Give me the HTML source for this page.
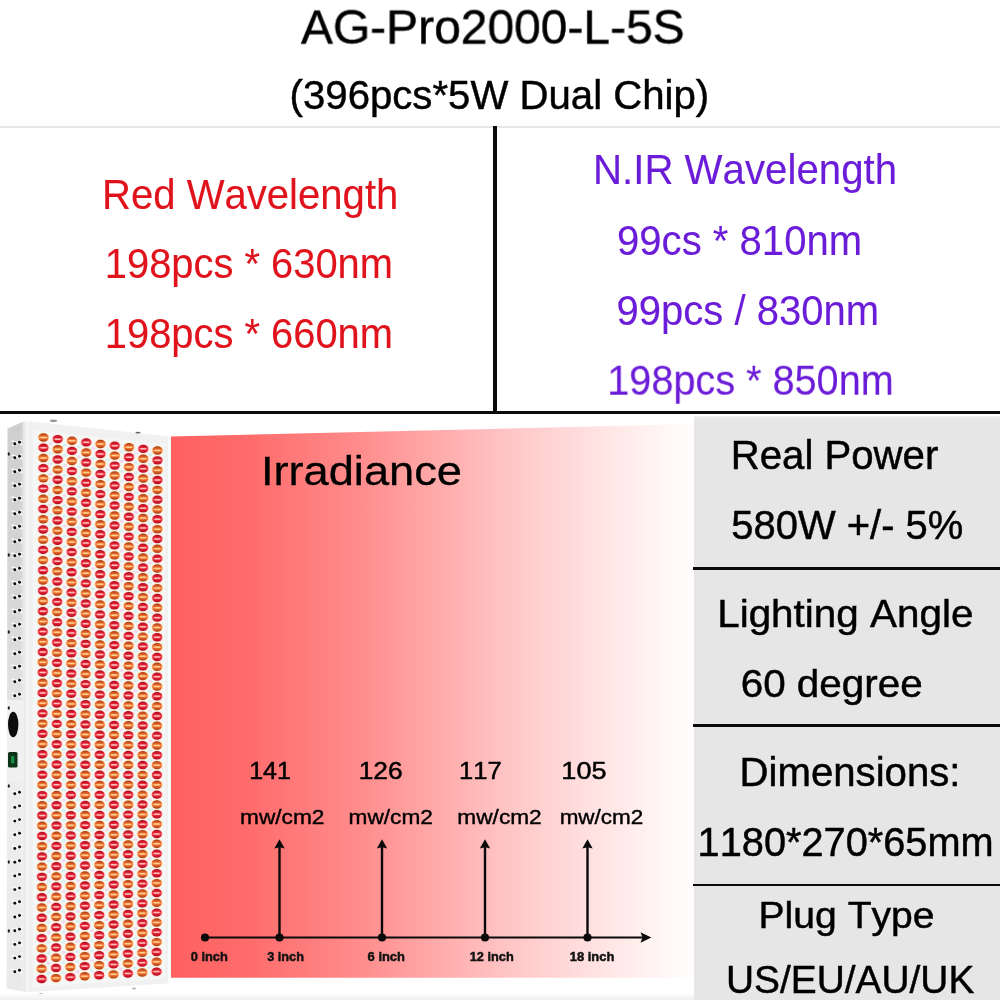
<!DOCTYPE html>
<html><head><meta charset="utf-8"><title>AG-Pro2000-L-5S</title>
<style>
html,body{margin:0;padding:0;background:#fff;width:1000px;height:1000px;overflow:hidden;}
body{width:1000px;height:1000px;position:relative;overflow:hidden;font-family:"Liberation Sans",sans-serif;color:#000;}
.abs{position:absolute;}
.t{position:absolute;left:0;top:0;white-space:pre;line-height:1;transform-origin:0 0;-webkit-text-stroke:0.45px currentColor;will-change:transform;font-kerning:none;}
.red{color:#e0121c;-webkit-text-stroke-width:0.1px;}
.pur{color:#6b1cd8;-webkit-text-stroke-width:0.1px;}
</style></head>
<body>
<svg class="abs" style="left:0;top:414px" width="175" height="586" viewBox="0 414 175 586">
<defs>
<linearGradient id="side" x1="0" x2="0" y1="0" y2="1"><stop offset="0" stop-color="#cecece"/><stop offset="0.3" stop-color="#d6d6d6"/><stop offset="0.5" stop-color="#e2e2e2"/><stop offset="0.62" stop-color="#ededed"/><stop offset="1" stop-color="#e9e9e9"/></linearGradient>
<linearGradient id="sideh" x1="0" x2="1" y1="0" y2="0"><stop offset="0" stop-color="#fff" stop-opacity="0.15"/><stop offset="0.18" stop-color="#fff" stop-opacity="0"/><stop offset="0.8" stop-color="#fff" stop-opacity="0"/><stop offset="1" stop-color="#fff" stop-opacity="0.25"/></linearGradient>
<linearGradient id="bev" x1="0" x2="1" y1="0" y2="0"><stop offset="0" stop-color="#e4e4e4"/><stop offset="0.45" stop-color="#f6f6f6"/><stop offset="1" stop-color="#ededed"/></linearGradient>
<linearGradient id="lr" x1="0" x2="0" y1="0" y2="1"><stop offset="0" stop-color="#a80d1c"/><stop offset="0.3" stop-color="#dc1c30"/><stop offset="0.5" stop-color="#f7565c"/><stop offset="0.7" stop-color="#dc1c30"/><stop offset="1" stop-color="#a80d1c"/></linearGradient>
<linearGradient id="lo" x1="0" x2="0" y1="0" y2="1"><stop offset="0" stop-color="#a03c12"/><stop offset="0.3" stop-color="#e2602a"/><stop offset="0.5" stop-color="#fb9a52"/><stop offset="0.7" stop-color="#e2602a"/><stop offset="1" stop-color="#a03c12"/></linearGradient>
<filter id="soft" x="-5%" y="-5%" width="110%" height="110%"><feGaussianBlur stdDeviation="0.45"/></filter>
</defs>
<g filter="url(#soft)">
<polygon points="31,421.5 168,436.3 168,983.5 31,992" fill="#f1f1f1"/>
<polygon points="33,430.5 165,444 165,978.5 33,987" fill="#f4f7f6"/>
<polygon points="7.5,428.5 23.5,421.5 23.5,991.5 6.5,988.5" fill="url(#side)"/>
<polygon points="7.5,428.5 23.5,421.5 23.5,991.5 6.5,988.5" fill="url(#sideh)"/>
<polygon points="23.5,421.5 31.5,421.5 31.5,992 23.5,991.5" fill="url(#bev)"/>
<ellipse cx="53.5" cy="420.8" rx="3.6" ry="1.4" fill="#9a9a9a"/>
<ellipse cx="138" cy="432.6" rx="2.6" ry="0.9" fill="#666"/>
<ellipse cx="41" cy="994" rx="2" ry="1" fill="#b5b5b5"/>
<ellipse cx="134" cy="988.5" rx="2" ry="1" fill="#b5b5b5"/>
<rect x="7" y="700" width="17" height="82" fill="#f0f0f0"/>
<path d="M11.5 440.8 L22.5 444.8 M12 445.6 L22 440" stroke="#f8f8f8" stroke-width="1.6" fill="none"/>
<circle cx="14.8" cy="443.7" r="1.45" fill="#080808"/><circle cx="19.5" cy="442.2" r="1.45" fill="#080808"/>
<path d="M11.5 454.8 L22.5 458.8 M12 459.6 L22 454" stroke="#f8f8f8" stroke-width="1.6" fill="none"/>
<circle cx="14.8" cy="457.7" r="1.45" fill="#080808"/><circle cx="19.5" cy="456.2" r="1.45" fill="#080808"/>
<path d="M11.5 468.8 L22.5 472.8 M12 473.6 L22 468" stroke="#f8f8f8" stroke-width="1.6" fill="none"/>
<circle cx="14.8" cy="471.7" r="1.45" fill="#080808"/><circle cx="19.5" cy="470.2" r="1.45" fill="#080808"/>
<path d="M11.5 482.8 L22.5 486.8 M12 487.6 L22 482" stroke="#f8f8f8" stroke-width="1.6" fill="none"/>
<circle cx="14.8" cy="485.7" r="1.45" fill="#080808"/><circle cx="19.5" cy="484.2" r="1.45" fill="#080808"/>
<path d="M11.5 496.8 L22.5 500.8 M12 501.6 L22 496" stroke="#f8f8f8" stroke-width="1.6" fill="none"/>
<circle cx="14.8" cy="499.7" r="1.45" fill="#080808"/><circle cx="19.5" cy="498.2" r="1.45" fill="#080808"/>
<path d="M11.5 510.8 L22.5 514.8 M12 515.6 L22 510" stroke="#f8f8f8" stroke-width="1.6" fill="none"/>
<circle cx="14.8" cy="513.7" r="1.45" fill="#080808"/><circle cx="19.5" cy="512.2" r="1.45" fill="#080808"/>
<path d="M11.5 524.8 L22.5 528.8 M12 529.6 L22 524" stroke="#f8f8f8" stroke-width="1.6" fill="none"/>
<circle cx="14.8" cy="527.7" r="1.45" fill="#080808"/><circle cx="19.5" cy="526.2" r="1.45" fill="#080808"/>
<path d="M11.5 538.8 L22.5 542.8 M12 543.6 L22 538" stroke="#f8f8f8" stroke-width="1.6" fill="none"/>
<circle cx="14.8" cy="541.7" r="1.45" fill="#080808"/><circle cx="19.5" cy="540.2" r="1.45" fill="#080808"/>
<path d="M11.5 552.8 L22.5 556.8 M12 557.6 L22 552" stroke="#f8f8f8" stroke-width="1.6" fill="none"/>
<circle cx="14.8" cy="555.7" r="1.45" fill="#080808"/><circle cx="19.5" cy="554.2" r="1.45" fill="#080808"/>
<path d="M11.5 566.8 L22.5 570.8 M12 571.6 L22 566" stroke="#f8f8f8" stroke-width="1.6" fill="none"/>
<circle cx="14.8" cy="569.7" r="1.45" fill="#080808"/><circle cx="19.5" cy="568.2" r="1.45" fill="#080808"/>
<path d="M11.5 580.8 L22.5 584.8 M12 585.6 L22 580" stroke="#f8f8f8" stroke-width="1.6" fill="none"/>
<circle cx="14.8" cy="583.7" r="1.45" fill="#080808"/><circle cx="19.5" cy="582.2" r="1.45" fill="#080808"/>
<path d="M11.5 594.8 L22.5 598.8 M12 599.6 L22 594" stroke="#f8f8f8" stroke-width="1.6" fill="none"/>
<circle cx="14.8" cy="597.7" r="1.45" fill="#080808"/><circle cx="19.5" cy="596.2" r="1.45" fill="#080808"/>
<path d="M11.5 608.8 L22.5 612.8 M12 613.6 L22 608" stroke="#f8f8f8" stroke-width="1.6" fill="none"/>
<circle cx="14.8" cy="611.7" r="1.45" fill="#080808"/><circle cx="19.5" cy="610.2" r="1.45" fill="#080808"/>
<path d="M11.5 622.8 L22.5 626.8 M12 627.6 L22 622" stroke="#f8f8f8" stroke-width="1.6" fill="none"/>
<circle cx="14.8" cy="625.7" r="1.45" fill="#080808"/><circle cx="19.5" cy="624.2" r="1.45" fill="#080808"/>
<path d="M11.5 636.8 L22.5 640.8 M12 641.6 L22 636" stroke="#f8f8f8" stroke-width="1.6" fill="none"/>
<circle cx="14.8" cy="639.7" r="1.45" fill="#080808"/><circle cx="19.5" cy="638.2" r="1.45" fill="#080808"/>
<path d="M11.5 650.8 L22.5 654.8 M12 655.6 L22 650" stroke="#f8f8f8" stroke-width="1.6" fill="none"/>
<circle cx="14.8" cy="653.7" r="1.45" fill="#080808"/><circle cx="19.5" cy="652.2" r="1.45" fill="#080808"/>
<path d="M11.5 664.8 L22.5 668.8 M12 669.6 L22 664" stroke="#f8f8f8" stroke-width="1.6" fill="none"/>
<circle cx="14.8" cy="667.7" r="1.45" fill="#080808"/><circle cx="19.5" cy="666.2" r="1.45" fill="#080808"/>
<path d="M11.5 678.8 L22.5 682.8 M12 683.6 L22 678" stroke="#f8f8f8" stroke-width="1.6" fill="none"/>
<circle cx="14.8" cy="681.7" r="1.45" fill="#080808"/><circle cx="19.5" cy="680.2" r="1.45" fill="#080808"/>
<path d="M11.5 692.8 L22.5 696.8 M12 697.6 L22 692" stroke="#f8f8f8" stroke-width="1.6" fill="none"/>
<circle cx="14.8" cy="695.7" r="1.45" fill="#080808"/><circle cx="19.5" cy="694.2" r="1.45" fill="#080808"/>
<path d="M11.5 790.8 L22.5 794.8 M12 795.6 L22 790" stroke="#f8f8f8" stroke-width="1.6" fill="none"/>
<circle cx="14.8" cy="793.7" r="1.45" fill="#080808"/><circle cx="19.5" cy="792.2" r="1.45" fill="#080808"/>
<path d="M11.5 804.5 L22.5 808.5 M12 809.3 L22 803.7" stroke="#f8f8f8" stroke-width="1.6" fill="none"/>
<circle cx="14.8" cy="807.4" r="1.45" fill="#080808"/><circle cx="19.5" cy="805.9" r="1.45" fill="#080808"/>
<path d="M11.5 818.2 L22.5 822.2 M12 823 L22 817.4" stroke="#f8f8f8" stroke-width="1.6" fill="none"/>
<circle cx="14.8" cy="821.1" r="1.45" fill="#080808"/><circle cx="19.5" cy="819.6" r="1.45" fill="#080808"/>
<path d="M11.5 831.9 L22.5 835.9 M12 836.7 L22 831.1" stroke="#f8f8f8" stroke-width="1.6" fill="none"/>
<circle cx="14.8" cy="834.8" r="1.45" fill="#080808"/><circle cx="19.5" cy="833.3" r="1.45" fill="#080808"/>
<path d="M11.5 845.6 L22.5 849.6 M12 850.4 L22 844.8" stroke="#f8f8f8" stroke-width="1.6" fill="none"/>
<circle cx="14.8" cy="848.5" r="1.45" fill="#080808"/><circle cx="19.5" cy="847" r="1.45" fill="#080808"/>
<path d="M11.5 859.3 L22.5 863.3 M12 864.1 L22 858.5" stroke="#f8f8f8" stroke-width="1.6" fill="none"/>
<circle cx="14.8" cy="862.2" r="1.45" fill="#080808"/><circle cx="19.5" cy="860.7" r="1.45" fill="#080808"/>
<path d="M11.5 873 L22.5 877 M12 877.8 L22 872.2" stroke="#f8f8f8" stroke-width="1.6" fill="none"/>
<circle cx="14.8" cy="875.9" r="1.45" fill="#080808"/><circle cx="19.5" cy="874.4" r="1.45" fill="#080808"/>
<path d="M11.5 886.7 L22.5 890.7 M12 891.5 L22 885.9" stroke="#f8f8f8" stroke-width="1.6" fill="none"/>
<circle cx="14.8" cy="889.6" r="1.45" fill="#080808"/><circle cx="19.5" cy="888.1" r="1.45" fill="#080808"/>
<path d="M11.5 900.4 L22.5 904.4 M12 905.2 L22 899.6" stroke="#f8f8f8" stroke-width="1.6" fill="none"/>
<circle cx="14.8" cy="903.3" r="1.45" fill="#080808"/><circle cx="19.5" cy="901.8" r="1.45" fill="#080808"/>
<path d="M11.5 914.1 L22.5 918.1 M12 918.9 L22 913.3" stroke="#f8f8f8" stroke-width="1.6" fill="none"/>
<circle cx="14.8" cy="917" r="1.45" fill="#080808"/><circle cx="19.5" cy="915.5" r="1.45" fill="#080808"/>
<path d="M11.5 927.8 L22.5 931.8 M12 932.6 L22 927" stroke="#f8f8f8" stroke-width="1.6" fill="none"/>
<circle cx="14.8" cy="930.7" r="1.45" fill="#080808"/><circle cx="19.5" cy="929.2" r="1.45" fill="#080808"/>
<path d="M11.5 941.5 L22.5 945.5 M12 946.3 L22 940.7" stroke="#f8f8f8" stroke-width="1.6" fill="none"/>
<circle cx="14.8" cy="944.4" r="1.45" fill="#080808"/><circle cx="19.5" cy="942.9" r="1.45" fill="#080808"/>
<path d="M11.5 955.2 L22.5 959.2 M12 960 L22 954.4" stroke="#f8f8f8" stroke-width="1.6" fill="none"/>
<circle cx="14.8" cy="958.1" r="1.45" fill="#080808"/><circle cx="19.5" cy="956.6" r="1.45" fill="#080808"/>
<path d="M11.5 968.9 L22.5 972.9 M12 973.7 L22 968.1" stroke="#f8f8f8" stroke-width="1.6" fill="none"/>
<circle cx="14.8" cy="971.8" r="1.45" fill="#080808"/><circle cx="19.5" cy="970.3" r="1.45" fill="#080808"/>
<ellipse cx="8.8" cy="454" rx="1.1" ry="1.8" fill="#1c1c1c"/>
<ellipse cx="8.8" cy="555" rx="1.1" ry="1.8" fill="#1c1c1c"/>
<ellipse cx="8.8" cy="632" rx="1.1" ry="1.8" fill="#1c1c1c"/>
<ellipse cx="8.8" cy="708" rx="1.1" ry="1.8" fill="#1c1c1c"/>
<ellipse cx="8.8" cy="786" rx="1.1" ry="1.8" fill="#1c1c1c"/>
<ellipse cx="8.8" cy="862" rx="1.1" ry="1.8" fill="#1c1c1c"/>
<ellipse cx="8.8" cy="931" rx="1.1" ry="1.8" fill="#1c1c1c"/>
<ellipse cx="13.2" cy="724.5" rx="5.2" ry="12.8" fill="#0e0e0e"/>
<rect x="8" y="752" width="9.5" height="15.5" rx="1.5" fill="#0a3319"/>
<rect x="11" y="756" width="3.4" height="7.5" rx="1" fill="#188f44"/>
<ellipse cx="50.61" cy="443.4" rx="2.2" ry="1.6" fill="#f3dcec"/>
<ellipse cx="64.86" cy="445" rx="2.2" ry="1.6" fill="#d9f0ee"/>
<ellipse cx="79.11" cy="446.6" rx="2.2" ry="1.6" fill="#d9f0ee"/>
<ellipse cx="93.36" cy="448.2" rx="2.2" ry="1.6" fill="#f3dcec"/>
<ellipse cx="107.61" cy="449.8" rx="2.2" ry="1.6" fill="#d9f0ee"/>
<ellipse cx="121.86" cy="451.4" rx="2.2" ry="1.6" fill="#d9f0ee"/>
<ellipse cx="136.12" cy="453" rx="2.2" ry="1.6" fill="#f3dcec"/>
<ellipse cx="150.37" cy="454.6" rx="2.2" ry="1.6" fill="#d9f0ee"/>
<ellipse cx="50.57" cy="453.59" rx="2.2" ry="1.6" fill="#d9f0ee"/>
<ellipse cx="64.83" cy="455.14" rx="2.2" ry="1.6" fill="#d9f0ee"/>
<ellipse cx="79.08" cy="456.7" rx="2.2" ry="1.6" fill="#f3dcec"/>
<ellipse cx="93.33" cy="458.25" rx="2.2" ry="1.6" fill="#d9f0ee"/>
<ellipse cx="107.59" cy="459.8" rx="2.2" ry="1.6" fill="#d9f0ee"/>
<ellipse cx="121.84" cy="461.35" rx="2.2" ry="1.6" fill="#f3dcec"/>
<ellipse cx="136.09" cy="462.91" rx="2.2" ry="1.6" fill="#d9f0ee"/>
<ellipse cx="150.35" cy="464.46" rx="2.2" ry="1.6" fill="#d9f0ee"/>
<ellipse cx="50.54" cy="463.78" rx="2.2" ry="1.6" fill="#d9f0ee"/>
<ellipse cx="64.79" cy="465.29" rx="2.2" ry="1.6" fill="#f3dcec"/>
<ellipse cx="79.05" cy="466.79" rx="2.2" ry="1.6" fill="#d9f0ee"/>
<ellipse cx="93.31" cy="468.3" rx="2.2" ry="1.6" fill="#d9f0ee"/>
<ellipse cx="107.56" cy="469.8" rx="2.2" ry="1.6" fill="#f3dcec"/>
<ellipse cx="121.82" cy="471.31" rx="2.2" ry="1.6" fill="#d9f0ee"/>
<ellipse cx="136.07" cy="472.81" rx="2.2" ry="1.6" fill="#d9f0ee"/>
<ellipse cx="150.33" cy="474.32" rx="2.2" ry="1.6" fill="#f3dcec"/>
<ellipse cx="50.5" cy="473.98" rx="2.2" ry="1.6" fill="#f3dcec"/>
<ellipse cx="64.76" cy="475.43" rx="2.2" ry="1.6" fill="#d9f0ee"/>
<ellipse cx="79.02" cy="476.89" rx="2.2" ry="1.6" fill="#d9f0ee"/>
<ellipse cx="93.28" cy="478.35" rx="2.2" ry="1.6" fill="#f3dcec"/>
<ellipse cx="107.54" cy="479.8" rx="2.2" ry="1.6" fill="#d9f0ee"/>
<ellipse cx="121.8" cy="481.26" rx="2.2" ry="1.6" fill="#d9f0ee"/>
<ellipse cx="136.05" cy="482.72" rx="2.2" ry="1.6" fill="#f3dcec"/>
<ellipse cx="150.31" cy="484.17" rx="2.2" ry="1.6" fill="#d9f0ee"/>
<ellipse cx="50.47" cy="484.17" rx="2.2" ry="1.6" fill="#d9f0ee"/>
<ellipse cx="64.73" cy="485.58" rx="2.2" ry="1.6" fill="#d9f0ee"/>
<ellipse cx="78.99" cy="486.99" rx="2.2" ry="1.6" fill="#f3dcec"/>
<ellipse cx="93.25" cy="488.39" rx="2.2" ry="1.6" fill="#d9f0ee"/>
<ellipse cx="107.51" cy="489.8" rx="2.2" ry="1.6" fill="#d9f0ee"/>
<ellipse cx="121.77" cy="491.21" rx="2.2" ry="1.6" fill="#f3dcec"/>
<ellipse cx="136.03" cy="492.62" rx="2.2" ry="1.6" fill="#d9f0ee"/>
<ellipse cx="150.29" cy="494.03" rx="2.2" ry="1.6" fill="#d9f0ee"/>
<ellipse cx="50.43" cy="494.36" rx="2.2" ry="1.6" fill="#d9f0ee"/>
<ellipse cx="64.7" cy="495.72" rx="2.2" ry="1.6" fill="#f3dcec"/>
<ellipse cx="78.96" cy="497.08" rx="2.2" ry="1.6" fill="#d9f0ee"/>
<ellipse cx="93.22" cy="498.44" rx="2.2" ry="1.6" fill="#d9f0ee"/>
<ellipse cx="107.49" cy="499.8" rx="2.2" ry="1.6" fill="#f3dcec"/>
<ellipse cx="121.75" cy="501.16" rx="2.2" ry="1.6" fill="#d9f0ee"/>
<ellipse cx="136.01" cy="502.52" rx="2.2" ry="1.6" fill="#d9f0ee"/>
<ellipse cx="150.28" cy="503.88" rx="2.2" ry="1.6" fill="#f3dcec"/>
<ellipse cx="50.4" cy="504.55" rx="2.2" ry="1.6" fill="#f3dcec"/>
<ellipse cx="64.67" cy="505.87" rx="2.2" ry="1.6" fill="#d9f0ee"/>
<ellipse cx="78.93" cy="507.18" rx="2.2" ry="1.6" fill="#d9f0ee"/>
<ellipse cx="93.2" cy="508.49" rx="2.2" ry="1.6" fill="#f3dcec"/>
<ellipse cx="107.46" cy="509.8" rx="2.2" ry="1.6" fill="#d9f0ee"/>
<ellipse cx="121.73" cy="511.12" rx="2.2" ry="1.6" fill="#d9f0ee"/>
<ellipse cx="135.99" cy="512.43" rx="2.2" ry="1.6" fill="#f3dcec"/>
<ellipse cx="150.26" cy="513.74" rx="2.2" ry="1.6" fill="#d9f0ee"/>
<ellipse cx="50.37" cy="514.75" rx="2.2" ry="1.6" fill="#d9f0ee"/>
<ellipse cx="64.63" cy="516.01" rx="2.2" ry="1.6" fill="#d9f0ee"/>
<ellipse cx="78.9" cy="517.28" rx="2.2" ry="1.6" fill="#f3dcec"/>
<ellipse cx="93.17" cy="518.54" rx="2.2" ry="1.6" fill="#d9f0ee"/>
<ellipse cx="107.44" cy="519.8" rx="2.2" ry="1.6" fill="#d9f0ee"/>
<ellipse cx="121.7" cy="521.07" rx="2.2" ry="1.6" fill="#f3dcec"/>
<ellipse cx="135.97" cy="522.33" rx="2.2" ry="1.6" fill="#d9f0ee"/>
<ellipse cx="150.24" cy="523.6" rx="2.2" ry="1.6" fill="#d9f0ee"/>
<ellipse cx="50.33" cy="524.94" rx="2.2" ry="1.6" fill="#d9f0ee"/>
<ellipse cx="64.6" cy="526.16" rx="2.2" ry="1.6" fill="#f3dcec"/>
<ellipse cx="78.87" cy="527.37" rx="2.2" ry="1.6" fill="#d9f0ee"/>
<ellipse cx="93.14" cy="528.59" rx="2.2" ry="1.6" fill="#d9f0ee"/>
<ellipse cx="107.41" cy="529.8" rx="2.2" ry="1.6" fill="#f3dcec"/>
<ellipse cx="121.68" cy="531.02" rx="2.2" ry="1.6" fill="#d9f0ee"/>
<ellipse cx="135.95" cy="532.24" rx="2.2" ry="1.6" fill="#d9f0ee"/>
<ellipse cx="150.22" cy="533.45" rx="2.2" ry="1.6" fill="#f3dcec"/>
<ellipse cx="50.3" cy="535.13" rx="2.2" ry="1.6" fill="#f3dcec"/>
<ellipse cx="64.57" cy="536.3" rx="2.2" ry="1.6" fill="#d9f0ee"/>
<ellipse cx="78.84" cy="537.47" rx="2.2" ry="1.6" fill="#d9f0ee"/>
<ellipse cx="93.11" cy="538.64" rx="2.2" ry="1.6" fill="#f3dcec"/>
<ellipse cx="107.39" cy="539.8" rx="2.2" ry="1.6" fill="#d9f0ee"/>
<ellipse cx="121.66" cy="540.97" rx="2.2" ry="1.6" fill="#d9f0ee"/>
<ellipse cx="135.93" cy="542.14" rx="2.2" ry="1.6" fill="#f3dcec"/>
<ellipse cx="150.2" cy="543.31" rx="2.2" ry="1.6" fill="#d9f0ee"/>
<ellipse cx="50.26" cy="545.33" rx="2.2" ry="1.6" fill="#d9f0ee"/>
<ellipse cx="64.54" cy="546.45" rx="2.2" ry="1.6" fill="#d9f0ee"/>
<ellipse cx="78.81" cy="547.57" rx="2.2" ry="1.6" fill="#f3dcec"/>
<ellipse cx="93.09" cy="548.69" rx="2.2" ry="1.6" fill="#d9f0ee"/>
<ellipse cx="107.36" cy="549.81" rx="2.2" ry="1.6" fill="#d9f0ee"/>
<ellipse cx="121.64" cy="550.93" rx="2.2" ry="1.6" fill="#f3dcec"/>
<ellipse cx="135.91" cy="552.05" rx="2.2" ry="1.6" fill="#d9f0ee"/>
<ellipse cx="150.18" cy="553.16" rx="2.2" ry="1.6" fill="#d9f0ee"/>
<ellipse cx="50.23" cy="555.52" rx="2.2" ry="1.6" fill="#d9f0ee"/>
<ellipse cx="64.5" cy="556.59" rx="2.2" ry="1.6" fill="#f3dcec"/>
<ellipse cx="78.78" cy="557.66" rx="2.2" ry="1.6" fill="#d9f0ee"/>
<ellipse cx="93.06" cy="558.73" rx="2.2" ry="1.6" fill="#d9f0ee"/>
<ellipse cx="107.34" cy="559.81" rx="2.2" ry="1.6" fill="#f3dcec"/>
<ellipse cx="121.61" cy="560.88" rx="2.2" ry="1.6" fill="#d9f0ee"/>
<ellipse cx="135.89" cy="561.95" rx="2.2" ry="1.6" fill="#d9f0ee"/>
<ellipse cx="150.17" cy="563.02" rx="2.2" ry="1.6" fill="#f3dcec"/>
<ellipse cx="50.19" cy="565.71" rx="2.2" ry="1.6" fill="#f3dcec"/>
<ellipse cx="64.47" cy="566.74" rx="2.2" ry="1.6" fill="#d9f0ee"/>
<ellipse cx="78.75" cy="567.76" rx="2.2" ry="1.6" fill="#d9f0ee"/>
<ellipse cx="93.03" cy="568.78" rx="2.2" ry="1.6" fill="#f3dcec"/>
<ellipse cx="107.31" cy="569.81" rx="2.2" ry="1.6" fill="#d9f0ee"/>
<ellipse cx="121.59" cy="570.83" rx="2.2" ry="1.6" fill="#d9f0ee"/>
<ellipse cx="135.87" cy="571.85" rx="2.2" ry="1.6" fill="#f3dcec"/>
<ellipse cx="150.15" cy="572.88" rx="2.2" ry="1.6" fill="#d9f0ee"/>
<ellipse cx="50.16" cy="575.9" rx="2.2" ry="1.6" fill="#d9f0ee"/>
<ellipse cx="64.44" cy="576.88" rx="2.2" ry="1.6" fill="#d9f0ee"/>
<ellipse cx="78.72" cy="577.86" rx="2.2" ry="1.6" fill="#f3dcec"/>
<ellipse cx="93" cy="578.83" rx="2.2" ry="1.6" fill="#d9f0ee"/>
<ellipse cx="107.28" cy="579.81" rx="2.2" ry="1.6" fill="#d9f0ee"/>
<ellipse cx="121.57" cy="580.78" rx="2.2" ry="1.6" fill="#f3dcec"/>
<ellipse cx="135.85" cy="581.76" rx="2.2" ry="1.6" fill="#d9f0ee"/>
<ellipse cx="150.13" cy="582.73" rx="2.2" ry="1.6" fill="#d9f0ee"/>
<ellipse cx="50.12" cy="586.1" rx="2.2" ry="1.6" fill="#d9f0ee"/>
<ellipse cx="64.41" cy="587.03" rx="2.2" ry="1.6" fill="#f3dcec"/>
<ellipse cx="78.69" cy="587.95" rx="2.2" ry="1.6" fill="#d9f0ee"/>
<ellipse cx="92.98" cy="588.88" rx="2.2" ry="1.6" fill="#d9f0ee"/>
<ellipse cx="107.26" cy="589.81" rx="2.2" ry="1.6" fill="#f3dcec"/>
<ellipse cx="121.54" cy="590.73" rx="2.2" ry="1.6" fill="#d9f0ee"/>
<ellipse cx="135.83" cy="591.66" rx="2.2" ry="1.6" fill="#d9f0ee"/>
<ellipse cx="150.11" cy="592.59" rx="2.2" ry="1.6" fill="#f3dcec"/>
<ellipse cx="50.09" cy="596.29" rx="2.2" ry="1.6" fill="#f3dcec"/>
<ellipse cx="64.37" cy="597.17" rx="2.2" ry="1.6" fill="#d9f0ee"/>
<ellipse cx="78.66" cy="598.05" rx="2.2" ry="1.6" fill="#d9f0ee"/>
<ellipse cx="92.95" cy="598.93" rx="2.2" ry="1.6" fill="#f3dcec"/>
<ellipse cx="107.23" cy="599.81" rx="2.2" ry="1.6" fill="#d9f0ee"/>
<ellipse cx="121.52" cy="600.69" rx="2.2" ry="1.6" fill="#d9f0ee"/>
<ellipse cx="135.81" cy="601.57" rx="2.2" ry="1.6" fill="#f3dcec"/>
<ellipse cx="150.09" cy="602.45" rx="2.2" ry="1.6" fill="#d9f0ee"/>
<ellipse cx="50.05" cy="606.48" rx="2.2" ry="1.6" fill="#d9f0ee"/>
<ellipse cx="64.34" cy="607.31" rx="2.2" ry="1.6" fill="#d9f0ee"/>
<ellipse cx="78.63" cy="608.15" rx="2.2" ry="1.6" fill="#f3dcec"/>
<ellipse cx="92.92" cy="608.98" rx="2.2" ry="1.6" fill="#d9f0ee"/>
<ellipse cx="107.21" cy="609.81" rx="2.2" ry="1.6" fill="#d9f0ee"/>
<ellipse cx="121.5" cy="610.64" rx="2.2" ry="1.6" fill="#f3dcec"/>
<ellipse cx="135.79" cy="611.47" rx="2.2" ry="1.6" fill="#d9f0ee"/>
<ellipse cx="150.08" cy="612.3" rx="2.2" ry="1.6" fill="#d9f0ee"/>
<ellipse cx="50.02" cy="616.68" rx="2.2" ry="1.6" fill="#d9f0ee"/>
<ellipse cx="64.31" cy="617.46" rx="2.2" ry="1.6" fill="#f3dcec"/>
<ellipse cx="78.6" cy="618.24" rx="2.2" ry="1.6" fill="#d9f0ee"/>
<ellipse cx="92.89" cy="619.03" rx="2.2" ry="1.6" fill="#d9f0ee"/>
<ellipse cx="107.18" cy="619.81" rx="2.2" ry="1.6" fill="#f3dcec"/>
<ellipse cx="121.48" cy="620.59" rx="2.2" ry="1.6" fill="#d9f0ee"/>
<ellipse cx="135.77" cy="621.37" rx="2.2" ry="1.6" fill="#d9f0ee"/>
<ellipse cx="150.06" cy="622.16" rx="2.2" ry="1.6" fill="#f3dcec"/>
<ellipse cx="49.98" cy="626.87" rx="2.2" ry="1.6" fill="#f3dcec"/>
<ellipse cx="64.28" cy="627.6" rx="2.2" ry="1.6" fill="#d9f0ee"/>
<ellipse cx="78.57" cy="628.34" rx="2.2" ry="1.6" fill="#d9f0ee"/>
<ellipse cx="92.87" cy="629.07" rx="2.2" ry="1.6" fill="#f3dcec"/>
<ellipse cx="107.16" cy="629.81" rx="2.2" ry="1.6" fill="#d9f0ee"/>
<ellipse cx="121.45" cy="630.54" rx="2.2" ry="1.6" fill="#d9f0ee"/>
<ellipse cx="135.75" cy="631.28" rx="2.2" ry="1.6" fill="#f3dcec"/>
<ellipse cx="150.04" cy="632.01" rx="2.2" ry="1.6" fill="#d9f0ee"/>
<ellipse cx="49.95" cy="637.06" rx="2.2" ry="1.6" fill="#d9f0ee"/>
<ellipse cx="64.25" cy="637.75" rx="2.2" ry="1.6" fill="#d9f0ee"/>
<ellipse cx="78.54" cy="638.44" rx="2.2" ry="1.6" fill="#f3dcec"/>
<ellipse cx="92.84" cy="639.12" rx="2.2" ry="1.6" fill="#d9f0ee"/>
<ellipse cx="107.13" cy="639.81" rx="2.2" ry="1.6" fill="#d9f0ee"/>
<ellipse cx="121.43" cy="640.5" rx="2.2" ry="1.6" fill="#f3dcec"/>
<ellipse cx="135.73" cy="641.18" rx="2.2" ry="1.6" fill="#d9f0ee"/>
<ellipse cx="150.02" cy="641.87" rx="2.2" ry="1.6" fill="#d9f0ee"/>
<ellipse cx="49.91" cy="647.26" rx="2.2" ry="1.6" fill="#d9f0ee"/>
<ellipse cx="64.21" cy="647.89" rx="2.2" ry="1.6" fill="#f3dcec"/>
<ellipse cx="78.51" cy="648.53" rx="2.2" ry="1.6" fill="#d9f0ee"/>
<ellipse cx="92.81" cy="649.17" rx="2.2" ry="1.6" fill="#d9f0ee"/>
<ellipse cx="107.11" cy="649.81" rx="2.2" ry="1.6" fill="#f3dcec"/>
<ellipse cx="121.41" cy="650.45" rx="2.2" ry="1.6" fill="#d9f0ee"/>
<ellipse cx="135.7" cy="651.09" rx="2.2" ry="1.6" fill="#d9f0ee"/>
<ellipse cx="150" cy="651.73" rx="2.2" ry="1.6" fill="#f3dcec"/>
<ellipse cx="49.88" cy="657.45" rx="2.2" ry="1.6" fill="#f3dcec"/>
<ellipse cx="64.18" cy="658.04" rx="2.2" ry="1.6" fill="#d9f0ee"/>
<ellipse cx="78.48" cy="658.63" rx="2.2" ry="1.6" fill="#d9f0ee"/>
<ellipse cx="92.78" cy="659.22" rx="2.2" ry="1.6" fill="#f3dcec"/>
<ellipse cx="107.08" cy="659.81" rx="2.2" ry="1.6" fill="#d9f0ee"/>
<ellipse cx="121.38" cy="660.4" rx="2.2" ry="1.6" fill="#d9f0ee"/>
<ellipse cx="135.68" cy="660.99" rx="2.2" ry="1.6" fill="#f3dcec"/>
<ellipse cx="149.99" cy="661.58" rx="2.2" ry="1.6" fill="#d9f0ee"/>
<ellipse cx="49.85" cy="667.64" rx="2.2" ry="1.6" fill="#d9f0ee"/>
<ellipse cx="64.15" cy="668.18" rx="2.2" ry="1.6" fill="#d9f0ee"/>
<ellipse cx="78.45" cy="668.73" rx="2.2" ry="1.6" fill="#f3dcec"/>
<ellipse cx="92.75" cy="669.27" rx="2.2" ry="1.6" fill="#d9f0ee"/>
<ellipse cx="107.06" cy="669.81" rx="2.2" ry="1.6" fill="#d9f0ee"/>
<ellipse cx="121.36" cy="670.35" rx="2.2" ry="1.6" fill="#f3dcec"/>
<ellipse cx="135.66" cy="670.9" rx="2.2" ry="1.6" fill="#d9f0ee"/>
<ellipse cx="149.97" cy="671.44" rx="2.2" ry="1.6" fill="#d9f0ee"/>
<ellipse cx="49.81" cy="677.83" rx="2.2" ry="1.6" fill="#d9f0ee"/>
<ellipse cx="64.12" cy="678.33" rx="2.2" ry="1.6" fill="#f3dcec"/>
<ellipse cx="78.42" cy="678.82" rx="2.2" ry="1.6" fill="#d9f0ee"/>
<ellipse cx="92.73" cy="679.32" rx="2.2" ry="1.6" fill="#d9f0ee"/>
<ellipse cx="107.03" cy="679.81" rx="2.2" ry="1.6" fill="#f3dcec"/>
<ellipse cx="121.34" cy="680.31" rx="2.2" ry="1.6" fill="#d9f0ee"/>
<ellipse cx="135.64" cy="680.8" rx="2.2" ry="1.6" fill="#d9f0ee"/>
<ellipse cx="149.95" cy="681.29" rx="2.2" ry="1.6" fill="#f3dcec"/>
<ellipse cx="49.78" cy="688.03" rx="2.2" ry="1.6" fill="#f3dcec"/>
<ellipse cx="64.08" cy="688.47" rx="2.2" ry="1.6" fill="#d9f0ee"/>
<ellipse cx="78.39" cy="688.92" rx="2.2" ry="1.6" fill="#d9f0ee"/>
<ellipse cx="92.7" cy="689.37" rx="2.2" ry="1.6" fill="#f3dcec"/>
<ellipse cx="107.01" cy="689.81" rx="2.2" ry="1.6" fill="#d9f0ee"/>
<ellipse cx="121.32" cy="690.26" rx="2.2" ry="1.6" fill="#d9f0ee"/>
<ellipse cx="135.62" cy="690.7" rx="2.2" ry="1.6" fill="#f3dcec"/>
<ellipse cx="149.93" cy="691.15" rx="2.2" ry="1.6" fill="#d9f0ee"/>
<ellipse cx="49.74" cy="698.22" rx="2.2" ry="1.6" fill="#d9f0ee"/>
<ellipse cx="64.05" cy="698.62" rx="2.2" ry="1.6" fill="#d9f0ee"/>
<ellipse cx="78.36" cy="699.02" rx="2.2" ry="1.6" fill="#f3dcec"/>
<ellipse cx="92.67" cy="699.41" rx="2.2" ry="1.6" fill="#d9f0ee"/>
<ellipse cx="106.98" cy="699.81" rx="2.2" ry="1.6" fill="#d9f0ee"/>
<ellipse cx="121.29" cy="700.21" rx="2.2" ry="1.6" fill="#f3dcec"/>
<ellipse cx="135.6" cy="700.61" rx="2.2" ry="1.6" fill="#d9f0ee"/>
<ellipse cx="149.91" cy="701.01" rx="2.2" ry="1.6" fill="#d9f0ee"/>
<ellipse cx="49.71" cy="708.41" rx="2.2" ry="1.6" fill="#d9f0ee"/>
<ellipse cx="64.02" cy="708.76" rx="2.2" ry="1.6" fill="#f3dcec"/>
<ellipse cx="78.33" cy="709.11" rx="2.2" ry="1.6" fill="#d9f0ee"/>
<ellipse cx="92.64" cy="709.46" rx="2.2" ry="1.6" fill="#d9f0ee"/>
<ellipse cx="106.96" cy="709.81" rx="2.2" ry="1.6" fill="#f3dcec"/>
<ellipse cx="121.27" cy="710.16" rx="2.2" ry="1.6" fill="#d9f0ee"/>
<ellipse cx="135.58" cy="710.51" rx="2.2" ry="1.6" fill="#d9f0ee"/>
<ellipse cx="149.89" cy="710.86" rx="2.2" ry="1.6" fill="#f3dcec"/>
<ellipse cx="49.67" cy="718.61" rx="2.2" ry="1.6" fill="#f3dcec"/>
<ellipse cx="63.99" cy="718.91" rx="2.2" ry="1.6" fill="#d9f0ee"/>
<ellipse cx="78.3" cy="719.21" rx="2.2" ry="1.6" fill="#d9f0ee"/>
<ellipse cx="92.62" cy="719.51" rx="2.2" ry="1.6" fill="#f3dcec"/>
<ellipse cx="106.93" cy="719.81" rx="2.2" ry="1.6" fill="#d9f0ee"/>
<ellipse cx="121.25" cy="720.12" rx="2.2" ry="1.6" fill="#d9f0ee"/>
<ellipse cx="135.56" cy="720.42" rx="2.2" ry="1.6" fill="#f3dcec"/>
<ellipse cx="149.88" cy="720.72" rx="2.2" ry="1.6" fill="#d9f0ee"/>
<ellipse cx="49.64" cy="728.8" rx="2.2" ry="1.6" fill="#d9f0ee"/>
<ellipse cx="63.95" cy="729.05" rx="2.2" ry="1.6" fill="#d9f0ee"/>
<ellipse cx="78.27" cy="729.31" rx="2.2" ry="1.6" fill="#f3dcec"/>
<ellipse cx="92.59" cy="729.56" rx="2.2" ry="1.6" fill="#d9f0ee"/>
<ellipse cx="106.91" cy="729.81" rx="2.2" ry="1.6" fill="#d9f0ee"/>
<ellipse cx="121.22" cy="730.07" rx="2.2" ry="1.6" fill="#f3dcec"/>
<ellipse cx="135.54" cy="730.32" rx="2.2" ry="1.6" fill="#d9f0ee"/>
<ellipse cx="149.86" cy="730.58" rx="2.2" ry="1.6" fill="#d9f0ee"/>
<ellipse cx="49.6" cy="738.99" rx="2.2" ry="1.6" fill="#d9f0ee"/>
<ellipse cx="63.92" cy="739.2" rx="2.2" ry="1.6" fill="#f3dcec"/>
<ellipse cx="78.24" cy="739.4" rx="2.2" ry="1.6" fill="#d9f0ee"/>
<ellipse cx="92.56" cy="739.61" rx="2.2" ry="1.6" fill="#d9f0ee"/>
<ellipse cx="106.88" cy="739.81" rx="2.2" ry="1.6" fill="#f3dcec"/>
<ellipse cx="121.2" cy="740.02" rx="2.2" ry="1.6" fill="#d9f0ee"/>
<ellipse cx="135.52" cy="740.23" rx="2.2" ry="1.6" fill="#d9f0ee"/>
<ellipse cx="149.84" cy="740.43" rx="2.2" ry="1.6" fill="#f3dcec"/>
<ellipse cx="49.57" cy="749.18" rx="2.2" ry="1.6" fill="#f3dcec"/>
<ellipse cx="63.89" cy="749.34" rx="2.2" ry="1.6" fill="#d9f0ee"/>
<ellipse cx="78.21" cy="749.5" rx="2.2" ry="1.6" fill="#d9f0ee"/>
<ellipse cx="92.53" cy="749.66" rx="2.2" ry="1.6" fill="#f3dcec"/>
<ellipse cx="106.86" cy="749.81" rx="2.2" ry="1.6" fill="#d9f0ee"/>
<ellipse cx="121.18" cy="749.97" rx="2.2" ry="1.6" fill="#d9f0ee"/>
<ellipse cx="135.5" cy="750.13" rx="2.2" ry="1.6" fill="#f3dcec"/>
<ellipse cx="149.82" cy="750.29" rx="2.2" ry="1.6" fill="#d9f0ee"/>
<ellipse cx="49.53" cy="759.38" rx="2.2" ry="1.6" fill="#d9f0ee"/>
<ellipse cx="63.86" cy="759.49" rx="2.2" ry="1.6" fill="#d9f0ee"/>
<ellipse cx="78.18" cy="759.6" rx="2.2" ry="1.6" fill="#f3dcec"/>
<ellipse cx="92.51" cy="759.71" rx="2.2" ry="1.6" fill="#d9f0ee"/>
<ellipse cx="106.83" cy="759.82" rx="2.2" ry="1.6" fill="#d9f0ee"/>
<ellipse cx="121.15" cy="759.92" rx="2.2" ry="1.6" fill="#f3dcec"/>
<ellipse cx="135.48" cy="760.03" rx="2.2" ry="1.6" fill="#d9f0ee"/>
<ellipse cx="149.8" cy="760.14" rx="2.2" ry="1.6" fill="#d9f0ee"/>
<ellipse cx="49.5" cy="769.57" rx="2.2" ry="1.6" fill="#d9f0ee"/>
<ellipse cx="63.83" cy="769.63" rx="2.2" ry="1.6" fill="#f3dcec"/>
<ellipse cx="78.15" cy="769.69" rx="2.2" ry="1.6" fill="#d9f0ee"/>
<ellipse cx="92.48" cy="769.75" rx="2.2" ry="1.6" fill="#d9f0ee"/>
<ellipse cx="106.81" cy="769.82" rx="2.2" ry="1.6" fill="#f3dcec"/>
<ellipse cx="121.13" cy="769.88" rx="2.2" ry="1.6" fill="#d9f0ee"/>
<ellipse cx="135.46" cy="769.94" rx="2.2" ry="1.6" fill="#d9f0ee"/>
<ellipse cx="149.79" cy="770" rx="2.2" ry="1.6" fill="#f3dcec"/>
<ellipse cx="49.46" cy="779.76" rx="2.2" ry="1.6" fill="#f3dcec"/>
<ellipse cx="63.79" cy="779.78" rx="2.2" ry="1.6" fill="#d9f0ee"/>
<ellipse cx="78.12" cy="779.79" rx="2.2" ry="1.6" fill="#d9f0ee"/>
<ellipse cx="92.45" cy="779.8" rx="2.2" ry="1.6" fill="#f3dcec"/>
<ellipse cx="106.78" cy="779.82" rx="2.2" ry="1.6" fill="#d9f0ee"/>
<ellipse cx="121.11" cy="779.83" rx="2.2" ry="1.6" fill="#d9f0ee"/>
<ellipse cx="135.44" cy="779.84" rx="2.2" ry="1.6" fill="#f3dcec"/>
<ellipse cx="149.77" cy="779.86" rx="2.2" ry="1.6" fill="#d9f0ee"/>
<ellipse cx="49.43" cy="789.96" rx="2.2" ry="1.6" fill="#d9f0ee"/>
<ellipse cx="63.76" cy="789.92" rx="2.2" ry="1.6" fill="#d9f0ee"/>
<ellipse cx="78.09" cy="789.89" rx="2.2" ry="1.6" fill="#f3dcec"/>
<ellipse cx="92.42" cy="789.85" rx="2.2" ry="1.6" fill="#d9f0ee"/>
<ellipse cx="106.75" cy="789.82" rx="2.2" ry="1.6" fill="#d9f0ee"/>
<ellipse cx="121.09" cy="789.78" rx="2.2" ry="1.6" fill="#f3dcec"/>
<ellipse cx="135.42" cy="789.75" rx="2.2" ry="1.6" fill="#d9f0ee"/>
<ellipse cx="149.75" cy="789.71" rx="2.2" ry="1.6" fill="#d9f0ee"/>
<ellipse cx="49.39" cy="800.15" rx="2.2" ry="1.6" fill="#d9f0ee"/>
<ellipse cx="63.73" cy="800.07" rx="2.2" ry="1.6" fill="#f3dcec"/>
<ellipse cx="78.06" cy="799.98" rx="2.2" ry="1.6" fill="#d9f0ee"/>
<ellipse cx="92.4" cy="799.9" rx="2.2" ry="1.6" fill="#d9f0ee"/>
<ellipse cx="106.73" cy="799.82" rx="2.2" ry="1.6" fill="#f3dcec"/>
<ellipse cx="121.06" cy="799.73" rx="2.2" ry="1.6" fill="#d9f0ee"/>
<ellipse cx="135.4" cy="799.65" rx="2.2" ry="1.6" fill="#d9f0ee"/>
<ellipse cx="149.73" cy="799.57" rx="2.2" ry="1.6" fill="#f3dcec"/>
<ellipse cx="49.36" cy="810.34" rx="2.2" ry="1.6" fill="#f3dcec"/>
<ellipse cx="63.7" cy="810.21" rx="2.2" ry="1.6" fill="#d9f0ee"/>
<ellipse cx="78.03" cy="810.08" rx="2.2" ry="1.6" fill="#d9f0ee"/>
<ellipse cx="92.37" cy="809.95" rx="2.2" ry="1.6" fill="#f3dcec"/>
<ellipse cx="106.7" cy="809.82" rx="2.2" ry="1.6" fill="#d9f0ee"/>
<ellipse cx="121.04" cy="809.69" rx="2.2" ry="1.6" fill="#d9f0ee"/>
<ellipse cx="135.38" cy="809.56" rx="2.2" ry="1.6" fill="#f3dcec"/>
<ellipse cx="149.71" cy="809.42" rx="2.2" ry="1.6" fill="#d9f0ee"/>
<ellipse cx="49.33" cy="820.54" rx="2.2" ry="1.6" fill="#d9f0ee"/>
<ellipse cx="63.66" cy="820.36" rx="2.2" ry="1.6" fill="#d9f0ee"/>
<ellipse cx="78" cy="820.18" rx="2.2" ry="1.6" fill="#f3dcec"/>
<ellipse cx="92.34" cy="820" rx="2.2" ry="1.6" fill="#d9f0ee"/>
<ellipse cx="106.68" cy="819.82" rx="2.2" ry="1.6" fill="#d9f0ee"/>
<ellipse cx="121.02" cy="819.64" rx="2.2" ry="1.6" fill="#f3dcec"/>
<ellipse cx="135.36" cy="819.46" rx="2.2" ry="1.6" fill="#d9f0ee"/>
<ellipse cx="149.69" cy="819.28" rx="2.2" ry="1.6" fill="#d9f0ee"/>
<ellipse cx="49.29" cy="830.73" rx="2.2" ry="1.6" fill="#d9f0ee"/>
<ellipse cx="63.63" cy="830.5" rx="2.2" ry="1.6" fill="#f3dcec"/>
<ellipse cx="77.97" cy="830.27" rx="2.2" ry="1.6" fill="#d9f0ee"/>
<ellipse cx="92.31" cy="830.05" rx="2.2" ry="1.6" fill="#d9f0ee"/>
<ellipse cx="106.65" cy="829.82" rx="2.2" ry="1.6" fill="#f3dcec"/>
<ellipse cx="120.99" cy="829.59" rx="2.2" ry="1.6" fill="#d9f0ee"/>
<ellipse cx="135.34" cy="829.36" rx="2.2" ry="1.6" fill="#d9f0ee"/>
<ellipse cx="149.68" cy="829.14" rx="2.2" ry="1.6" fill="#f3dcec"/>
<ellipse cx="49.26" cy="840.92" rx="2.2" ry="1.6" fill="#f3dcec"/>
<ellipse cx="63.6" cy="840.65" rx="2.2" ry="1.6" fill="#d9f0ee"/>
<ellipse cx="77.94" cy="840.37" rx="2.2" ry="1.6" fill="#d9f0ee"/>
<ellipse cx="92.29" cy="840.09" rx="2.2" ry="1.6" fill="#f3dcec"/>
<ellipse cx="106.63" cy="839.82" rx="2.2" ry="1.6" fill="#d9f0ee"/>
<ellipse cx="120.97" cy="839.54" rx="2.2" ry="1.6" fill="#d9f0ee"/>
<ellipse cx="135.32" cy="839.27" rx="2.2" ry="1.6" fill="#f3dcec"/>
<ellipse cx="149.66" cy="838.99" rx="2.2" ry="1.6" fill="#d9f0ee"/>
<ellipse cx="49.22" cy="851.11" rx="2.2" ry="1.6" fill="#d9f0ee"/>
<ellipse cx="63.57" cy="850.79" rx="2.2" ry="1.6" fill="#d9f0ee"/>
<ellipse cx="77.91" cy="850.47" rx="2.2" ry="1.6" fill="#f3dcec"/>
<ellipse cx="92.26" cy="850.14" rx="2.2" ry="1.6" fill="#d9f0ee"/>
<ellipse cx="106.6" cy="849.82" rx="2.2" ry="1.6" fill="#d9f0ee"/>
<ellipse cx="120.95" cy="849.5" rx="2.2" ry="1.6" fill="#f3dcec"/>
<ellipse cx="135.29" cy="849.17" rx="2.2" ry="1.6" fill="#d9f0ee"/>
<ellipse cx="149.64" cy="848.85" rx="2.2" ry="1.6" fill="#d9f0ee"/>
<ellipse cx="49.19" cy="861.31" rx="2.2" ry="1.6" fill="#d9f0ee"/>
<ellipse cx="63.53" cy="860.94" rx="2.2" ry="1.6" fill="#f3dcec"/>
<ellipse cx="77.88" cy="860.56" rx="2.2" ry="1.6" fill="#d9f0ee"/>
<ellipse cx="92.23" cy="860.19" rx="2.2" ry="1.6" fill="#d9f0ee"/>
<ellipse cx="106.58" cy="859.82" rx="2.2" ry="1.6" fill="#f3dcec"/>
<ellipse cx="120.93" cy="859.45" rx="2.2" ry="1.6" fill="#d9f0ee"/>
<ellipse cx="135.27" cy="859.08" rx="2.2" ry="1.6" fill="#d9f0ee"/>
<ellipse cx="149.62" cy="858.7" rx="2.2" ry="1.6" fill="#f3dcec"/>
<ellipse cx="49.15" cy="871.5" rx="2.2" ry="1.6" fill="#f3dcec"/>
<ellipse cx="63.5" cy="871.08" rx="2.2" ry="1.6" fill="#d9f0ee"/>
<ellipse cx="77.85" cy="870.66" rx="2.2" ry="1.6" fill="#d9f0ee"/>
<ellipse cx="92.2" cy="870.24" rx="2.2" ry="1.6" fill="#f3dcec"/>
<ellipse cx="106.55" cy="869.82" rx="2.2" ry="1.6" fill="#d9f0ee"/>
<ellipse cx="120.9" cy="869.4" rx="2.2" ry="1.6" fill="#d9f0ee"/>
<ellipse cx="135.25" cy="868.98" rx="2.2" ry="1.6" fill="#f3dcec"/>
<ellipse cx="149.6" cy="868.56" rx="2.2" ry="1.6" fill="#d9f0ee"/>
<ellipse cx="49.12" cy="881.69" rx="2.2" ry="1.6" fill="#d9f0ee"/>
<ellipse cx="63.47" cy="881.22" rx="2.2" ry="1.6" fill="#d9f0ee"/>
<ellipse cx="77.82" cy="880.76" rx="2.2" ry="1.6" fill="#f3dcec"/>
<ellipse cx="92.18" cy="880.29" rx="2.2" ry="1.6" fill="#d9f0ee"/>
<ellipse cx="106.53" cy="879.82" rx="2.2" ry="1.6" fill="#d9f0ee"/>
<ellipse cx="120.88" cy="879.35" rx="2.2" ry="1.6" fill="#f3dcec"/>
<ellipse cx="135.23" cy="878.89" rx="2.2" ry="1.6" fill="#d9f0ee"/>
<ellipse cx="149.59" cy="878.42" rx="2.2" ry="1.6" fill="#d9f0ee"/>
<ellipse cx="49.08" cy="891.89" rx="2.2" ry="1.6" fill="#d9f0ee"/>
<ellipse cx="63.44" cy="891.37" rx="2.2" ry="1.6" fill="#f3dcec"/>
<ellipse cx="77.79" cy="890.85" rx="2.2" ry="1.6" fill="#d9f0ee"/>
<ellipse cx="92.15" cy="890.34" rx="2.2" ry="1.6" fill="#d9f0ee"/>
<ellipse cx="106.5" cy="889.82" rx="2.2" ry="1.6" fill="#f3dcec"/>
<ellipse cx="120.86" cy="889.31" rx="2.2" ry="1.6" fill="#d9f0ee"/>
<ellipse cx="135.21" cy="888.79" rx="2.2" ry="1.6" fill="#d9f0ee"/>
<ellipse cx="149.57" cy="888.27" rx="2.2" ry="1.6" fill="#f3dcec"/>
<ellipse cx="49.05" cy="902.08" rx="2.2" ry="1.6" fill="#f3dcec"/>
<ellipse cx="63.41" cy="901.51" rx="2.2" ry="1.6" fill="#d9f0ee"/>
<ellipse cx="77.76" cy="900.95" rx="2.2" ry="1.6" fill="#d9f0ee"/>
<ellipse cx="92.12" cy="900.39" rx="2.2" ry="1.6" fill="#f3dcec"/>
<ellipse cx="106.48" cy="899.82" rx="2.2" ry="1.6" fill="#d9f0ee"/>
<ellipse cx="120.83" cy="899.26" rx="2.2" ry="1.6" fill="#d9f0ee"/>
<ellipse cx="135.19" cy="898.69" rx="2.2" ry="1.6" fill="#f3dcec"/>
<ellipse cx="149.55" cy="898.13" rx="2.2" ry="1.6" fill="#d9f0ee"/>
<ellipse cx="49.01" cy="912.27" rx="2.2" ry="1.6" fill="#d9f0ee"/>
<ellipse cx="63.37" cy="911.66" rx="2.2" ry="1.6" fill="#d9f0ee"/>
<ellipse cx="77.73" cy="911.05" rx="2.2" ry="1.6" fill="#f3dcec"/>
<ellipse cx="92.09" cy="910.43" rx="2.2" ry="1.6" fill="#d9f0ee"/>
<ellipse cx="106.45" cy="909.82" rx="2.2" ry="1.6" fill="#d9f0ee"/>
<ellipse cx="120.81" cy="909.21" rx="2.2" ry="1.6" fill="#f3dcec"/>
<ellipse cx="135.17" cy="908.6" rx="2.2" ry="1.6" fill="#d9f0ee"/>
<ellipse cx="149.53" cy="907.99" rx="2.2" ry="1.6" fill="#d9f0ee"/>
<ellipse cx="48.98" cy="922.46" rx="2.2" ry="1.6" fill="#d9f0ee"/>
<ellipse cx="63.34" cy="921.8" rx="2.2" ry="1.6" fill="#f3dcec"/>
<ellipse cx="77.7" cy="921.14" rx="2.2" ry="1.6" fill="#d9f0ee"/>
<ellipse cx="92.06" cy="920.48" rx="2.2" ry="1.6" fill="#d9f0ee"/>
<ellipse cx="106.43" cy="919.82" rx="2.2" ry="1.6" fill="#f3dcec"/>
<ellipse cx="120.79" cy="919.16" rx="2.2" ry="1.6" fill="#d9f0ee"/>
<ellipse cx="135.15" cy="918.5" rx="2.2" ry="1.6" fill="#d9f0ee"/>
<ellipse cx="149.51" cy="917.84" rx="2.2" ry="1.6" fill="#f3dcec"/>
<ellipse cx="48.94" cy="932.66" rx="2.2" ry="1.6" fill="#f3dcec"/>
<ellipse cx="63.31" cy="931.95" rx="2.2" ry="1.6" fill="#d9f0ee"/>
<ellipse cx="77.67" cy="931.24" rx="2.2" ry="1.6" fill="#d9f0ee"/>
<ellipse cx="92.04" cy="930.53" rx="2.2" ry="1.6" fill="#f3dcec"/>
<ellipse cx="106.4" cy="929.82" rx="2.2" ry="1.6" fill="#d9f0ee"/>
<ellipse cx="120.77" cy="929.11" rx="2.2" ry="1.6" fill="#d9f0ee"/>
<ellipse cx="135.13" cy="928.41" rx="2.2" ry="1.6" fill="#f3dcec"/>
<ellipse cx="149.49" cy="927.7" rx="2.2" ry="1.6" fill="#d9f0ee"/>
<ellipse cx="48.91" cy="942.85" rx="2.2" ry="1.6" fill="#d9f0ee"/>
<ellipse cx="63.28" cy="942.09" rx="2.2" ry="1.6" fill="#d9f0ee"/>
<ellipse cx="77.64" cy="941.34" rx="2.2" ry="1.6" fill="#f3dcec"/>
<ellipse cx="92.01" cy="940.58" rx="2.2" ry="1.6" fill="#d9f0ee"/>
<ellipse cx="106.38" cy="939.82" rx="2.2" ry="1.6" fill="#d9f0ee"/>
<ellipse cx="120.74" cy="939.07" rx="2.2" ry="1.6" fill="#f3dcec"/>
<ellipse cx="135.11" cy="938.31" rx="2.2" ry="1.6" fill="#d9f0ee"/>
<ellipse cx="149.48" cy="937.55" rx="2.2" ry="1.6" fill="#d9f0ee"/>
<ellipse cx="48.87" cy="953.04" rx="2.2" ry="1.6" fill="#d9f0ee"/>
<ellipse cx="63.24" cy="952.24" rx="2.2" ry="1.6" fill="#f3dcec"/>
<ellipse cx="77.61" cy="951.43" rx="2.2" ry="1.6" fill="#d9f0ee"/>
<ellipse cx="91.98" cy="950.63" rx="2.2" ry="1.6" fill="#d9f0ee"/>
<ellipse cx="106.35" cy="949.82" rx="2.2" ry="1.6" fill="#f3dcec"/>
<ellipse cx="120.72" cy="949.02" rx="2.2" ry="1.6" fill="#d9f0ee"/>
<ellipse cx="135.09" cy="948.21" rx="2.2" ry="1.6" fill="#d9f0ee"/>
<ellipse cx="149.46" cy="947.41" rx="2.2" ry="1.6" fill="#f3dcec"/>
<ellipse cx="48.84" cy="963.24" rx="2.2" ry="1.6" fill="#f3dcec"/>
<ellipse cx="63.21" cy="962.38" rx="2.2" ry="1.6" fill="#d9f0ee"/>
<ellipse cx="77.58" cy="961.53" rx="2.2" ry="1.6" fill="#d9f0ee"/>
<ellipse cx="91.95" cy="960.68" rx="2.2" ry="1.6" fill="#f3dcec"/>
<ellipse cx="106.33" cy="959.82" rx="2.2" ry="1.6" fill="#d9f0ee"/>
<ellipse cx="120.7" cy="958.97" rx="2.2" ry="1.6" fill="#d9f0ee"/>
<ellipse cx="135.07" cy="958.12" rx="2.2" ry="1.6" fill="#f3dcec"/>
<ellipse cx="149.44" cy="957.27" rx="2.2" ry="1.6" fill="#d9f0ee"/>
<ellipse cx="48.81" cy="973.43" rx="2.2" ry="1.6" fill="#d9f0ee"/>
<ellipse cx="63.18" cy="972.53" rx="2.2" ry="1.6" fill="#d9f0ee"/>
<ellipse cx="77.55" cy="971.63" rx="2.2" ry="1.6" fill="#f3dcec"/>
<ellipse cx="91.93" cy="970.73" rx="2.2" ry="1.6" fill="#d9f0ee"/>
<ellipse cx="106.3" cy="969.83" rx="2.2" ry="1.6" fill="#d9f0ee"/>
<ellipse cx="120.67" cy="968.92" rx="2.2" ry="1.6" fill="#f3dcec"/>
<ellipse cx="135.05" cy="968.02" rx="2.2" ry="1.6" fill="#d9f0ee"/>
<ellipse cx="149.42" cy="967.12" rx="2.2" ry="1.6" fill="#d9f0ee"/>
<ellipse cx="43.5" cy="437.5" rx="6.3" ry="5.1" fill="#fdeccf"/>
<ellipse cx="43.5" cy="437.5" rx="5.15" ry="4.2" fill="url(#lo)"/>
<rect x="40.5" y="436.75" width="6" height="1.5" rx="0.75" fill="#ffdc9c" opacity="0.85"/>
<ellipse cx="57.75" cy="439.12" rx="6.3" ry="5.1" fill="#fbe3e0"/>
<ellipse cx="57.75" cy="439.12" rx="5.15" ry="4.2" fill="url(#lr)"/>
<rect x="54.75" y="438.38" width="6" height="1.5" rx="0.75" fill="#ffd2d0" opacity="0.85"/>
<ellipse cx="72" cy="440.75" rx="6.3" ry="5.1" fill="#fdeccf"/>
<ellipse cx="72" cy="440.75" rx="5.15" ry="4.2" fill="url(#lo)"/>
<rect x="69" y="440" width="6" height="1.5" rx="0.75" fill="#ffdc9c" opacity="0.85"/>
<ellipse cx="86.25" cy="442.38" rx="6.3" ry="5.1" fill="#fbe3e0"/>
<ellipse cx="86.25" cy="442.38" rx="5.15" ry="4.2" fill="url(#lr)"/>
<rect x="83.25" y="441.62" width="6" height="1.5" rx="0.75" fill="#ffd2d0" opacity="0.85"/>
<ellipse cx="100.5" cy="444" rx="6.3" ry="5.1" fill="#fdeccf"/>
<ellipse cx="100.5" cy="444" rx="5.15" ry="4.2" fill="url(#lo)"/>
<rect x="97.5" y="443.25" width="6" height="1.5" rx="0.75" fill="#ffdc9c" opacity="0.85"/>
<ellipse cx="114.75" cy="445.62" rx="6.3" ry="5.1" fill="#fbe3e0"/>
<ellipse cx="114.75" cy="445.62" rx="5.15" ry="4.2" fill="url(#lr)"/>
<rect x="111.75" y="444.88" width="6" height="1.5" rx="0.75" fill="#ffd2d0" opacity="0.85"/>
<ellipse cx="129" cy="447.25" rx="6.3" ry="5.1" fill="#fdeccf"/>
<ellipse cx="129" cy="447.25" rx="5.15" ry="4.2" fill="url(#lo)"/>
<rect x="126" y="446.5" width="6" height="1.5" rx="0.75" fill="#ffdc9c" opacity="0.85"/>
<ellipse cx="143.25" cy="448.88" rx="6.3" ry="5.1" fill="#fbe3e0"/>
<ellipse cx="143.25" cy="448.88" rx="5.15" ry="4.2" fill="url(#lr)"/>
<rect x="140.25" y="448.12" width="6" height="1.5" rx="0.75" fill="#ffd2d0" opacity="0.85"/>
<ellipse cx="157.5" cy="450.5" rx="6.3" ry="5.1" fill="#fdeccf"/>
<ellipse cx="157.5" cy="450.5" rx="5.15" ry="4.2" fill="url(#lo)"/>
<rect x="154.5" y="449.75" width="6" height="1.5" rx="0.75" fill="#ffdc9c" opacity="0.85"/>
<ellipse cx="43.46" cy="447.72" rx="6.3" ry="5.1" fill="#fbe3e0"/>
<ellipse cx="43.46" cy="447.72" rx="5.15" ry="4.2" fill="url(#lr)"/>
<rect x="40.46" y="446.97" width="6" height="1.5" rx="0.75" fill="#ffd2d0" opacity="0.85"/>
<ellipse cx="57.72" cy="449.29" rx="6.3" ry="5.1" fill="#fdeccf"/>
<ellipse cx="57.72" cy="449.29" rx="5.15" ry="4.2" fill="url(#lo)"/>
<rect x="54.72" y="448.54" width="6" height="1.5" rx="0.75" fill="#ffdc9c" opacity="0.85"/>
<ellipse cx="71.97" cy="450.87" rx="6.3" ry="5.1" fill="#fbe3e0"/>
<ellipse cx="71.97" cy="450.87" rx="5.15" ry="4.2" fill="url(#lr)"/>
<rect x="68.97" y="450.12" width="6" height="1.5" rx="0.75" fill="#ffd2d0" opacity="0.85"/>
<ellipse cx="86.22" cy="452.45" rx="6.3" ry="5.1" fill="#fdeccf"/>
<ellipse cx="86.22" cy="452.45" rx="5.15" ry="4.2" fill="url(#lo)"/>
<rect x="83.22" y="451.7" width="6" height="1.5" rx="0.75" fill="#ffdc9c" opacity="0.85"/>
<ellipse cx="100.47" cy="454.02" rx="6.3" ry="5.1" fill="#fbe3e0"/>
<ellipse cx="100.47" cy="454.02" rx="5.15" ry="4.2" fill="url(#lr)"/>
<rect x="97.47" y="453.27" width="6" height="1.5" rx="0.75" fill="#ffd2d0" opacity="0.85"/>
<ellipse cx="114.73" cy="455.6" rx="6.3" ry="5.1" fill="#fdeccf"/>
<ellipse cx="114.73" cy="455.6" rx="5.15" ry="4.2" fill="url(#lo)"/>
<rect x="111.73" y="454.85" width="6" height="1.5" rx="0.75" fill="#ffdc9c" opacity="0.85"/>
<ellipse cx="128.98" cy="457.18" rx="6.3" ry="5.1" fill="#fbe3e0"/>
<ellipse cx="128.98" cy="457.18" rx="5.15" ry="4.2" fill="url(#lr)"/>
<rect x="125.98" y="456.43" width="6" height="1.5" rx="0.75" fill="#ffd2d0" opacity="0.85"/>
<ellipse cx="143.23" cy="458.76" rx="6.3" ry="5.1" fill="#fdeccf"/>
<ellipse cx="143.23" cy="458.76" rx="5.15" ry="4.2" fill="url(#lo)"/>
<rect x="140.23" y="458.01" width="6" height="1.5" rx="0.75" fill="#ffdc9c" opacity="0.85"/>
<ellipse cx="157.48" cy="460.33" rx="6.3" ry="5.1" fill="#fbe3e0"/>
<ellipse cx="157.48" cy="460.33" rx="5.15" ry="4.2" fill="url(#lr)"/>
<rect x="154.48" y="459.58" width="6" height="1.5" rx="0.75" fill="#ffd2d0" opacity="0.85"/>
<ellipse cx="43.43" cy="457.93" rx="6.3" ry="5.1" fill="#fdeccf"/>
<ellipse cx="43.43" cy="457.93" rx="5.15" ry="4.2" fill="url(#lo)"/>
<rect x="40.43" y="457.18" width="6" height="1.5" rx="0.75" fill="#ffdc9c" opacity="0.85"/>
<ellipse cx="57.68" cy="459.46" rx="6.3" ry="5.1" fill="#fbe3e0"/>
<ellipse cx="57.68" cy="459.46" rx="5.15" ry="4.2" fill="url(#lr)"/>
<rect x="54.68" y="458.71" width="6" height="1.5" rx="0.75" fill="#ffd2d0" opacity="0.85"/>
<ellipse cx="71.94" cy="460.99" rx="6.3" ry="5.1" fill="#fdeccf"/>
<ellipse cx="71.94" cy="460.99" rx="5.15" ry="4.2" fill="url(#lo)"/>
<rect x="68.94" y="460.24" width="6" height="1.5" rx="0.75" fill="#ffdc9c" opacity="0.85"/>
<ellipse cx="86.19" cy="462.52" rx="6.3" ry="5.1" fill="#fbe3e0"/>
<ellipse cx="86.19" cy="462.52" rx="5.15" ry="4.2" fill="url(#lr)"/>
<rect x="83.19" y="461.77" width="6" height="1.5" rx="0.75" fill="#ffd2d0" opacity="0.85"/>
<ellipse cx="100.45" cy="464.05" rx="6.3" ry="5.1" fill="#fdeccf"/>
<ellipse cx="100.45" cy="464.05" rx="5.15" ry="4.2" fill="url(#lo)"/>
<rect x="97.45" y="463.3" width="6" height="1.5" rx="0.75" fill="#ffdc9c" opacity="0.85"/>
<ellipse cx="114.7" cy="465.58" rx="6.3" ry="5.1" fill="#fbe3e0"/>
<ellipse cx="114.7" cy="465.58" rx="5.15" ry="4.2" fill="url(#lr)"/>
<rect x="111.7" y="464.83" width="6" height="1.5" rx="0.75" fill="#ffd2d0" opacity="0.85"/>
<ellipse cx="128.96" cy="467.11" rx="6.3" ry="5.1" fill="#fdeccf"/>
<ellipse cx="128.96" cy="467.11" rx="5.15" ry="4.2" fill="url(#lo)"/>
<rect x="125.96" y="466.36" width="6" height="1.5" rx="0.75" fill="#ffdc9c" opacity="0.85"/>
<ellipse cx="143.21" cy="468.64" rx="6.3" ry="5.1" fill="#fbe3e0"/>
<ellipse cx="143.21" cy="468.64" rx="5.15" ry="4.2" fill="url(#lr)"/>
<rect x="140.21" y="467.89" width="6" height="1.5" rx="0.75" fill="#ffd2d0" opacity="0.85"/>
<ellipse cx="157.47" cy="470.16" rx="6.3" ry="5.1" fill="#fdeccf"/>
<ellipse cx="157.47" cy="470.16" rx="5.15" ry="4.2" fill="url(#lo)"/>
<rect x="154.47" y="469.41" width="6" height="1.5" rx="0.75" fill="#ffdc9c" opacity="0.85"/>
<ellipse cx="43.39" cy="468.15" rx="6.3" ry="5.1" fill="#fbe3e0"/>
<ellipse cx="43.39" cy="468.15" rx="5.15" ry="4.2" fill="url(#lr)"/>
<rect x="40.39" y="467.4" width="6" height="1.5" rx="0.75" fill="#ffd2d0" opacity="0.85"/>
<ellipse cx="57.65" cy="469.63" rx="6.3" ry="5.1" fill="#fdeccf"/>
<ellipse cx="57.65" cy="469.63" rx="5.15" ry="4.2" fill="url(#lo)"/>
<rect x="54.65" y="468.88" width="6" height="1.5" rx="0.75" fill="#ffdc9c" opacity="0.85"/>
<ellipse cx="71.91" cy="471.11" rx="6.3" ry="5.1" fill="#fbe3e0"/>
<ellipse cx="71.91" cy="471.11" rx="5.15" ry="4.2" fill="url(#lr)"/>
<rect x="68.91" y="470.36" width="6" height="1.5" rx="0.75" fill="#ffd2d0" opacity="0.85"/>
<ellipse cx="86.16" cy="472.59" rx="6.3" ry="5.1" fill="#fdeccf"/>
<ellipse cx="86.16" cy="472.59" rx="5.15" ry="4.2" fill="url(#lo)"/>
<rect x="83.16" y="471.84" width="6" height="1.5" rx="0.75" fill="#ffdc9c" opacity="0.85"/>
<ellipse cx="100.42" cy="474.07" rx="6.3" ry="5.1" fill="#fbe3e0"/>
<ellipse cx="100.42" cy="474.07" rx="5.15" ry="4.2" fill="url(#lr)"/>
<rect x="97.42" y="473.32" width="6" height="1.5" rx="0.75" fill="#ffd2d0" opacity="0.85"/>
<ellipse cx="114.68" cy="475.55" rx="6.3" ry="5.1" fill="#fdeccf"/>
<ellipse cx="114.68" cy="475.55" rx="5.15" ry="4.2" fill="url(#lo)"/>
<rect x="111.68" y="474.8" width="6" height="1.5" rx="0.75" fill="#ffdc9c" opacity="0.85"/>
<ellipse cx="128.93" cy="477.03" rx="6.3" ry="5.1" fill="#fbe3e0"/>
<ellipse cx="128.93" cy="477.03" rx="5.15" ry="4.2" fill="url(#lr)"/>
<rect x="125.93" y="476.28" width="6" height="1.5" rx="0.75" fill="#ffd2d0" opacity="0.85"/>
<ellipse cx="143.19" cy="478.52" rx="6.3" ry="5.1" fill="#fdeccf"/>
<ellipse cx="143.19" cy="478.52" rx="5.15" ry="4.2" fill="url(#lo)"/>
<rect x="140.19" y="477.77" width="6" height="1.5" rx="0.75" fill="#ffdc9c" opacity="0.85"/>
<ellipse cx="157.45" cy="480" rx="6.3" ry="5.1" fill="#fbe3e0"/>
<ellipse cx="157.45" cy="480" rx="5.15" ry="4.2" fill="url(#lr)"/>
<rect x="154.45" y="479.25" width="6" height="1.5" rx="0.75" fill="#ffd2d0" opacity="0.85"/>
<ellipse cx="43.36" cy="478.37" rx="6.3" ry="5.1" fill="#fdeccf"/>
<ellipse cx="43.36" cy="478.37" rx="5.15" ry="4.2" fill="url(#lo)"/>
<rect x="40.36" y="477.62" width="6" height="1.5" rx="0.75" fill="#ffdc9c" opacity="0.85"/>
<ellipse cx="57.62" cy="479.8" rx="6.3" ry="5.1" fill="#fbe3e0"/>
<ellipse cx="57.62" cy="479.8" rx="5.15" ry="4.2" fill="url(#lr)"/>
<rect x="54.62" y="479.05" width="6" height="1.5" rx="0.75" fill="#ffd2d0" opacity="0.85"/>
<ellipse cx="71.88" cy="481.23" rx="6.3" ry="5.1" fill="#fdeccf"/>
<ellipse cx="71.88" cy="481.23" rx="5.15" ry="4.2" fill="url(#lo)"/>
<rect x="68.88" y="480.48" width="6" height="1.5" rx="0.75" fill="#ffdc9c" opacity="0.85"/>
<ellipse cx="86.13" cy="482.67" rx="6.3" ry="5.1" fill="#fbe3e0"/>
<ellipse cx="86.13" cy="482.67" rx="5.15" ry="4.2" fill="url(#lr)"/>
<rect x="83.13" y="481.92" width="6" height="1.5" rx="0.75" fill="#ffd2d0" opacity="0.85"/>
<ellipse cx="100.39" cy="484.1" rx="6.3" ry="5.1" fill="#fdeccf"/>
<ellipse cx="100.39" cy="484.1" rx="5.15" ry="4.2" fill="url(#lo)"/>
<rect x="97.39" y="483.35" width="6" height="1.5" rx="0.75" fill="#ffdc9c" opacity="0.85"/>
<ellipse cx="114.65" cy="485.53" rx="6.3" ry="5.1" fill="#fbe3e0"/>
<ellipse cx="114.65" cy="485.53" rx="5.15" ry="4.2" fill="url(#lr)"/>
<rect x="111.65" y="484.78" width="6" height="1.5" rx="0.75" fill="#ffd2d0" opacity="0.85"/>
<ellipse cx="128.91" cy="486.96" rx="6.3" ry="5.1" fill="#fdeccf"/>
<ellipse cx="128.91" cy="486.96" rx="5.15" ry="4.2" fill="url(#lo)"/>
<rect x="125.91" y="486.21" width="6" height="1.5" rx="0.75" fill="#ffdc9c" opacity="0.85"/>
<ellipse cx="143.17" cy="488.4" rx="6.3" ry="5.1" fill="#fbe3e0"/>
<ellipse cx="143.17" cy="488.4" rx="5.15" ry="4.2" fill="url(#lr)"/>
<rect x="140.17" y="487.65" width="6" height="1.5" rx="0.75" fill="#ffd2d0" opacity="0.85"/>
<ellipse cx="157.43" cy="489.83" rx="6.3" ry="5.1" fill="#fdeccf"/>
<ellipse cx="157.43" cy="489.83" rx="5.15" ry="4.2" fill="url(#lo)"/>
<rect x="154.43" y="489.08" width="6" height="1.5" rx="0.75" fill="#ffdc9c" opacity="0.85"/>
<ellipse cx="43.32" cy="488.58" rx="6.3" ry="5.1" fill="#fbe3e0"/>
<ellipse cx="43.32" cy="488.58" rx="5.15" ry="4.2" fill="url(#lr)"/>
<rect x="40.32" y="487.83" width="6" height="1.5" rx="0.75" fill="#ffd2d0" opacity="0.85"/>
<ellipse cx="57.58" cy="489.97" rx="6.3" ry="5.1" fill="#fdeccf"/>
<ellipse cx="57.58" cy="489.97" rx="5.15" ry="4.2" fill="url(#lo)"/>
<rect x="54.58" y="489.22" width="6" height="1.5" rx="0.75" fill="#ffdc9c" opacity="0.85"/>
<ellipse cx="71.84" cy="491.35" rx="6.3" ry="5.1" fill="#fbe3e0"/>
<ellipse cx="71.84" cy="491.35" rx="5.15" ry="4.2" fill="url(#lr)"/>
<rect x="68.84" y="490.6" width="6" height="1.5" rx="0.75" fill="#ffd2d0" opacity="0.85"/>
<ellipse cx="86.11" cy="492.74" rx="6.3" ry="5.1" fill="#fdeccf"/>
<ellipse cx="86.11" cy="492.74" rx="5.15" ry="4.2" fill="url(#lo)"/>
<rect x="83.11" y="491.99" width="6" height="1.5" rx="0.75" fill="#ffdc9c" opacity="0.85"/>
<ellipse cx="100.37" cy="494.12" rx="6.3" ry="5.1" fill="#fbe3e0"/>
<ellipse cx="100.37" cy="494.12" rx="5.15" ry="4.2" fill="url(#lr)"/>
<rect x="97.37" y="493.37" width="6" height="1.5" rx="0.75" fill="#ffd2d0" opacity="0.85"/>
<ellipse cx="114.63" cy="495.51" rx="6.3" ry="5.1" fill="#fdeccf"/>
<ellipse cx="114.63" cy="495.51" rx="5.15" ry="4.2" fill="url(#lo)"/>
<rect x="111.63" y="494.76" width="6" height="1.5" rx="0.75" fill="#ffdc9c" opacity="0.85"/>
<ellipse cx="128.89" cy="496.89" rx="6.3" ry="5.1" fill="#fbe3e0"/>
<ellipse cx="128.89" cy="496.89" rx="5.15" ry="4.2" fill="url(#lr)"/>
<rect x="125.89" y="496.14" width="6" height="1.5" rx="0.75" fill="#ffd2d0" opacity="0.85"/>
<ellipse cx="143.15" cy="498.28" rx="6.3" ry="5.1" fill="#fdeccf"/>
<ellipse cx="143.15" cy="498.28" rx="5.15" ry="4.2" fill="url(#lo)"/>
<rect x="140.15" y="497.53" width="6" height="1.5" rx="0.75" fill="#ffdc9c" opacity="0.85"/>
<ellipse cx="157.42" cy="499.66" rx="6.3" ry="5.1" fill="#fbe3e0"/>
<ellipse cx="157.42" cy="499.66" rx="5.15" ry="4.2" fill="url(#lr)"/>
<rect x="154.42" y="498.91" width="6" height="1.5" rx="0.75" fill="#ffd2d0" opacity="0.85"/>
<ellipse cx="43.28" cy="498.8" rx="6.3" ry="5.1" fill="#fdeccf"/>
<ellipse cx="43.28" cy="498.8" rx="5.15" ry="4.2" fill="url(#lo)"/>
<rect x="40.28" y="498.05" width="6" height="1.5" rx="0.75" fill="#ffdc9c" opacity="0.85"/>
<ellipse cx="57.55" cy="500.14" rx="6.3" ry="5.1" fill="#fbe3e0"/>
<ellipse cx="57.55" cy="500.14" rx="5.15" ry="4.2" fill="url(#lr)"/>
<rect x="54.55" y="499.39" width="6" height="1.5" rx="0.75" fill="#ffd2d0" opacity="0.85"/>
<ellipse cx="71.81" cy="501.47" rx="6.3" ry="5.1" fill="#fdeccf"/>
<ellipse cx="71.81" cy="501.47" rx="5.15" ry="4.2" fill="url(#lo)"/>
<rect x="68.81" y="500.72" width="6" height="1.5" rx="0.75" fill="#ffdc9c" opacity="0.85"/>
<ellipse cx="86.08" cy="502.81" rx="6.3" ry="5.1" fill="#fbe3e0"/>
<ellipse cx="86.08" cy="502.81" rx="5.15" ry="4.2" fill="url(#lr)"/>
<rect x="83.08" y="502.06" width="6" height="1.5" rx="0.75" fill="#ffd2d0" opacity="0.85"/>
<ellipse cx="100.34" cy="504.15" rx="6.3" ry="5.1" fill="#fdeccf"/>
<ellipse cx="100.34" cy="504.15" rx="5.15" ry="4.2" fill="url(#lo)"/>
<rect x="97.34" y="503.4" width="6" height="1.5" rx="0.75" fill="#ffdc9c" opacity="0.85"/>
<ellipse cx="114.61" cy="505.48" rx="6.3" ry="5.1" fill="#fbe3e0"/>
<ellipse cx="114.61" cy="505.48" rx="5.15" ry="4.2" fill="url(#lr)"/>
<rect x="111.61" y="504.73" width="6" height="1.5" rx="0.75" fill="#ffd2d0" opacity="0.85"/>
<ellipse cx="128.87" cy="506.82" rx="6.3" ry="5.1" fill="#fdeccf"/>
<ellipse cx="128.87" cy="506.82" rx="5.15" ry="4.2" fill="url(#lo)"/>
<rect x="125.87" y="506.07" width="6" height="1.5" rx="0.75" fill="#ffdc9c" opacity="0.85"/>
<ellipse cx="143.13" cy="508.16" rx="6.3" ry="5.1" fill="#fbe3e0"/>
<ellipse cx="143.13" cy="508.16" rx="5.15" ry="4.2" fill="url(#lr)"/>
<rect x="140.13" y="507.41" width="6" height="1.5" rx="0.75" fill="#ffd2d0" opacity="0.85"/>
<ellipse cx="157.4" cy="509.49" rx="6.3" ry="5.1" fill="#fdeccf"/>
<ellipse cx="157.4" cy="509.49" rx="5.15" ry="4.2" fill="url(#lo)"/>
<rect x="154.4" y="508.74" width="6" height="1.5" rx="0.75" fill="#ffdc9c" opacity="0.85"/>
<ellipse cx="43.25" cy="509.02" rx="6.3" ry="5.1" fill="#fbe3e0"/>
<ellipse cx="43.25" cy="509.02" rx="5.15" ry="4.2" fill="url(#lr)"/>
<rect x="40.25" y="508.27" width="6" height="1.5" rx="0.75" fill="#ffd2d0" opacity="0.85"/>
<ellipse cx="57.52" cy="510.31" rx="6.3" ry="5.1" fill="#fdeccf"/>
<ellipse cx="57.52" cy="510.31" rx="5.15" ry="4.2" fill="url(#lo)"/>
<rect x="54.52" y="509.56" width="6" height="1.5" rx="0.75" fill="#ffdc9c" opacity="0.85"/>
<ellipse cx="71.78" cy="511.6" rx="6.3" ry="5.1" fill="#fbe3e0"/>
<ellipse cx="71.78" cy="511.6" rx="5.15" ry="4.2" fill="url(#lr)"/>
<rect x="68.78" y="510.85" width="6" height="1.5" rx="0.75" fill="#ffd2d0" opacity="0.85"/>
<ellipse cx="86.05" cy="512.88" rx="6.3" ry="5.1" fill="#fdeccf"/>
<ellipse cx="86.05" cy="512.88" rx="5.15" ry="4.2" fill="url(#lo)"/>
<rect x="83.05" y="512.13" width="6" height="1.5" rx="0.75" fill="#ffdc9c" opacity="0.85"/>
<ellipse cx="100.32" cy="514.17" rx="6.3" ry="5.1" fill="#fbe3e0"/>
<ellipse cx="100.32" cy="514.17" rx="5.15" ry="4.2" fill="url(#lr)"/>
<rect x="97.32" y="513.42" width="6" height="1.5" rx="0.75" fill="#ffd2d0" opacity="0.85"/>
<ellipse cx="114.58" cy="515.46" rx="6.3" ry="5.1" fill="#fdeccf"/>
<ellipse cx="114.58" cy="515.46" rx="5.15" ry="4.2" fill="url(#lo)"/>
<rect x="111.58" y="514.71" width="6" height="1.5" rx="0.75" fill="#ffdc9c" opacity="0.85"/>
<ellipse cx="128.85" cy="516.75" rx="6.3" ry="5.1" fill="#fbe3e0"/>
<ellipse cx="128.85" cy="516.75" rx="5.15" ry="4.2" fill="url(#lr)"/>
<rect x="125.85" y="516" width="6" height="1.5" rx="0.75" fill="#ffd2d0" opacity="0.85"/>
<ellipse cx="143.11" cy="518.04" rx="6.3" ry="5.1" fill="#fdeccf"/>
<ellipse cx="143.11" cy="518.04" rx="5.15" ry="4.2" fill="url(#lo)"/>
<rect x="140.11" y="517.29" width="6" height="1.5" rx="0.75" fill="#ffdc9c" opacity="0.85"/>
<ellipse cx="157.38" cy="519.32" rx="6.3" ry="5.1" fill="#fbe3e0"/>
<ellipse cx="157.38" cy="519.32" rx="5.15" ry="4.2" fill="url(#lr)"/>
<rect x="154.38" y="518.57" width="6" height="1.5" rx="0.75" fill="#ffd2d0" opacity="0.85"/>
<ellipse cx="43.21" cy="519.24" rx="6.3" ry="5.1" fill="#fdeccf"/>
<ellipse cx="43.21" cy="519.24" rx="5.15" ry="4.2" fill="url(#lo)"/>
<rect x="40.21" y="518.49" width="6" height="1.5" rx="0.75" fill="#ffdc9c" opacity="0.85"/>
<ellipse cx="57.48" cy="520.48" rx="6.3" ry="5.1" fill="#fbe3e0"/>
<ellipse cx="57.48" cy="520.48" rx="5.15" ry="4.2" fill="url(#lr)"/>
<rect x="54.48" y="519.73" width="6" height="1.5" rx="0.75" fill="#ffd2d0" opacity="0.85"/>
<ellipse cx="71.75" cy="521.72" rx="6.3" ry="5.1" fill="#fdeccf"/>
<ellipse cx="71.75" cy="521.72" rx="5.15" ry="4.2" fill="url(#lo)"/>
<rect x="68.75" y="520.97" width="6" height="1.5" rx="0.75" fill="#ffdc9c" opacity="0.85"/>
<ellipse cx="86.02" cy="522.96" rx="6.3" ry="5.1" fill="#fbe3e0"/>
<ellipse cx="86.02" cy="522.96" rx="5.15" ry="4.2" fill="url(#lr)"/>
<rect x="83.02" y="522.21" width="6" height="1.5" rx="0.75" fill="#ffd2d0" opacity="0.85"/>
<ellipse cx="100.29" cy="524.2" rx="6.3" ry="5.1" fill="#fdeccf"/>
<ellipse cx="100.29" cy="524.2" rx="5.15" ry="4.2" fill="url(#lo)"/>
<rect x="97.29" y="523.45" width="6" height="1.5" rx="0.75" fill="#ffdc9c" opacity="0.85"/>
<ellipse cx="114.56" cy="525.44" rx="6.3" ry="5.1" fill="#fbe3e0"/>
<ellipse cx="114.56" cy="525.44" rx="5.15" ry="4.2" fill="url(#lr)"/>
<rect x="111.56" y="524.69" width="6" height="1.5" rx="0.75" fill="#ffd2d0" opacity="0.85"/>
<ellipse cx="128.83" cy="526.68" rx="6.3" ry="5.1" fill="#fdeccf"/>
<ellipse cx="128.83" cy="526.68" rx="5.15" ry="4.2" fill="url(#lo)"/>
<rect x="125.83" y="525.93" width="6" height="1.5" rx="0.75" fill="#ffdc9c" opacity="0.85"/>
<ellipse cx="143.1" cy="527.92" rx="6.3" ry="5.1" fill="#fbe3e0"/>
<ellipse cx="143.1" cy="527.92" rx="5.15" ry="4.2" fill="url(#lr)"/>
<rect x="140.1" y="527.17" width="6" height="1.5" rx="0.75" fill="#ffd2d0" opacity="0.85"/>
<ellipse cx="157.36" cy="529.16" rx="6.3" ry="5.1" fill="#fdeccf"/>
<ellipse cx="157.36" cy="529.16" rx="5.15" ry="4.2" fill="url(#lo)"/>
<rect x="154.36" y="528.41" width="6" height="1.5" rx="0.75" fill="#ffdc9c" opacity="0.85"/>
<ellipse cx="43.18" cy="529.45" rx="6.3" ry="5.1" fill="#fbe3e0"/>
<ellipse cx="43.18" cy="529.45" rx="5.15" ry="4.2" fill="url(#lr)"/>
<rect x="40.18" y="528.7" width="6" height="1.5" rx="0.75" fill="#ffd2d0" opacity="0.85"/>
<ellipse cx="57.45" cy="530.64" rx="6.3" ry="5.1" fill="#fdeccf"/>
<ellipse cx="57.45" cy="530.64" rx="5.15" ry="4.2" fill="url(#lo)"/>
<rect x="54.45" y="529.89" width="6" height="1.5" rx="0.75" fill="#ffdc9c" opacity="0.85"/>
<ellipse cx="71.72" cy="531.84" rx="6.3" ry="5.1" fill="#fbe3e0"/>
<ellipse cx="71.72" cy="531.84" rx="5.15" ry="4.2" fill="url(#lr)"/>
<rect x="68.72" y="531.09" width="6" height="1.5" rx="0.75" fill="#ffd2d0" opacity="0.85"/>
<ellipse cx="85.99" cy="533.03" rx="6.3" ry="5.1" fill="#fdeccf"/>
<ellipse cx="85.99" cy="533.03" rx="5.15" ry="4.2" fill="url(#lo)"/>
<rect x="82.99" y="532.28" width="6" height="1.5" rx="0.75" fill="#ffdc9c" opacity="0.85"/>
<ellipse cx="100.26" cy="534.22" rx="6.3" ry="5.1" fill="#fbe3e0"/>
<ellipse cx="100.26" cy="534.22" rx="5.15" ry="4.2" fill="url(#lr)"/>
<rect x="97.26" y="533.47" width="6" height="1.5" rx="0.75" fill="#ffd2d0" opacity="0.85"/>
<ellipse cx="114.53" cy="535.41" rx="6.3" ry="5.1" fill="#fdeccf"/>
<ellipse cx="114.53" cy="535.41" rx="5.15" ry="4.2" fill="url(#lo)"/>
<rect x="111.53" y="534.66" width="6" height="1.5" rx="0.75" fill="#ffdc9c" opacity="0.85"/>
<ellipse cx="128.8" cy="536.6" rx="6.3" ry="5.1" fill="#fbe3e0"/>
<ellipse cx="128.8" cy="536.6" rx="5.15" ry="4.2" fill="url(#lr)"/>
<rect x="125.8" y="535.85" width="6" height="1.5" rx="0.75" fill="#ffd2d0" opacity="0.85"/>
<ellipse cx="143.08" cy="537.8" rx="6.3" ry="5.1" fill="#fdeccf"/>
<ellipse cx="143.08" cy="537.8" rx="5.15" ry="4.2" fill="url(#lo)"/>
<rect x="140.08" y="537.05" width="6" height="1.5" rx="0.75" fill="#ffdc9c" opacity="0.85"/>
<ellipse cx="157.35" cy="538.99" rx="6.3" ry="5.1" fill="#fbe3e0"/>
<ellipse cx="157.35" cy="538.99" rx="5.15" ry="4.2" fill="url(#lr)"/>
<rect x="154.35" y="538.24" width="6" height="1.5" rx="0.75" fill="#ffd2d0" opacity="0.85"/>
<ellipse cx="43.14" cy="539.67" rx="6.3" ry="5.1" fill="#fdeccf"/>
<ellipse cx="43.14" cy="539.67" rx="5.15" ry="4.2" fill="url(#lo)"/>
<rect x="40.14" y="538.92" width="6" height="1.5" rx="0.75" fill="#ffdc9c" opacity="0.85"/>
<ellipse cx="57.42" cy="540.81" rx="6.3" ry="5.1" fill="#fbe3e0"/>
<ellipse cx="57.42" cy="540.81" rx="5.15" ry="4.2" fill="url(#lr)"/>
<rect x="54.42" y="540.06" width="6" height="1.5" rx="0.75" fill="#ffd2d0" opacity="0.85"/>
<ellipse cx="71.69" cy="541.96" rx="6.3" ry="5.1" fill="#fdeccf"/>
<ellipse cx="71.69" cy="541.96" rx="5.15" ry="4.2" fill="url(#lo)"/>
<rect x="68.69" y="541.21" width="6" height="1.5" rx="0.75" fill="#ffdc9c" opacity="0.85"/>
<ellipse cx="85.96" cy="543.1" rx="6.3" ry="5.1" fill="#fbe3e0"/>
<ellipse cx="85.96" cy="543.1" rx="5.15" ry="4.2" fill="url(#lr)"/>
<rect x="82.96" y="542.35" width="6" height="1.5" rx="0.75" fill="#ffd2d0" opacity="0.85"/>
<ellipse cx="100.24" cy="544.25" rx="6.3" ry="5.1" fill="#fdeccf"/>
<ellipse cx="100.24" cy="544.25" rx="5.15" ry="4.2" fill="url(#lo)"/>
<rect x="97.24" y="543.5" width="6" height="1.5" rx="0.75" fill="#ffdc9c" opacity="0.85"/>
<ellipse cx="114.51" cy="545.39" rx="6.3" ry="5.1" fill="#fbe3e0"/>
<ellipse cx="114.51" cy="545.39" rx="5.15" ry="4.2" fill="url(#lr)"/>
<rect x="111.51" y="544.64" width="6" height="1.5" rx="0.75" fill="#ffd2d0" opacity="0.85"/>
<ellipse cx="128.78" cy="546.53" rx="6.3" ry="5.1" fill="#fdeccf"/>
<ellipse cx="128.78" cy="546.53" rx="5.15" ry="4.2" fill="url(#lo)"/>
<rect x="125.78" y="545.78" width="6" height="1.5" rx="0.75" fill="#ffdc9c" opacity="0.85"/>
<ellipse cx="143.06" cy="547.68" rx="6.3" ry="5.1" fill="#fbe3e0"/>
<ellipse cx="143.06" cy="547.68" rx="5.15" ry="4.2" fill="url(#lr)"/>
<rect x="140.06" y="546.93" width="6" height="1.5" rx="0.75" fill="#ffd2d0" opacity="0.85"/>
<ellipse cx="157.33" cy="548.82" rx="6.3" ry="5.1" fill="#fdeccf"/>
<ellipse cx="157.33" cy="548.82" rx="5.15" ry="4.2" fill="url(#lo)"/>
<rect x="154.33" y="548.07" width="6" height="1.5" rx="0.75" fill="#ffdc9c" opacity="0.85"/>
<ellipse cx="43.11" cy="549.89" rx="6.3" ry="5.1" fill="#fbe3e0"/>
<ellipse cx="43.11" cy="549.89" rx="5.15" ry="4.2" fill="url(#lr)"/>
<rect x="40.11" y="549.14" width="6" height="1.5" rx="0.75" fill="#ffd2d0" opacity="0.85"/>
<ellipse cx="57.38" cy="550.98" rx="6.3" ry="5.1" fill="#fdeccf"/>
<ellipse cx="57.38" cy="550.98" rx="5.15" ry="4.2" fill="url(#lo)"/>
<rect x="54.38" y="550.23" width="6" height="1.5" rx="0.75" fill="#ffdc9c" opacity="0.85"/>
<ellipse cx="71.66" cy="552.08" rx="6.3" ry="5.1" fill="#fbe3e0"/>
<ellipse cx="71.66" cy="552.08" rx="5.15" ry="4.2" fill="url(#lr)"/>
<rect x="68.66" y="551.33" width="6" height="1.5" rx="0.75" fill="#ffd2d0" opacity="0.85"/>
<ellipse cx="85.93" cy="553.17" rx="6.3" ry="5.1" fill="#fdeccf"/>
<ellipse cx="85.93" cy="553.17" rx="5.15" ry="4.2" fill="url(#lo)"/>
<rect x="82.93" y="552.42" width="6" height="1.5" rx="0.75" fill="#ffdc9c" opacity="0.85"/>
<ellipse cx="100.21" cy="554.27" rx="6.3" ry="5.1" fill="#fbe3e0"/>
<ellipse cx="100.21" cy="554.27" rx="5.15" ry="4.2" fill="url(#lr)"/>
<rect x="97.21" y="553.52" width="6" height="1.5" rx="0.75" fill="#ffd2d0" opacity="0.85"/>
<ellipse cx="114.49" cy="555.37" rx="6.3" ry="5.1" fill="#fdeccf"/>
<ellipse cx="114.49" cy="555.37" rx="5.15" ry="4.2" fill="url(#lo)"/>
<rect x="111.49" y="554.62" width="6" height="1.5" rx="0.75" fill="#ffdc9c" opacity="0.85"/>
<ellipse cx="128.76" cy="556.46" rx="6.3" ry="5.1" fill="#fbe3e0"/>
<ellipse cx="128.76" cy="556.46" rx="5.15" ry="4.2" fill="url(#lr)"/>
<rect x="125.76" y="555.71" width="6" height="1.5" rx="0.75" fill="#ffd2d0" opacity="0.85"/>
<ellipse cx="143.04" cy="557.56" rx="6.3" ry="5.1" fill="#fdeccf"/>
<ellipse cx="143.04" cy="557.56" rx="5.15" ry="4.2" fill="url(#lo)"/>
<rect x="140.04" y="556.81" width="6" height="1.5" rx="0.75" fill="#ffdc9c" opacity="0.85"/>
<ellipse cx="157.31" cy="558.65" rx="6.3" ry="5.1" fill="#fbe3e0"/>
<ellipse cx="157.31" cy="558.65" rx="5.15" ry="4.2" fill="url(#lr)"/>
<rect x="154.31" y="557.9" width="6" height="1.5" rx="0.75" fill="#ffd2d0" opacity="0.85"/>
<ellipse cx="43.07" cy="560.1" rx="6.3" ry="5.1" fill="#fdeccf"/>
<ellipse cx="43.07" cy="560.1" rx="5.15" ry="4.2" fill="url(#lo)"/>
<rect x="40.07" y="559.35" width="6" height="1.5" rx="0.75" fill="#ffdc9c" opacity="0.85"/>
<ellipse cx="57.35" cy="561.15" rx="6.3" ry="5.1" fill="#fbe3e0"/>
<ellipse cx="57.35" cy="561.15" rx="5.15" ry="4.2" fill="url(#lr)"/>
<rect x="54.35" y="560.4" width="6" height="1.5" rx="0.75" fill="#ffd2d0" opacity="0.85"/>
<ellipse cx="71.63" cy="562.2" rx="6.3" ry="5.1" fill="#fdeccf"/>
<ellipse cx="71.63" cy="562.2" rx="5.15" ry="4.2" fill="url(#lo)"/>
<rect x="68.63" y="561.45" width="6" height="1.5" rx="0.75" fill="#ffdc9c" opacity="0.85"/>
<ellipse cx="85.9" cy="563.25" rx="6.3" ry="5.1" fill="#fbe3e0"/>
<ellipse cx="85.9" cy="563.25" rx="5.15" ry="4.2" fill="url(#lr)"/>
<rect x="82.9" y="562.5" width="6" height="1.5" rx="0.75" fill="#ffd2d0" opacity="0.85"/>
<ellipse cx="100.18" cy="564.29" rx="6.3" ry="5.1" fill="#fdeccf"/>
<ellipse cx="100.18" cy="564.29" rx="5.15" ry="4.2" fill="url(#lo)"/>
<rect x="97.18" y="563.54" width="6" height="1.5" rx="0.75" fill="#ffdc9c" opacity="0.85"/>
<ellipse cx="114.46" cy="565.34" rx="6.3" ry="5.1" fill="#fbe3e0"/>
<ellipse cx="114.46" cy="565.34" rx="5.15" ry="4.2" fill="url(#lr)"/>
<rect x="111.46" y="564.59" width="6" height="1.5" rx="0.75" fill="#ffd2d0" opacity="0.85"/>
<ellipse cx="128.74" cy="566.39" rx="6.3" ry="5.1" fill="#fdeccf"/>
<ellipse cx="128.74" cy="566.39" rx="5.15" ry="4.2" fill="url(#lo)"/>
<rect x="125.74" y="565.64" width="6" height="1.5" rx="0.75" fill="#ffdc9c" opacity="0.85"/>
<ellipse cx="143.02" cy="567.44" rx="6.3" ry="5.1" fill="#fbe3e0"/>
<ellipse cx="143.02" cy="567.44" rx="5.15" ry="4.2" fill="url(#lr)"/>
<rect x="140.02" y="566.69" width="6" height="1.5" rx="0.75" fill="#ffd2d0" opacity="0.85"/>
<ellipse cx="157.3" cy="568.48" rx="6.3" ry="5.1" fill="#fdeccf"/>
<ellipse cx="157.3" cy="568.48" rx="5.15" ry="4.2" fill="url(#lo)"/>
<rect x="154.3" y="567.73" width="6" height="1.5" rx="0.75" fill="#ffdc9c" opacity="0.85"/>
<ellipse cx="43.03" cy="570.32" rx="6.3" ry="5.1" fill="#fbe3e0"/>
<ellipse cx="43.03" cy="570.32" rx="5.15" ry="4.2" fill="url(#lr)"/>
<rect x="40.03" y="569.57" width="6" height="1.5" rx="0.75" fill="#ffd2d0" opacity="0.85"/>
<ellipse cx="57.31" cy="571.32" rx="6.3" ry="5.1" fill="#fdeccf"/>
<ellipse cx="57.31" cy="571.32" rx="5.15" ry="4.2" fill="url(#lo)"/>
<rect x="54.31" y="570.57" width="6" height="1.5" rx="0.75" fill="#ffdc9c" opacity="0.85"/>
<ellipse cx="71.6" cy="572.32" rx="6.3" ry="5.1" fill="#fbe3e0"/>
<ellipse cx="71.6" cy="572.32" rx="5.15" ry="4.2" fill="url(#lr)"/>
<rect x="68.6" y="571.57" width="6" height="1.5" rx="0.75" fill="#ffd2d0" opacity="0.85"/>
<ellipse cx="85.88" cy="573.32" rx="6.3" ry="5.1" fill="#fdeccf"/>
<ellipse cx="85.88" cy="573.32" rx="5.15" ry="4.2" fill="url(#lo)"/>
<rect x="82.88" y="572.57" width="6" height="1.5" rx="0.75" fill="#ffdc9c" opacity="0.85"/>
<ellipse cx="100.16" cy="574.32" rx="6.3" ry="5.1" fill="#fbe3e0"/>
<ellipse cx="100.16" cy="574.32" rx="5.15" ry="4.2" fill="url(#lr)"/>
<rect x="97.16" y="573.57" width="6" height="1.5" rx="0.75" fill="#ffd2d0" opacity="0.85"/>
<ellipse cx="114.44" cy="575.32" rx="6.3" ry="5.1" fill="#fdeccf"/>
<ellipse cx="114.44" cy="575.32" rx="5.15" ry="4.2" fill="url(#lo)"/>
<rect x="111.44" y="574.57" width="6" height="1.5" rx="0.75" fill="#ffdc9c" opacity="0.85"/>
<ellipse cx="128.72" cy="576.32" rx="6.3" ry="5.1" fill="#fbe3e0"/>
<ellipse cx="128.72" cy="576.32" rx="5.15" ry="4.2" fill="url(#lr)"/>
<rect x="125.72" y="575.57" width="6" height="1.5" rx="0.75" fill="#ffd2d0" opacity="0.85"/>
<ellipse cx="143" cy="577.32" rx="6.3" ry="5.1" fill="#fdeccf"/>
<ellipse cx="143" cy="577.32" rx="5.15" ry="4.2" fill="url(#lo)"/>
<rect x="140" y="576.57" width="6" height="1.5" rx="0.75" fill="#ffdc9c" opacity="0.85"/>
<ellipse cx="157.28" cy="578.32" rx="6.3" ry="5.1" fill="#fbe3e0"/>
<ellipse cx="157.28" cy="578.32" rx="5.15" ry="4.2" fill="url(#lr)"/>
<rect x="154.28" y="577.57" width="6" height="1.5" rx="0.75" fill="#ffd2d0" opacity="0.85"/>
<ellipse cx="43" cy="580.54" rx="6.3" ry="5.1" fill="#fdeccf"/>
<ellipse cx="43" cy="580.54" rx="5.15" ry="4.2" fill="url(#lo)"/>
<rect x="40" y="579.79" width="6" height="1.5" rx="0.75" fill="#ffdc9c" opacity="0.85"/>
<ellipse cx="57.28" cy="581.49" rx="6.3" ry="5.1" fill="#fbe3e0"/>
<ellipse cx="57.28" cy="581.49" rx="5.15" ry="4.2" fill="url(#lr)"/>
<rect x="54.28" y="580.74" width="6" height="1.5" rx="0.75" fill="#ffd2d0" opacity="0.85"/>
<ellipse cx="71.56" cy="582.44" rx="6.3" ry="5.1" fill="#fdeccf"/>
<ellipse cx="71.56" cy="582.44" rx="5.15" ry="4.2" fill="url(#lo)"/>
<rect x="68.56" y="581.69" width="6" height="1.5" rx="0.75" fill="#ffdc9c" opacity="0.85"/>
<ellipse cx="85.85" cy="583.39" rx="6.3" ry="5.1" fill="#fbe3e0"/>
<ellipse cx="85.85" cy="583.39" rx="5.15" ry="4.2" fill="url(#lr)"/>
<rect x="82.85" y="582.64" width="6" height="1.5" rx="0.75" fill="#ffd2d0" opacity="0.85"/>
<ellipse cx="100.13" cy="584.34" rx="6.3" ry="5.1" fill="#fdeccf"/>
<ellipse cx="100.13" cy="584.34" rx="5.15" ry="4.2" fill="url(#lo)"/>
<rect x="97.13" y="583.59" width="6" height="1.5" rx="0.75" fill="#ffdc9c" opacity="0.85"/>
<ellipse cx="114.41" cy="585.29" rx="6.3" ry="5.1" fill="#fbe3e0"/>
<ellipse cx="114.41" cy="585.29" rx="5.15" ry="4.2" fill="url(#lr)"/>
<rect x="111.41" y="584.54" width="6" height="1.5" rx="0.75" fill="#ffd2d0" opacity="0.85"/>
<ellipse cx="128.7" cy="586.25" rx="6.3" ry="5.1" fill="#fdeccf"/>
<ellipse cx="128.7" cy="586.25" rx="5.15" ry="4.2" fill="url(#lo)"/>
<rect x="125.7" y="585.5" width="6" height="1.5" rx="0.75" fill="#ffdc9c" opacity="0.85"/>
<ellipse cx="142.98" cy="587.2" rx="6.3" ry="5.1" fill="#fbe3e0"/>
<ellipse cx="142.98" cy="587.2" rx="5.15" ry="4.2" fill="url(#lr)"/>
<rect x="139.98" y="586.45" width="6" height="1.5" rx="0.75" fill="#ffd2d0" opacity="0.85"/>
<ellipse cx="157.26" cy="588.15" rx="6.3" ry="5.1" fill="#fdeccf"/>
<ellipse cx="157.26" cy="588.15" rx="5.15" ry="4.2" fill="url(#lo)"/>
<rect x="154.26" y="587.4" width="6" height="1.5" rx="0.75" fill="#ffdc9c" opacity="0.85"/>
<ellipse cx="42.96" cy="590.75" rx="6.3" ry="5.1" fill="#fbe3e0"/>
<ellipse cx="42.96" cy="590.75" rx="5.15" ry="4.2" fill="url(#lr)"/>
<rect x="39.96" y="590" width="6" height="1.5" rx="0.75" fill="#ffd2d0" opacity="0.85"/>
<ellipse cx="57.25" cy="591.66" rx="6.3" ry="5.1" fill="#fdeccf"/>
<ellipse cx="57.25" cy="591.66" rx="5.15" ry="4.2" fill="url(#lo)"/>
<rect x="54.25" y="590.91" width="6" height="1.5" rx="0.75" fill="#ffdc9c" opacity="0.85"/>
<ellipse cx="71.53" cy="592.56" rx="6.3" ry="5.1" fill="#fbe3e0"/>
<ellipse cx="71.53" cy="592.56" rx="5.15" ry="4.2" fill="url(#lr)"/>
<rect x="68.53" y="591.81" width="6" height="1.5" rx="0.75" fill="#ffd2d0" opacity="0.85"/>
<ellipse cx="85.82" cy="593.46" rx="6.3" ry="5.1" fill="#fdeccf"/>
<ellipse cx="85.82" cy="593.46" rx="5.15" ry="4.2" fill="url(#lo)"/>
<rect x="82.82" y="592.71" width="6" height="1.5" rx="0.75" fill="#ffdc9c" opacity="0.85"/>
<ellipse cx="100.1" cy="594.37" rx="6.3" ry="5.1" fill="#fbe3e0"/>
<ellipse cx="100.1" cy="594.37" rx="5.15" ry="4.2" fill="url(#lr)"/>
<rect x="97.1" y="593.62" width="6" height="1.5" rx="0.75" fill="#ffd2d0" opacity="0.85"/>
<ellipse cx="114.39" cy="595.27" rx="6.3" ry="5.1" fill="#fdeccf"/>
<ellipse cx="114.39" cy="595.27" rx="5.15" ry="4.2" fill="url(#lo)"/>
<rect x="111.39" y="594.52" width="6" height="1.5" rx="0.75" fill="#ffdc9c" opacity="0.85"/>
<ellipse cx="128.67" cy="596.17" rx="6.3" ry="5.1" fill="#fbe3e0"/>
<ellipse cx="128.67" cy="596.17" rx="5.15" ry="4.2" fill="url(#lr)"/>
<rect x="125.67" y="595.42" width="6" height="1.5" rx="0.75" fill="#ffd2d0" opacity="0.85"/>
<ellipse cx="142.96" cy="597.08" rx="6.3" ry="5.1" fill="#fdeccf"/>
<ellipse cx="142.96" cy="597.08" rx="5.15" ry="4.2" fill="url(#lo)"/>
<rect x="139.96" y="596.33" width="6" height="1.5" rx="0.75" fill="#ffdc9c" opacity="0.85"/>
<ellipse cx="157.25" cy="597.98" rx="6.3" ry="5.1" fill="#fbe3e0"/>
<ellipse cx="157.25" cy="597.98" rx="5.15" ry="4.2" fill="url(#lr)"/>
<rect x="154.25" y="597.23" width="6" height="1.5" rx="0.75" fill="#ffd2d0" opacity="0.85"/>
<ellipse cx="42.93" cy="600.97" rx="6.3" ry="5.1" fill="#fdeccf"/>
<ellipse cx="42.93" cy="600.97" rx="5.15" ry="4.2" fill="url(#lo)"/>
<rect x="39.93" y="600.22" width="6" height="1.5" rx="0.75" fill="#ffdc9c" opacity="0.85"/>
<ellipse cx="57.21" cy="601.83" rx="6.3" ry="5.1" fill="#fbe3e0"/>
<ellipse cx="57.21" cy="601.83" rx="5.15" ry="4.2" fill="url(#lr)"/>
<rect x="54.21" y="601.08" width="6" height="1.5" rx="0.75" fill="#ffd2d0" opacity="0.85"/>
<ellipse cx="71.5" cy="602.68" rx="6.3" ry="5.1" fill="#fdeccf"/>
<ellipse cx="71.5" cy="602.68" rx="5.15" ry="4.2" fill="url(#lo)"/>
<rect x="68.5" y="601.93" width="6" height="1.5" rx="0.75" fill="#ffdc9c" opacity="0.85"/>
<ellipse cx="85.79" cy="603.54" rx="6.3" ry="5.1" fill="#fbe3e0"/>
<ellipse cx="85.79" cy="603.54" rx="5.15" ry="4.2" fill="url(#lr)"/>
<rect x="82.79" y="602.79" width="6" height="1.5" rx="0.75" fill="#ffd2d0" opacity="0.85"/>
<ellipse cx="100.08" cy="604.39" rx="6.3" ry="5.1" fill="#fdeccf"/>
<ellipse cx="100.08" cy="604.39" rx="5.15" ry="4.2" fill="url(#lo)"/>
<rect x="97.08" y="603.64" width="6" height="1.5" rx="0.75" fill="#ffdc9c" opacity="0.85"/>
<ellipse cx="114.37" cy="605.25" rx="6.3" ry="5.1" fill="#fbe3e0"/>
<ellipse cx="114.37" cy="605.25" rx="5.15" ry="4.2" fill="url(#lr)"/>
<rect x="111.37" y="604.5" width="6" height="1.5" rx="0.75" fill="#ffd2d0" opacity="0.85"/>
<ellipse cx="128.65" cy="606.1" rx="6.3" ry="5.1" fill="#fdeccf"/>
<ellipse cx="128.65" cy="606.1" rx="5.15" ry="4.2" fill="url(#lo)"/>
<rect x="125.65" y="605.35" width="6" height="1.5" rx="0.75" fill="#ffdc9c" opacity="0.85"/>
<ellipse cx="142.94" cy="606.96" rx="6.3" ry="5.1" fill="#fbe3e0"/>
<ellipse cx="142.94" cy="606.96" rx="5.15" ry="4.2" fill="url(#lr)"/>
<rect x="139.94" y="606.21" width="6" height="1.5" rx="0.75" fill="#ffd2d0" opacity="0.85"/>
<ellipse cx="157.23" cy="607.81" rx="6.3" ry="5.1" fill="#fdeccf"/>
<ellipse cx="157.23" cy="607.81" rx="5.15" ry="4.2" fill="url(#lo)"/>
<rect x="154.23" y="607.06" width="6" height="1.5" rx="0.75" fill="#ffdc9c" opacity="0.85"/>
<ellipse cx="42.89" cy="611.19" rx="6.3" ry="5.1" fill="#fbe3e0"/>
<ellipse cx="42.89" cy="611.19" rx="5.15" ry="4.2" fill="url(#lr)"/>
<rect x="39.89" y="610.44" width="6" height="1.5" rx="0.75" fill="#ffd2d0" opacity="0.85"/>
<ellipse cx="57.18" cy="612" rx="6.3" ry="5.1" fill="#fdeccf"/>
<ellipse cx="57.18" cy="612" rx="5.15" ry="4.2" fill="url(#lo)"/>
<rect x="54.18" y="611.25" width="6" height="1.5" rx="0.75" fill="#ffdc9c" opacity="0.85"/>
<ellipse cx="71.47" cy="612.8" rx="6.3" ry="5.1" fill="#fbe3e0"/>
<ellipse cx="71.47" cy="612.8" rx="5.15" ry="4.2" fill="url(#lr)"/>
<rect x="68.47" y="612.05" width="6" height="1.5" rx="0.75" fill="#ffd2d0" opacity="0.85"/>
<ellipse cx="85.76" cy="613.61" rx="6.3" ry="5.1" fill="#fdeccf"/>
<ellipse cx="85.76" cy="613.61" rx="5.15" ry="4.2" fill="url(#lo)"/>
<rect x="82.76" y="612.86" width="6" height="1.5" rx="0.75" fill="#ffdc9c" opacity="0.85"/>
<ellipse cx="100.05" cy="614.42" rx="6.3" ry="5.1" fill="#fbe3e0"/>
<ellipse cx="100.05" cy="614.42" rx="5.15" ry="4.2" fill="url(#lr)"/>
<rect x="97.05" y="613.67" width="6" height="1.5" rx="0.75" fill="#ffd2d0" opacity="0.85"/>
<ellipse cx="114.34" cy="615.22" rx="6.3" ry="5.1" fill="#fdeccf"/>
<ellipse cx="114.34" cy="615.22" rx="5.15" ry="4.2" fill="url(#lo)"/>
<rect x="111.34" y="614.47" width="6" height="1.5" rx="0.75" fill="#ffdc9c" opacity="0.85"/>
<ellipse cx="128.63" cy="616.03" rx="6.3" ry="5.1" fill="#fbe3e0"/>
<ellipse cx="128.63" cy="616.03" rx="5.15" ry="4.2" fill="url(#lr)"/>
<rect x="125.63" y="615.28" width="6" height="1.5" rx="0.75" fill="#ffd2d0" opacity="0.85"/>
<ellipse cx="142.92" cy="616.84" rx="6.3" ry="5.1" fill="#fdeccf"/>
<ellipse cx="142.92" cy="616.84" rx="5.15" ry="4.2" fill="url(#lo)"/>
<rect x="139.92" y="616.09" width="6" height="1.5" rx="0.75" fill="#ffdc9c" opacity="0.85"/>
<ellipse cx="157.21" cy="617.65" rx="6.3" ry="5.1" fill="#fbe3e0"/>
<ellipse cx="157.21" cy="617.65" rx="5.15" ry="4.2" fill="url(#lr)"/>
<rect x="154.21" y="616.9" width="6" height="1.5" rx="0.75" fill="#ffd2d0" opacity="0.85"/>
<ellipse cx="42.85" cy="621.41" rx="6.3" ry="5.1" fill="#fdeccf"/>
<ellipse cx="42.85" cy="621.41" rx="5.15" ry="4.2" fill="url(#lo)"/>
<rect x="39.85" y="620.66" width="6" height="1.5" rx="0.75" fill="#ffdc9c" opacity="0.85"/>
<ellipse cx="57.15" cy="622.16" rx="6.3" ry="5.1" fill="#fbe3e0"/>
<ellipse cx="57.15" cy="622.16" rx="5.15" ry="4.2" fill="url(#lr)"/>
<rect x="54.15" y="621.41" width="6" height="1.5" rx="0.75" fill="#ffd2d0" opacity="0.85"/>
<ellipse cx="71.44" cy="622.92" rx="6.3" ry="5.1" fill="#fdeccf"/>
<ellipse cx="71.44" cy="622.92" rx="5.15" ry="4.2" fill="url(#lo)"/>
<rect x="68.44" y="622.17" width="6" height="1.5" rx="0.75" fill="#ffdc9c" opacity="0.85"/>
<ellipse cx="85.73" cy="623.68" rx="6.3" ry="5.1" fill="#fbe3e0"/>
<ellipse cx="85.73" cy="623.68" rx="5.15" ry="4.2" fill="url(#lr)"/>
<rect x="82.73" y="622.93" width="6" height="1.5" rx="0.75" fill="#ffd2d0" opacity="0.85"/>
<ellipse cx="100.02" cy="624.44" rx="6.3" ry="5.1" fill="#fdeccf"/>
<ellipse cx="100.02" cy="624.44" rx="5.15" ry="4.2" fill="url(#lo)"/>
<rect x="97.02" y="623.69" width="6" height="1.5" rx="0.75" fill="#ffdc9c" opacity="0.85"/>
<ellipse cx="114.32" cy="625.2" rx="6.3" ry="5.1" fill="#fbe3e0"/>
<ellipse cx="114.32" cy="625.2" rx="5.15" ry="4.2" fill="url(#lr)"/>
<rect x="111.32" y="624.45" width="6" height="1.5" rx="0.75" fill="#ffd2d0" opacity="0.85"/>
<ellipse cx="128.61" cy="625.96" rx="6.3" ry="5.1" fill="#fdeccf"/>
<ellipse cx="128.61" cy="625.96" rx="5.15" ry="4.2" fill="url(#lo)"/>
<rect x="125.61" y="625.21" width="6" height="1.5" rx="0.75" fill="#ffdc9c" opacity="0.85"/>
<ellipse cx="142.9" cy="626.72" rx="6.3" ry="5.1" fill="#fbe3e0"/>
<ellipse cx="142.9" cy="626.72" rx="5.15" ry="4.2" fill="url(#lr)"/>
<rect x="139.9" y="625.97" width="6" height="1.5" rx="0.75" fill="#ffd2d0" opacity="0.85"/>
<ellipse cx="157.19" cy="627.48" rx="6.3" ry="5.1" fill="#fdeccf"/>
<ellipse cx="157.19" cy="627.48" rx="5.15" ry="4.2" fill="url(#lo)"/>
<rect x="154.19" y="626.73" width="6" height="1.5" rx="0.75" fill="#ffdc9c" opacity="0.85"/>
<ellipse cx="42.82" cy="631.62" rx="6.3" ry="5.1" fill="#fbe3e0"/>
<ellipse cx="42.82" cy="631.62" rx="5.15" ry="4.2" fill="url(#lr)"/>
<rect x="39.82" y="630.87" width="6" height="1.5" rx="0.75" fill="#ffd2d0" opacity="0.85"/>
<ellipse cx="57.11" cy="632.33" rx="6.3" ry="5.1" fill="#fdeccf"/>
<ellipse cx="57.11" cy="632.33" rx="5.15" ry="4.2" fill="url(#lo)"/>
<rect x="54.11" y="631.58" width="6" height="1.5" rx="0.75" fill="#ffdc9c" opacity="0.85"/>
<ellipse cx="71.41" cy="633.04" rx="6.3" ry="5.1" fill="#fbe3e0"/>
<ellipse cx="71.41" cy="633.04" rx="5.15" ry="4.2" fill="url(#lr)"/>
<rect x="68.41" y="632.29" width="6" height="1.5" rx="0.75" fill="#ffd2d0" opacity="0.85"/>
<ellipse cx="85.7" cy="633.76" rx="6.3" ry="5.1" fill="#fdeccf"/>
<ellipse cx="85.7" cy="633.76" rx="5.15" ry="4.2" fill="url(#lo)"/>
<rect x="82.7" y="633.01" width="6" height="1.5" rx="0.75" fill="#ffdc9c" opacity="0.85"/>
<ellipse cx="100" cy="634.47" rx="6.3" ry="5.1" fill="#fbe3e0"/>
<ellipse cx="100" cy="634.47" rx="5.15" ry="4.2" fill="url(#lr)"/>
<rect x="97" y="633.72" width="6" height="1.5" rx="0.75" fill="#ffd2d0" opacity="0.85"/>
<ellipse cx="114.29" cy="635.18" rx="6.3" ry="5.1" fill="#fdeccf"/>
<ellipse cx="114.29" cy="635.18" rx="5.15" ry="4.2" fill="url(#lo)"/>
<rect x="111.29" y="634.43" width="6" height="1.5" rx="0.75" fill="#ffdc9c" opacity="0.85"/>
<ellipse cx="128.59" cy="635.89" rx="6.3" ry="5.1" fill="#fbe3e0"/>
<ellipse cx="128.59" cy="635.89" rx="5.15" ry="4.2" fill="url(#lr)"/>
<rect x="125.59" y="635.14" width="6" height="1.5" rx="0.75" fill="#ffd2d0" opacity="0.85"/>
<ellipse cx="142.88" cy="636.6" rx="6.3" ry="5.1" fill="#fdeccf"/>
<ellipse cx="142.88" cy="636.6" rx="5.15" ry="4.2" fill="url(#lo)"/>
<rect x="139.88" y="635.85" width="6" height="1.5" rx="0.75" fill="#ffdc9c" opacity="0.85"/>
<ellipse cx="157.18" cy="637.31" rx="6.3" ry="5.1" fill="#fbe3e0"/>
<ellipse cx="157.18" cy="637.31" rx="5.15" ry="4.2" fill="url(#lr)"/>
<rect x="154.18" y="636.56" width="6" height="1.5" rx="0.75" fill="#ffd2d0" opacity="0.85"/>
<ellipse cx="42.78" cy="641.84" rx="6.3" ry="5.1" fill="#fdeccf"/>
<ellipse cx="42.78" cy="641.84" rx="5.15" ry="4.2" fill="url(#lo)"/>
<rect x="39.78" y="641.09" width="6" height="1.5" rx="0.75" fill="#ffdc9c" opacity="0.85"/>
<ellipse cx="57.08" cy="642.5" rx="6.3" ry="5.1" fill="#fbe3e0"/>
<ellipse cx="57.08" cy="642.5" rx="5.15" ry="4.2" fill="url(#lr)"/>
<rect x="54.08" y="641.75" width="6" height="1.5" rx="0.75" fill="#ffd2d0" opacity="0.85"/>
<ellipse cx="71.38" cy="643.17" rx="6.3" ry="5.1" fill="#fdeccf"/>
<ellipse cx="71.38" cy="643.17" rx="5.15" ry="4.2" fill="url(#lo)"/>
<rect x="68.38" y="642.42" width="6" height="1.5" rx="0.75" fill="#ffdc9c" opacity="0.85"/>
<ellipse cx="85.67" cy="643.83" rx="6.3" ry="5.1" fill="#fbe3e0"/>
<ellipse cx="85.67" cy="643.83" rx="5.15" ry="4.2" fill="url(#lr)"/>
<rect x="82.67" y="643.08" width="6" height="1.5" rx="0.75" fill="#ffd2d0" opacity="0.85"/>
<ellipse cx="99.97" cy="644.49" rx="6.3" ry="5.1" fill="#fdeccf"/>
<ellipse cx="99.97" cy="644.49" rx="5.15" ry="4.2" fill="url(#lo)"/>
<rect x="96.97" y="643.74" width="6" height="1.5" rx="0.75" fill="#ffdc9c" opacity="0.85"/>
<ellipse cx="114.27" cy="645.15" rx="6.3" ry="5.1" fill="#fbe3e0"/>
<ellipse cx="114.27" cy="645.15" rx="5.15" ry="4.2" fill="url(#lr)"/>
<rect x="111.27" y="644.4" width="6" height="1.5" rx="0.75" fill="#ffd2d0" opacity="0.85"/>
<ellipse cx="128.57" cy="645.82" rx="6.3" ry="5.1" fill="#fdeccf"/>
<ellipse cx="128.57" cy="645.82" rx="5.15" ry="4.2" fill="url(#lo)"/>
<rect x="125.57" y="645.07" width="6" height="1.5" rx="0.75" fill="#ffdc9c" opacity="0.85"/>
<ellipse cx="142.86" cy="646.48" rx="6.3" ry="5.1" fill="#fbe3e0"/>
<ellipse cx="142.86" cy="646.48" rx="5.15" ry="4.2" fill="url(#lr)"/>
<rect x="139.86" y="645.73" width="6" height="1.5" rx="0.75" fill="#ffd2d0" opacity="0.85"/>
<ellipse cx="157.16" cy="647.14" rx="6.3" ry="5.1" fill="#fdeccf"/>
<ellipse cx="157.16" cy="647.14" rx="5.15" ry="4.2" fill="url(#lo)"/>
<rect x="154.16" y="646.39" width="6" height="1.5" rx="0.75" fill="#ffdc9c" opacity="0.85"/>
<ellipse cx="42.75" cy="652.06" rx="6.3" ry="5.1" fill="#fbe3e0"/>
<ellipse cx="42.75" cy="652.06" rx="5.15" ry="4.2" fill="url(#lr)"/>
<rect x="39.75" y="651.31" width="6" height="1.5" rx="0.75" fill="#ffd2d0" opacity="0.85"/>
<ellipse cx="57.05" cy="652.67" rx="6.3" ry="5.1" fill="#fdeccf"/>
<ellipse cx="57.05" cy="652.67" rx="5.15" ry="4.2" fill="url(#lo)"/>
<rect x="54.05" y="651.92" width="6" height="1.5" rx="0.75" fill="#ffdc9c" opacity="0.85"/>
<ellipse cx="71.35" cy="653.29" rx="6.3" ry="5.1" fill="#fbe3e0"/>
<ellipse cx="71.35" cy="653.29" rx="5.15" ry="4.2" fill="url(#lr)"/>
<rect x="68.35" y="652.54" width="6" height="1.5" rx="0.75" fill="#ffd2d0" opacity="0.85"/>
<ellipse cx="85.65" cy="653.9" rx="6.3" ry="5.1" fill="#fdeccf"/>
<ellipse cx="85.65" cy="653.9" rx="5.15" ry="4.2" fill="url(#lo)"/>
<rect x="82.65" y="653.15" width="6" height="1.5" rx="0.75" fill="#ffdc9c" opacity="0.85"/>
<ellipse cx="99.95" cy="654.52" rx="6.3" ry="5.1" fill="#fbe3e0"/>
<ellipse cx="99.95" cy="654.52" rx="5.15" ry="4.2" fill="url(#lr)"/>
<rect x="96.95" y="653.77" width="6" height="1.5" rx="0.75" fill="#ffd2d0" opacity="0.85"/>
<ellipse cx="114.24" cy="655.13" rx="6.3" ry="5.1" fill="#fdeccf"/>
<ellipse cx="114.24" cy="655.13" rx="5.15" ry="4.2" fill="url(#lo)"/>
<rect x="111.24" y="654.38" width="6" height="1.5" rx="0.75" fill="#ffdc9c" opacity="0.85"/>
<ellipse cx="128.54" cy="655.74" rx="6.3" ry="5.1" fill="#fbe3e0"/>
<ellipse cx="128.54" cy="655.74" rx="5.15" ry="4.2" fill="url(#lr)"/>
<rect x="125.54" y="654.99" width="6" height="1.5" rx="0.75" fill="#ffd2d0" opacity="0.85"/>
<ellipse cx="142.84" cy="656.36" rx="6.3" ry="5.1" fill="#fdeccf"/>
<ellipse cx="142.84" cy="656.36" rx="5.15" ry="4.2" fill="url(#lo)"/>
<rect x="139.84" y="655.61" width="6" height="1.5" rx="0.75" fill="#ffdc9c" opacity="0.85"/>
<ellipse cx="157.14" cy="656.97" rx="6.3" ry="5.1" fill="#fbe3e0"/>
<ellipse cx="157.14" cy="656.97" rx="5.15" ry="4.2" fill="url(#lr)"/>
<rect x="154.14" y="656.22" width="6" height="1.5" rx="0.75" fill="#ffd2d0" opacity="0.85"/>
<ellipse cx="42.71" cy="662.27" rx="6.3" ry="5.1" fill="#fdeccf"/>
<ellipse cx="42.71" cy="662.27" rx="5.15" ry="4.2" fill="url(#lo)"/>
<rect x="39.71" y="661.52" width="6" height="1.5" rx="0.75" fill="#ffdc9c" opacity="0.85"/>
<ellipse cx="57.01" cy="662.84" rx="6.3" ry="5.1" fill="#fbe3e0"/>
<ellipse cx="57.01" cy="662.84" rx="5.15" ry="4.2" fill="url(#lr)"/>
<rect x="54.01" y="662.09" width="6" height="1.5" rx="0.75" fill="#ffd2d0" opacity="0.85"/>
<ellipse cx="71.32" cy="663.41" rx="6.3" ry="5.1" fill="#fdeccf"/>
<ellipse cx="71.32" cy="663.41" rx="5.15" ry="4.2" fill="url(#lo)"/>
<rect x="68.32" y="662.66" width="6" height="1.5" rx="0.75" fill="#ffdc9c" opacity="0.85"/>
<ellipse cx="85.62" cy="663.97" rx="6.3" ry="5.1" fill="#fbe3e0"/>
<ellipse cx="85.62" cy="663.97" rx="5.15" ry="4.2" fill="url(#lr)"/>
<rect x="82.62" y="663.22" width="6" height="1.5" rx="0.75" fill="#ffd2d0" opacity="0.85"/>
<ellipse cx="99.92" cy="664.54" rx="6.3" ry="5.1" fill="#fdeccf"/>
<ellipse cx="99.92" cy="664.54" rx="5.15" ry="4.2" fill="url(#lo)"/>
<rect x="96.92" y="663.79" width="6" height="1.5" rx="0.75" fill="#ffdc9c" opacity="0.85"/>
<ellipse cx="114.22" cy="665.11" rx="6.3" ry="5.1" fill="#fbe3e0"/>
<ellipse cx="114.22" cy="665.11" rx="5.15" ry="4.2" fill="url(#lr)"/>
<rect x="111.22" y="664.36" width="6" height="1.5" rx="0.75" fill="#ffd2d0" opacity="0.85"/>
<ellipse cx="128.52" cy="665.67" rx="6.3" ry="5.1" fill="#fdeccf"/>
<ellipse cx="128.52" cy="665.67" rx="5.15" ry="4.2" fill="url(#lo)"/>
<rect x="125.52" y="664.92" width="6" height="1.5" rx="0.75" fill="#ffdc9c" opacity="0.85"/>
<ellipse cx="142.82" cy="666.24" rx="6.3" ry="5.1" fill="#fbe3e0"/>
<ellipse cx="142.82" cy="666.24" rx="5.15" ry="4.2" fill="url(#lr)"/>
<rect x="139.82" y="665.49" width="6" height="1.5" rx="0.75" fill="#ffd2d0" opacity="0.85"/>
<ellipse cx="157.13" cy="666.81" rx="6.3" ry="5.1" fill="#fdeccf"/>
<ellipse cx="157.13" cy="666.81" rx="5.15" ry="4.2" fill="url(#lo)"/>
<rect x="154.13" y="666.06" width="6" height="1.5" rx="0.75" fill="#ffdc9c" opacity="0.85"/>
<ellipse cx="42.68" cy="672.49" rx="6.3" ry="5.1" fill="#fbe3e0"/>
<ellipse cx="42.68" cy="672.49" rx="5.15" ry="4.2" fill="url(#lr)"/>
<rect x="39.68" y="671.74" width="6" height="1.5" rx="0.75" fill="#ffd2d0" opacity="0.85"/>
<ellipse cx="56.98" cy="673.01" rx="6.3" ry="5.1" fill="#fdeccf"/>
<ellipse cx="56.98" cy="673.01" rx="5.15" ry="4.2" fill="url(#lo)"/>
<rect x="53.98" y="672.26" width="6" height="1.5" rx="0.75" fill="#ffdc9c" opacity="0.85"/>
<ellipse cx="71.28" cy="673.53" rx="6.3" ry="5.1" fill="#fbe3e0"/>
<ellipse cx="71.28" cy="673.53" rx="5.15" ry="4.2" fill="url(#lr)"/>
<rect x="68.28" y="672.78" width="6" height="1.5" rx="0.75" fill="#ffd2d0" opacity="0.85"/>
<ellipse cx="85.59" cy="674.05" rx="6.3" ry="5.1" fill="#fdeccf"/>
<ellipse cx="85.59" cy="674.05" rx="5.15" ry="4.2" fill="url(#lo)"/>
<rect x="82.59" y="673.3" width="6" height="1.5" rx="0.75" fill="#ffdc9c" opacity="0.85"/>
<ellipse cx="99.89" cy="674.56" rx="6.3" ry="5.1" fill="#fbe3e0"/>
<ellipse cx="99.89" cy="674.56" rx="5.15" ry="4.2" fill="url(#lr)"/>
<rect x="96.89" y="673.81" width="6" height="1.5" rx="0.75" fill="#ffd2d0" opacity="0.85"/>
<ellipse cx="114.2" cy="675.08" rx="6.3" ry="5.1" fill="#fdeccf"/>
<ellipse cx="114.2" cy="675.08" rx="5.15" ry="4.2" fill="url(#lo)"/>
<rect x="111.2" y="674.33" width="6" height="1.5" rx="0.75" fill="#ffdc9c" opacity="0.85"/>
<ellipse cx="128.5" cy="675.6" rx="6.3" ry="5.1" fill="#fbe3e0"/>
<ellipse cx="128.5" cy="675.6" rx="5.15" ry="4.2" fill="url(#lr)"/>
<rect x="125.5" y="674.85" width="6" height="1.5" rx="0.75" fill="#ffd2d0" opacity="0.85"/>
<ellipse cx="142.81" cy="676.12" rx="6.3" ry="5.1" fill="#fdeccf"/>
<ellipse cx="142.81" cy="676.12" rx="5.15" ry="4.2" fill="url(#lo)"/>
<rect x="139.81" y="675.37" width="6" height="1.5" rx="0.75" fill="#ffdc9c" opacity="0.85"/>
<ellipse cx="157.11" cy="676.64" rx="6.3" ry="5.1" fill="#fbe3e0"/>
<ellipse cx="157.11" cy="676.64" rx="5.15" ry="4.2" fill="url(#lr)"/>
<rect x="154.11" y="675.89" width="6" height="1.5" rx="0.75" fill="#ffd2d0" opacity="0.85"/>
<ellipse cx="42.64" cy="682.71" rx="6.3" ry="5.1" fill="#fdeccf"/>
<ellipse cx="42.64" cy="682.71" rx="5.15" ry="4.2" fill="url(#lo)"/>
<rect x="39.64" y="681.96" width="6" height="1.5" rx="0.75" fill="#ffdc9c" opacity="0.85"/>
<ellipse cx="56.95" cy="683.18" rx="6.3" ry="5.1" fill="#fbe3e0"/>
<ellipse cx="56.95" cy="683.18" rx="5.15" ry="4.2" fill="url(#lr)"/>
<rect x="53.95" y="682.43" width="6" height="1.5" rx="0.75" fill="#ffd2d0" opacity="0.85"/>
<ellipse cx="71.25" cy="683.65" rx="6.3" ry="5.1" fill="#fdeccf"/>
<ellipse cx="71.25" cy="683.65" rx="5.15" ry="4.2" fill="url(#lo)"/>
<rect x="68.25" y="682.9" width="6" height="1.5" rx="0.75" fill="#ffdc9c" opacity="0.85"/>
<ellipse cx="85.56" cy="684.12" rx="6.3" ry="5.1" fill="#fbe3e0"/>
<ellipse cx="85.56" cy="684.12" rx="5.15" ry="4.2" fill="url(#lr)"/>
<rect x="82.56" y="683.37" width="6" height="1.5" rx="0.75" fill="#ffd2d0" opacity="0.85"/>
<ellipse cx="99.87" cy="684.59" rx="6.3" ry="5.1" fill="#fdeccf"/>
<ellipse cx="99.87" cy="684.59" rx="5.15" ry="4.2" fill="url(#lo)"/>
<rect x="96.87" y="683.84" width="6" height="1.5" rx="0.75" fill="#ffdc9c" opacity="0.85"/>
<ellipse cx="114.17" cy="685.06" rx="6.3" ry="5.1" fill="#fbe3e0"/>
<ellipse cx="114.17" cy="685.06" rx="5.15" ry="4.2" fill="url(#lr)"/>
<rect x="111.17" y="684.31" width="6" height="1.5" rx="0.75" fill="#ffd2d0" opacity="0.85"/>
<ellipse cx="128.48" cy="685.53" rx="6.3" ry="5.1" fill="#fdeccf"/>
<ellipse cx="128.48" cy="685.53" rx="5.15" ry="4.2" fill="url(#lo)"/>
<rect x="125.48" y="684.78" width="6" height="1.5" rx="0.75" fill="#ffdc9c" opacity="0.85"/>
<ellipse cx="142.79" cy="686" rx="6.3" ry="5.1" fill="#fbe3e0"/>
<ellipse cx="142.79" cy="686" rx="5.15" ry="4.2" fill="url(#lr)"/>
<rect x="139.79" y="685.25" width="6" height="1.5" rx="0.75" fill="#ffd2d0" opacity="0.85"/>
<ellipse cx="157.09" cy="686.47" rx="6.3" ry="5.1" fill="#fdeccf"/>
<ellipse cx="157.09" cy="686.47" rx="5.15" ry="4.2" fill="url(#lo)"/>
<rect x="154.09" y="685.72" width="6" height="1.5" rx="0.75" fill="#ffdc9c" opacity="0.85"/>
<ellipse cx="42.6" cy="692.92" rx="6.3" ry="5.1" fill="#fbe3e0"/>
<ellipse cx="42.6" cy="692.92" rx="5.15" ry="4.2" fill="url(#lr)"/>
<rect x="39.6" y="692.17" width="6" height="1.5" rx="0.75" fill="#ffd2d0" opacity="0.85"/>
<ellipse cx="56.91" cy="693.35" rx="6.3" ry="5.1" fill="#fdeccf"/>
<ellipse cx="56.91" cy="693.35" rx="5.15" ry="4.2" fill="url(#lo)"/>
<rect x="53.91" y="692.6" width="6" height="1.5" rx="0.75" fill="#ffdc9c" opacity="0.85"/>
<ellipse cx="71.22" cy="693.77" rx="6.3" ry="5.1" fill="#fbe3e0"/>
<ellipse cx="71.22" cy="693.77" rx="5.15" ry="4.2" fill="url(#lr)"/>
<rect x="68.22" y="693.02" width="6" height="1.5" rx="0.75" fill="#ffd2d0" opacity="0.85"/>
<ellipse cx="85.53" cy="694.19" rx="6.3" ry="5.1" fill="#fdeccf"/>
<ellipse cx="85.53" cy="694.19" rx="5.15" ry="4.2" fill="url(#lo)"/>
<rect x="82.53" y="693.44" width="6" height="1.5" rx="0.75" fill="#ffdc9c" opacity="0.85"/>
<ellipse cx="99.84" cy="694.61" rx="6.3" ry="5.1" fill="#fbe3e0"/>
<ellipse cx="99.84" cy="694.61" rx="5.15" ry="4.2" fill="url(#lr)"/>
<rect x="96.84" y="693.86" width="6" height="1.5" rx="0.75" fill="#ffd2d0" opacity="0.85"/>
<ellipse cx="114.15" cy="695.04" rx="6.3" ry="5.1" fill="#fdeccf"/>
<ellipse cx="114.15" cy="695.04" rx="5.15" ry="4.2" fill="url(#lo)"/>
<rect x="111.15" y="694.29" width="6" height="1.5" rx="0.75" fill="#ffdc9c" opacity="0.85"/>
<ellipse cx="128.46" cy="695.46" rx="6.3" ry="5.1" fill="#fbe3e0"/>
<ellipse cx="128.46" cy="695.46" rx="5.15" ry="4.2" fill="url(#lr)"/>
<rect x="125.46" y="694.71" width="6" height="1.5" rx="0.75" fill="#ffd2d0" opacity="0.85"/>
<ellipse cx="142.77" cy="695.88" rx="6.3" ry="5.1" fill="#fdeccf"/>
<ellipse cx="142.77" cy="695.88" rx="5.15" ry="4.2" fill="url(#lo)"/>
<rect x="139.77" y="695.13" width="6" height="1.5" rx="0.75" fill="#ffdc9c" opacity="0.85"/>
<ellipse cx="157.08" cy="696.3" rx="6.3" ry="5.1" fill="#fbe3e0"/>
<ellipse cx="157.08" cy="696.3" rx="5.15" ry="4.2" fill="url(#lr)"/>
<rect x="154.08" y="695.55" width="6" height="1.5" rx="0.75" fill="#ffd2d0" opacity="0.85"/>
<ellipse cx="42.57" cy="703.14" rx="6.3" ry="5.1" fill="#fdeccf"/>
<ellipse cx="42.57" cy="703.14" rx="5.15" ry="4.2" fill="url(#lo)"/>
<rect x="39.57" y="702.39" width="6" height="1.5" rx="0.75" fill="#ffdc9c" opacity="0.85"/>
<ellipse cx="56.88" cy="703.52" rx="6.3" ry="5.1" fill="#fbe3e0"/>
<ellipse cx="56.88" cy="703.52" rx="5.15" ry="4.2" fill="url(#lr)"/>
<rect x="53.88" y="702.77" width="6" height="1.5" rx="0.75" fill="#ffd2d0" opacity="0.85"/>
<ellipse cx="71.19" cy="703.89" rx="6.3" ry="5.1" fill="#fdeccf"/>
<ellipse cx="71.19" cy="703.89" rx="5.15" ry="4.2" fill="url(#lo)"/>
<rect x="68.19" y="703.14" width="6" height="1.5" rx="0.75" fill="#ffdc9c" opacity="0.85"/>
<ellipse cx="85.5" cy="704.26" rx="6.3" ry="5.1" fill="#fbe3e0"/>
<ellipse cx="85.5" cy="704.26" rx="5.15" ry="4.2" fill="url(#lr)"/>
<rect x="82.5" y="703.51" width="6" height="1.5" rx="0.75" fill="#ffd2d0" opacity="0.85"/>
<ellipse cx="99.81" cy="704.64" rx="6.3" ry="5.1" fill="#fdeccf"/>
<ellipse cx="99.81" cy="704.64" rx="5.15" ry="4.2" fill="url(#lo)"/>
<rect x="96.81" y="703.89" width="6" height="1.5" rx="0.75" fill="#ffdc9c" opacity="0.85"/>
<ellipse cx="114.12" cy="705.01" rx="6.3" ry="5.1" fill="#fbe3e0"/>
<ellipse cx="114.12" cy="705.01" rx="5.15" ry="4.2" fill="url(#lr)"/>
<rect x="111.12" y="704.26" width="6" height="1.5" rx="0.75" fill="#ffd2d0" opacity="0.85"/>
<ellipse cx="128.44" cy="705.39" rx="6.3" ry="5.1" fill="#fdeccf"/>
<ellipse cx="128.44" cy="705.39" rx="5.15" ry="4.2" fill="url(#lo)"/>
<rect x="125.44" y="704.64" width="6" height="1.5" rx="0.75" fill="#ffdc9c" opacity="0.85"/>
<ellipse cx="142.75" cy="705.76" rx="6.3" ry="5.1" fill="#fbe3e0"/>
<ellipse cx="142.75" cy="705.76" rx="5.15" ry="4.2" fill="url(#lr)"/>
<rect x="139.75" y="705.01" width="6" height="1.5" rx="0.75" fill="#ffd2d0" opacity="0.85"/>
<ellipse cx="157.06" cy="706.13" rx="6.3" ry="5.1" fill="#fdeccf"/>
<ellipse cx="157.06" cy="706.13" rx="5.15" ry="4.2" fill="url(#lo)"/>
<rect x="154.06" y="705.38" width="6" height="1.5" rx="0.75" fill="#ffdc9c" opacity="0.85"/>
<ellipse cx="42.53" cy="713.36" rx="6.3" ry="5.1" fill="#fbe3e0"/>
<ellipse cx="42.53" cy="713.36" rx="5.15" ry="4.2" fill="url(#lr)"/>
<rect x="39.53" y="712.61" width="6" height="1.5" rx="0.75" fill="#ffd2d0" opacity="0.85"/>
<ellipse cx="56.85" cy="713.68" rx="6.3" ry="5.1" fill="#fdeccf"/>
<ellipse cx="56.85" cy="713.68" rx="5.15" ry="4.2" fill="url(#lo)"/>
<rect x="53.85" y="712.93" width="6" height="1.5" rx="0.75" fill="#ffdc9c" opacity="0.85"/>
<ellipse cx="71.16" cy="714.01" rx="6.3" ry="5.1" fill="#fbe3e0"/>
<ellipse cx="71.16" cy="714.01" rx="5.15" ry="4.2" fill="url(#lr)"/>
<rect x="68.16" y="713.26" width="6" height="1.5" rx="0.75" fill="#ffd2d0" opacity="0.85"/>
<ellipse cx="85.47" cy="714.34" rx="6.3" ry="5.1" fill="#fdeccf"/>
<ellipse cx="85.47" cy="714.34" rx="5.15" ry="4.2" fill="url(#lo)"/>
<rect x="82.47" y="713.59" width="6" height="1.5" rx="0.75" fill="#ffdc9c" opacity="0.85"/>
<ellipse cx="99.79" cy="714.66" rx="6.3" ry="5.1" fill="#fbe3e0"/>
<ellipse cx="99.79" cy="714.66" rx="5.15" ry="4.2" fill="url(#lr)"/>
<rect x="96.79" y="713.91" width="6" height="1.5" rx="0.75" fill="#ffd2d0" opacity="0.85"/>
<ellipse cx="114.1" cy="714.99" rx="6.3" ry="5.1" fill="#fdeccf"/>
<ellipse cx="114.1" cy="714.99" rx="5.15" ry="4.2" fill="url(#lo)"/>
<rect x="111.1" y="714.24" width="6" height="1.5" rx="0.75" fill="#ffdc9c" opacity="0.85"/>
<ellipse cx="128.41" cy="715.31" rx="6.3" ry="5.1" fill="#fbe3e0"/>
<ellipse cx="128.41" cy="715.31" rx="5.15" ry="4.2" fill="url(#lr)"/>
<rect x="125.41" y="714.56" width="6" height="1.5" rx="0.75" fill="#ffd2d0" opacity="0.85"/>
<ellipse cx="142.73" cy="715.64" rx="6.3" ry="5.1" fill="#fdeccf"/>
<ellipse cx="142.73" cy="715.64" rx="5.15" ry="4.2" fill="url(#lo)"/>
<rect x="139.73" y="714.89" width="6" height="1.5" rx="0.75" fill="#ffdc9c" opacity="0.85"/>
<ellipse cx="157.04" cy="715.97" rx="6.3" ry="5.1" fill="#fbe3e0"/>
<ellipse cx="157.04" cy="715.97" rx="5.15" ry="4.2" fill="url(#lr)"/>
<rect x="154.04" y="715.22" width="6" height="1.5" rx="0.75" fill="#ffd2d0" opacity="0.85"/>
<ellipse cx="42.5" cy="723.58" rx="6.3" ry="5.1" fill="#fdeccf"/>
<ellipse cx="42.5" cy="723.58" rx="5.15" ry="4.2" fill="url(#lo)"/>
<rect x="39.5" y="722.83" width="6" height="1.5" rx="0.75" fill="#ffdc9c" opacity="0.85"/>
<ellipse cx="56.81" cy="723.85" rx="6.3" ry="5.1" fill="#fbe3e0"/>
<ellipse cx="56.81" cy="723.85" rx="5.15" ry="4.2" fill="url(#lr)"/>
<rect x="53.81" y="723.1" width="6" height="1.5" rx="0.75" fill="#ffd2d0" opacity="0.85"/>
<ellipse cx="71.13" cy="724.13" rx="6.3" ry="5.1" fill="#fdeccf"/>
<ellipse cx="71.13" cy="724.13" rx="5.15" ry="4.2" fill="url(#lo)"/>
<rect x="68.13" y="723.38" width="6" height="1.5" rx="0.75" fill="#ffdc9c" opacity="0.85"/>
<ellipse cx="85.44" cy="724.41" rx="6.3" ry="5.1" fill="#fbe3e0"/>
<ellipse cx="85.44" cy="724.41" rx="5.15" ry="4.2" fill="url(#lr)"/>
<rect x="82.44" y="723.66" width="6" height="1.5" rx="0.75" fill="#ffd2d0" opacity="0.85"/>
<ellipse cx="99.76" cy="724.69" rx="6.3" ry="5.1" fill="#fdeccf"/>
<ellipse cx="99.76" cy="724.69" rx="5.15" ry="4.2" fill="url(#lo)"/>
<rect x="96.76" y="723.94" width="6" height="1.5" rx="0.75" fill="#ffdc9c" opacity="0.85"/>
<ellipse cx="114.08" cy="724.96" rx="6.3" ry="5.1" fill="#fbe3e0"/>
<ellipse cx="114.08" cy="724.96" rx="5.15" ry="4.2" fill="url(#lr)"/>
<rect x="111.08" y="724.21" width="6" height="1.5" rx="0.75" fill="#ffd2d0" opacity="0.85"/>
<ellipse cx="128.39" cy="725.24" rx="6.3" ry="5.1" fill="#fdeccf"/>
<ellipse cx="128.39" cy="725.24" rx="5.15" ry="4.2" fill="url(#lo)"/>
<rect x="125.39" y="724.49" width="6" height="1.5" rx="0.75" fill="#ffdc9c" opacity="0.85"/>
<ellipse cx="142.71" cy="725.52" rx="6.3" ry="5.1" fill="#fbe3e0"/>
<ellipse cx="142.71" cy="725.52" rx="5.15" ry="4.2" fill="url(#lr)"/>
<rect x="139.71" y="724.77" width="6" height="1.5" rx="0.75" fill="#ffd2d0" opacity="0.85"/>
<ellipse cx="157.02" cy="725.8" rx="6.3" ry="5.1" fill="#fdeccf"/>
<ellipse cx="157.02" cy="725.8" rx="5.15" ry="4.2" fill="url(#lo)"/>
<rect x="154.02" y="725.05" width="6" height="1.5" rx="0.75" fill="#ffdc9c" opacity="0.85"/>
<ellipse cx="42.46" cy="733.79" rx="6.3" ry="5.1" fill="#fbe3e0"/>
<ellipse cx="42.46" cy="733.79" rx="5.15" ry="4.2" fill="url(#lr)"/>
<rect x="39.46" y="733.04" width="6" height="1.5" rx="0.75" fill="#ffd2d0" opacity="0.85"/>
<ellipse cx="56.78" cy="734.02" rx="6.3" ry="5.1" fill="#fdeccf"/>
<ellipse cx="56.78" cy="734.02" rx="5.15" ry="4.2" fill="url(#lo)"/>
<rect x="53.78" y="733.27" width="6" height="1.5" rx="0.75" fill="#ffdc9c" opacity="0.85"/>
<ellipse cx="71.1" cy="734.25" rx="6.3" ry="5.1" fill="#fbe3e0"/>
<ellipse cx="71.1" cy="734.25" rx="5.15" ry="4.2" fill="url(#lr)"/>
<rect x="68.1" y="733.5" width="6" height="1.5" rx="0.75" fill="#ffd2d0" opacity="0.85"/>
<ellipse cx="85.42" cy="734.48" rx="6.3" ry="5.1" fill="#fdeccf"/>
<ellipse cx="85.42" cy="734.48" rx="5.15" ry="4.2" fill="url(#lo)"/>
<rect x="82.42" y="733.73" width="6" height="1.5" rx="0.75" fill="#ffdc9c" opacity="0.85"/>
<ellipse cx="99.73" cy="734.71" rx="6.3" ry="5.1" fill="#fbe3e0"/>
<ellipse cx="99.73" cy="734.71" rx="5.15" ry="4.2" fill="url(#lr)"/>
<rect x="96.73" y="733.96" width="6" height="1.5" rx="0.75" fill="#ffd2d0" opacity="0.85"/>
<ellipse cx="114.05" cy="734.94" rx="6.3" ry="5.1" fill="#fdeccf"/>
<ellipse cx="114.05" cy="734.94" rx="5.15" ry="4.2" fill="url(#lo)"/>
<rect x="111.05" y="734.19" width="6" height="1.5" rx="0.75" fill="#ffdc9c" opacity="0.85"/>
<ellipse cx="128.37" cy="735.17" rx="6.3" ry="5.1" fill="#fbe3e0"/>
<ellipse cx="128.37" cy="735.17" rx="5.15" ry="4.2" fill="url(#lr)"/>
<rect x="125.37" y="734.42" width="6" height="1.5" rx="0.75" fill="#ffd2d0" opacity="0.85"/>
<ellipse cx="142.69" cy="735.4" rx="6.3" ry="5.1" fill="#fdeccf"/>
<ellipse cx="142.69" cy="735.4" rx="5.15" ry="4.2" fill="url(#lo)"/>
<rect x="139.69" y="734.65" width="6" height="1.5" rx="0.75" fill="#ffdc9c" opacity="0.85"/>
<ellipse cx="157.01" cy="735.63" rx="6.3" ry="5.1" fill="#fbe3e0"/>
<ellipse cx="157.01" cy="735.63" rx="5.15" ry="4.2" fill="url(#lr)"/>
<rect x="154.01" y="734.88" width="6" height="1.5" rx="0.75" fill="#ffd2d0" opacity="0.85"/>
<ellipse cx="42.42" cy="744.01" rx="6.3" ry="5.1" fill="#fdeccf"/>
<ellipse cx="42.42" cy="744.01" rx="5.15" ry="4.2" fill="url(#lo)"/>
<rect x="39.42" y="743.26" width="6" height="1.5" rx="0.75" fill="#ffdc9c" opacity="0.85"/>
<ellipse cx="56.75" cy="744.19" rx="6.3" ry="5.1" fill="#fbe3e0"/>
<ellipse cx="56.75" cy="744.19" rx="5.15" ry="4.2" fill="url(#lr)"/>
<rect x="53.75" y="743.44" width="6" height="1.5" rx="0.75" fill="#ffd2d0" opacity="0.85"/>
<ellipse cx="71.07" cy="744.37" rx="6.3" ry="5.1" fill="#fdeccf"/>
<ellipse cx="71.07" cy="744.37" rx="5.15" ry="4.2" fill="url(#lo)"/>
<rect x="68.07" y="743.62" width="6" height="1.5" rx="0.75" fill="#ffdc9c" opacity="0.85"/>
<ellipse cx="85.39" cy="744.55" rx="6.3" ry="5.1" fill="#fbe3e0"/>
<ellipse cx="85.39" cy="744.55" rx="5.15" ry="4.2" fill="url(#lr)"/>
<rect x="82.39" y="743.8" width="6" height="1.5" rx="0.75" fill="#ffd2d0" opacity="0.85"/>
<ellipse cx="99.71" cy="744.74" rx="6.3" ry="5.1" fill="#fdeccf"/>
<ellipse cx="99.71" cy="744.74" rx="5.15" ry="4.2" fill="url(#lo)"/>
<rect x="96.71" y="743.99" width="6" height="1.5" rx="0.75" fill="#ffdc9c" opacity="0.85"/>
<ellipse cx="114.03" cy="744.92" rx="6.3" ry="5.1" fill="#fbe3e0"/>
<ellipse cx="114.03" cy="744.92" rx="5.15" ry="4.2" fill="url(#lr)"/>
<rect x="111.03" y="744.17" width="6" height="1.5" rx="0.75" fill="#ffd2d0" opacity="0.85"/>
<ellipse cx="128.35" cy="745.1" rx="6.3" ry="5.1" fill="#fdeccf"/>
<ellipse cx="128.35" cy="745.1" rx="5.15" ry="4.2" fill="url(#lo)"/>
<rect x="125.35" y="744.35" width="6" height="1.5" rx="0.75" fill="#ffdc9c" opacity="0.85"/>
<ellipse cx="142.67" cy="745.28" rx="6.3" ry="5.1" fill="#fbe3e0"/>
<ellipse cx="142.67" cy="745.28" rx="5.15" ry="4.2" fill="url(#lr)"/>
<rect x="139.67" y="744.53" width="6" height="1.5" rx="0.75" fill="#ffd2d0" opacity="0.85"/>
<ellipse cx="156.99" cy="745.46" rx="6.3" ry="5.1" fill="#fdeccf"/>
<ellipse cx="156.99" cy="745.46" rx="5.15" ry="4.2" fill="url(#lo)"/>
<rect x="153.99" y="744.71" width="6" height="1.5" rx="0.75" fill="#ffdc9c" opacity="0.85"/>
<ellipse cx="42.39" cy="754.23" rx="6.3" ry="5.1" fill="#fbe3e0"/>
<ellipse cx="42.39" cy="754.23" rx="5.15" ry="4.2" fill="url(#lr)"/>
<rect x="39.39" y="753.48" width="6" height="1.5" rx="0.75" fill="#ffd2d0" opacity="0.85"/>
<ellipse cx="56.71" cy="754.36" rx="6.3" ry="5.1" fill="#fdeccf"/>
<ellipse cx="56.71" cy="754.36" rx="5.15" ry="4.2" fill="url(#lo)"/>
<rect x="53.71" y="753.61" width="6" height="1.5" rx="0.75" fill="#ffdc9c" opacity="0.85"/>
<ellipse cx="71.03" cy="754.49" rx="6.3" ry="5.1" fill="#fbe3e0"/>
<ellipse cx="71.03" cy="754.49" rx="5.15" ry="4.2" fill="url(#lr)"/>
<rect x="68.03" y="753.74" width="6" height="1.5" rx="0.75" fill="#ffd2d0" opacity="0.85"/>
<ellipse cx="85.36" cy="754.63" rx="6.3" ry="5.1" fill="#fdeccf"/>
<ellipse cx="85.36" cy="754.63" rx="5.15" ry="4.2" fill="url(#lo)"/>
<rect x="82.36" y="753.88" width="6" height="1.5" rx="0.75" fill="#ffdc9c" opacity="0.85"/>
<ellipse cx="99.68" cy="754.76" rx="6.3" ry="5.1" fill="#fbe3e0"/>
<ellipse cx="99.68" cy="754.76" rx="5.15" ry="4.2" fill="url(#lr)"/>
<rect x="96.68" y="754.01" width="6" height="1.5" rx="0.75" fill="#ffd2d0" opacity="0.85"/>
<ellipse cx="114" cy="754.89" rx="6.3" ry="5.1" fill="#fdeccf"/>
<ellipse cx="114" cy="754.89" rx="5.15" ry="4.2" fill="url(#lo)"/>
<rect x="111" y="754.14" width="6" height="1.5" rx="0.75" fill="#ffdc9c" opacity="0.85"/>
<ellipse cx="128.33" cy="755.03" rx="6.3" ry="5.1" fill="#fbe3e0"/>
<ellipse cx="128.33" cy="755.03" rx="5.15" ry="4.2" fill="url(#lr)"/>
<rect x="125.33" y="754.28" width="6" height="1.5" rx="0.75" fill="#ffd2d0" opacity="0.85"/>
<ellipse cx="142.65" cy="755.16" rx="6.3" ry="5.1" fill="#fdeccf"/>
<ellipse cx="142.65" cy="755.16" rx="5.15" ry="4.2" fill="url(#lo)"/>
<rect x="139.65" y="754.41" width="6" height="1.5" rx="0.75" fill="#ffdc9c" opacity="0.85"/>
<ellipse cx="156.97" cy="755.29" rx="6.3" ry="5.1" fill="#fbe3e0"/>
<ellipse cx="156.97" cy="755.29" rx="5.15" ry="4.2" fill="url(#lr)"/>
<rect x="153.97" y="754.54" width="6" height="1.5" rx="0.75" fill="#ffd2d0" opacity="0.85"/>
<ellipse cx="42.35" cy="764.44" rx="6.3" ry="5.1" fill="#fdeccf"/>
<ellipse cx="42.35" cy="764.44" rx="5.15" ry="4.2" fill="url(#lo)"/>
<rect x="39.35" y="763.69" width="6" height="1.5" rx="0.75" fill="#ffdc9c" opacity="0.85"/>
<ellipse cx="56.68" cy="764.53" rx="6.3" ry="5.1" fill="#fbe3e0"/>
<ellipse cx="56.68" cy="764.53" rx="5.15" ry="4.2" fill="url(#lr)"/>
<rect x="53.68" y="763.78" width="6" height="1.5" rx="0.75" fill="#ffd2d0" opacity="0.85"/>
<ellipse cx="71" cy="764.61" rx="6.3" ry="5.1" fill="#fdeccf"/>
<ellipse cx="71" cy="764.61" rx="5.15" ry="4.2" fill="url(#lo)"/>
<rect x="68" y="763.86" width="6" height="1.5" rx="0.75" fill="#ffdc9c" opacity="0.85"/>
<ellipse cx="85.33" cy="764.7" rx="6.3" ry="5.1" fill="#fbe3e0"/>
<ellipse cx="85.33" cy="764.7" rx="5.15" ry="4.2" fill="url(#lr)"/>
<rect x="82.33" y="763.95" width="6" height="1.5" rx="0.75" fill="#ffd2d0" opacity="0.85"/>
<ellipse cx="99.65" cy="764.78" rx="6.3" ry="5.1" fill="#fdeccf"/>
<ellipse cx="99.65" cy="764.78" rx="5.15" ry="4.2" fill="url(#lo)"/>
<rect x="96.65" y="764.03" width="6" height="1.5" rx="0.75" fill="#ffdc9c" opacity="0.85"/>
<ellipse cx="113.98" cy="764.87" rx="6.3" ry="5.1" fill="#fbe3e0"/>
<ellipse cx="113.98" cy="764.87" rx="5.15" ry="4.2" fill="url(#lr)"/>
<rect x="110.98" y="764.12" width="6" height="1.5" rx="0.75" fill="#ffd2d0" opacity="0.85"/>
<ellipse cx="128.31" cy="764.96" rx="6.3" ry="5.1" fill="#fdeccf"/>
<ellipse cx="128.31" cy="764.96" rx="5.15" ry="4.2" fill="url(#lo)"/>
<rect x="125.31" y="764.21" width="6" height="1.5" rx="0.75" fill="#ffdc9c" opacity="0.85"/>
<ellipse cx="142.63" cy="765.04" rx="6.3" ry="5.1" fill="#fbe3e0"/>
<ellipse cx="142.63" cy="765.04" rx="5.15" ry="4.2" fill="url(#lr)"/>
<rect x="139.63" y="764.29" width="6" height="1.5" rx="0.75" fill="#ffd2d0" opacity="0.85"/>
<ellipse cx="156.96" cy="765.13" rx="6.3" ry="5.1" fill="#fdeccf"/>
<ellipse cx="156.96" cy="765.13" rx="5.15" ry="4.2" fill="url(#lo)"/>
<rect x="153.96" y="764.38" width="6" height="1.5" rx="0.75" fill="#ffdc9c" opacity="0.85"/>
<ellipse cx="42.32" cy="774.66" rx="6.3" ry="5.1" fill="#fbe3e0"/>
<ellipse cx="42.32" cy="774.66" rx="5.15" ry="4.2" fill="url(#lr)"/>
<rect x="39.32" y="773.91" width="6" height="1.5" rx="0.75" fill="#ffd2d0" opacity="0.85"/>
<ellipse cx="56.64" cy="774.7" rx="6.3" ry="5.1" fill="#fdeccf"/>
<ellipse cx="56.64" cy="774.7" rx="5.15" ry="4.2" fill="url(#lo)"/>
<rect x="53.64" y="773.95" width="6" height="1.5" rx="0.75" fill="#ffdc9c" opacity="0.85"/>
<ellipse cx="70.97" cy="774.73" rx="6.3" ry="5.1" fill="#fbe3e0"/>
<ellipse cx="70.97" cy="774.73" rx="5.15" ry="4.2" fill="url(#lr)"/>
<rect x="67.97" y="773.98" width="6" height="1.5" rx="0.75" fill="#ffd2d0" opacity="0.85"/>
<ellipse cx="85.3" cy="774.77" rx="6.3" ry="5.1" fill="#fdeccf"/>
<ellipse cx="85.3" cy="774.77" rx="5.15" ry="4.2" fill="url(#lo)"/>
<rect x="82.3" y="774.02" width="6" height="1.5" rx="0.75" fill="#ffdc9c" opacity="0.85"/>
<ellipse cx="99.63" cy="774.81" rx="6.3" ry="5.1" fill="#fbe3e0"/>
<ellipse cx="99.63" cy="774.81" rx="5.15" ry="4.2" fill="url(#lr)"/>
<rect x="96.63" y="774.06" width="6" height="1.5" rx="0.75" fill="#ffd2d0" opacity="0.85"/>
<ellipse cx="113.96" cy="774.85" rx="6.3" ry="5.1" fill="#fdeccf"/>
<ellipse cx="113.96" cy="774.85" rx="5.15" ry="4.2" fill="url(#lo)"/>
<rect x="110.96" y="774.1" width="6" height="1.5" rx="0.75" fill="#ffdc9c" opacity="0.85"/>
<ellipse cx="128.28" cy="774.88" rx="6.3" ry="5.1" fill="#fbe3e0"/>
<ellipse cx="128.28" cy="774.88" rx="5.15" ry="4.2" fill="url(#lr)"/>
<rect x="125.28" y="774.13" width="6" height="1.5" rx="0.75" fill="#ffd2d0" opacity="0.85"/>
<ellipse cx="142.61" cy="774.92" rx="6.3" ry="5.1" fill="#fdeccf"/>
<ellipse cx="142.61" cy="774.92" rx="5.15" ry="4.2" fill="url(#lo)"/>
<rect x="139.61" y="774.17" width="6" height="1.5" rx="0.75" fill="#ffdc9c" opacity="0.85"/>
<ellipse cx="156.94" cy="774.96" rx="6.3" ry="5.1" fill="#fbe3e0"/>
<ellipse cx="156.94" cy="774.96" rx="5.15" ry="4.2" fill="url(#lr)"/>
<rect x="153.94" y="774.21" width="6" height="1.5" rx="0.75" fill="#ffd2d0" opacity="0.85"/>
<ellipse cx="42.28" cy="784.88" rx="6.3" ry="5.1" fill="#fdeccf"/>
<ellipse cx="42.28" cy="784.88" rx="5.15" ry="4.2" fill="url(#lo)"/>
<rect x="39.28" y="784.13" width="6" height="1.5" rx="0.75" fill="#ffdc9c" opacity="0.85"/>
<ellipse cx="56.61" cy="784.87" rx="6.3" ry="5.1" fill="#fbe3e0"/>
<ellipse cx="56.61" cy="784.87" rx="5.15" ry="4.2" fill="url(#lr)"/>
<rect x="53.61" y="784.12" width="6" height="1.5" rx="0.75" fill="#ffd2d0" opacity="0.85"/>
<ellipse cx="70.94" cy="784.86" rx="6.3" ry="5.1" fill="#fdeccf"/>
<ellipse cx="70.94" cy="784.86" rx="5.15" ry="4.2" fill="url(#lo)"/>
<rect x="67.94" y="784.11" width="6" height="1.5" rx="0.75" fill="#ffdc9c" opacity="0.85"/>
<ellipse cx="85.27" cy="784.84" rx="6.3" ry="5.1" fill="#fbe3e0"/>
<ellipse cx="85.27" cy="784.84" rx="5.15" ry="4.2" fill="url(#lr)"/>
<rect x="82.27" y="784.09" width="6" height="1.5" rx="0.75" fill="#ffd2d0" opacity="0.85"/>
<ellipse cx="99.6" cy="784.83" rx="6.3" ry="5.1" fill="#fdeccf"/>
<ellipse cx="99.6" cy="784.83" rx="5.15" ry="4.2" fill="url(#lo)"/>
<rect x="96.6" y="784.08" width="6" height="1.5" rx="0.75" fill="#ffdc9c" opacity="0.85"/>
<ellipse cx="113.93" cy="784.82" rx="6.3" ry="5.1" fill="#fbe3e0"/>
<ellipse cx="113.93" cy="784.82" rx="5.15" ry="4.2" fill="url(#lr)"/>
<rect x="110.93" y="784.07" width="6" height="1.5" rx="0.75" fill="#ffd2d0" opacity="0.85"/>
<ellipse cx="128.26" cy="784.81" rx="6.3" ry="5.1" fill="#fdeccf"/>
<ellipse cx="128.26" cy="784.81" rx="5.15" ry="4.2" fill="url(#lo)"/>
<rect x="125.26" y="784.06" width="6" height="1.5" rx="0.75" fill="#ffdc9c" opacity="0.85"/>
<ellipse cx="142.59" cy="784.8" rx="6.3" ry="5.1" fill="#fbe3e0"/>
<ellipse cx="142.59" cy="784.8" rx="5.15" ry="4.2" fill="url(#lr)"/>
<rect x="139.59" y="784.05" width="6" height="1.5" rx="0.75" fill="#ffd2d0" opacity="0.85"/>
<ellipse cx="156.92" cy="784.79" rx="6.3" ry="5.1" fill="#fdeccf"/>
<ellipse cx="156.92" cy="784.79" rx="5.15" ry="4.2" fill="url(#lo)"/>
<rect x="153.92" y="784.04" width="6" height="1.5" rx="0.75" fill="#ffdc9c" opacity="0.85"/>
<ellipse cx="42.25" cy="795.09" rx="6.3" ry="5.1" fill="#fbe3e0"/>
<ellipse cx="42.25" cy="795.09" rx="5.15" ry="4.2" fill="url(#lr)"/>
<rect x="39.25" y="794.34" width="6" height="1.5" rx="0.75" fill="#ffd2d0" opacity="0.85"/>
<ellipse cx="56.58" cy="795.04" rx="6.3" ry="5.1" fill="#fdeccf"/>
<ellipse cx="56.58" cy="795.04" rx="5.15" ry="4.2" fill="url(#lo)"/>
<rect x="53.58" y="794.29" width="6" height="1.5" rx="0.75" fill="#ffdc9c" opacity="0.85"/>
<ellipse cx="70.91" cy="794.98" rx="6.3" ry="5.1" fill="#fbe3e0"/>
<ellipse cx="70.91" cy="794.98" rx="5.15" ry="4.2" fill="url(#lr)"/>
<rect x="67.91" y="794.23" width="6" height="1.5" rx="0.75" fill="#ffd2d0" opacity="0.85"/>
<ellipse cx="85.24" cy="794.92" rx="6.3" ry="5.1" fill="#fdeccf"/>
<ellipse cx="85.24" cy="794.92" rx="5.15" ry="4.2" fill="url(#lo)"/>
<rect x="82.24" y="794.17" width="6" height="1.5" rx="0.75" fill="#ffdc9c" opacity="0.85"/>
<ellipse cx="99.58" cy="794.86" rx="6.3" ry="5.1" fill="#fbe3e0"/>
<ellipse cx="99.58" cy="794.86" rx="5.15" ry="4.2" fill="url(#lr)"/>
<rect x="96.58" y="794.11" width="6" height="1.5" rx="0.75" fill="#ffd2d0" opacity="0.85"/>
<ellipse cx="113.91" cy="794.8" rx="6.3" ry="5.1" fill="#fdeccf"/>
<ellipse cx="113.91" cy="794.8" rx="5.15" ry="4.2" fill="url(#lo)"/>
<rect x="110.91" y="794.05" width="6" height="1.5" rx="0.75" fill="#ffdc9c" opacity="0.85"/>
<ellipse cx="128.24" cy="794.74" rx="6.3" ry="5.1" fill="#fbe3e0"/>
<ellipse cx="128.24" cy="794.74" rx="5.15" ry="4.2" fill="url(#lr)"/>
<rect x="125.24" y="793.99" width="6" height="1.5" rx="0.75" fill="#ffd2d0" opacity="0.85"/>
<ellipse cx="142.57" cy="794.68" rx="6.3" ry="5.1" fill="#fdeccf"/>
<ellipse cx="142.57" cy="794.68" rx="5.15" ry="4.2" fill="url(#lo)"/>
<rect x="139.57" y="793.93" width="6" height="1.5" rx="0.75" fill="#ffdc9c" opacity="0.85"/>
<ellipse cx="156.91" cy="794.62" rx="6.3" ry="5.1" fill="#fbe3e0"/>
<ellipse cx="156.91" cy="794.62" rx="5.15" ry="4.2" fill="url(#lr)"/>
<rect x="153.91" y="793.87" width="6" height="1.5" rx="0.75" fill="#ffd2d0" opacity="0.85"/>
<ellipse cx="42.21" cy="805.31" rx="6.3" ry="5.1" fill="#fdeccf"/>
<ellipse cx="42.21" cy="805.31" rx="5.15" ry="4.2" fill="url(#lo)"/>
<rect x="39.21" y="804.56" width="6" height="1.5" rx="0.75" fill="#ffdc9c" opacity="0.85"/>
<ellipse cx="56.54" cy="805.2" rx="6.3" ry="5.1" fill="#fbe3e0"/>
<ellipse cx="56.54" cy="805.2" rx="5.15" ry="4.2" fill="url(#lr)"/>
<rect x="53.54" y="804.45" width="6" height="1.5" rx="0.75" fill="#ffd2d0" opacity="0.85"/>
<ellipse cx="70.88" cy="805.1" rx="6.3" ry="5.1" fill="#fdeccf"/>
<ellipse cx="70.88" cy="805.1" rx="5.15" ry="4.2" fill="url(#lo)"/>
<rect x="67.88" y="804.35" width="6" height="1.5" rx="0.75" fill="#ffdc9c" opacity="0.85"/>
<ellipse cx="85.21" cy="804.99" rx="6.3" ry="5.1" fill="#fbe3e0"/>
<ellipse cx="85.21" cy="804.99" rx="5.15" ry="4.2" fill="url(#lr)"/>
<rect x="82.21" y="804.24" width="6" height="1.5" rx="0.75" fill="#ffd2d0" opacity="0.85"/>
<ellipse cx="99.55" cy="804.88" rx="6.3" ry="5.1" fill="#fdeccf"/>
<ellipse cx="99.55" cy="804.88" rx="5.15" ry="4.2" fill="url(#lo)"/>
<rect x="96.55" y="804.13" width="6" height="1.5" rx="0.75" fill="#ffdc9c" opacity="0.85"/>
<ellipse cx="113.88" cy="804.78" rx="6.3" ry="5.1" fill="#fbe3e0"/>
<ellipse cx="113.88" cy="804.78" rx="5.15" ry="4.2" fill="url(#lr)"/>
<rect x="110.88" y="804.03" width="6" height="1.5" rx="0.75" fill="#ffd2d0" opacity="0.85"/>
<ellipse cx="128.22" cy="804.67" rx="6.3" ry="5.1" fill="#fdeccf"/>
<ellipse cx="128.22" cy="804.67" rx="5.15" ry="4.2" fill="url(#lo)"/>
<rect x="125.22" y="803.92" width="6" height="1.5" rx="0.75" fill="#ffdc9c" opacity="0.85"/>
<ellipse cx="142.55" cy="804.56" rx="6.3" ry="5.1" fill="#fbe3e0"/>
<ellipse cx="142.55" cy="804.56" rx="5.15" ry="4.2" fill="url(#lr)"/>
<rect x="139.55" y="803.81" width="6" height="1.5" rx="0.75" fill="#ffd2d0" opacity="0.85"/>
<ellipse cx="156.89" cy="804.45" rx="6.3" ry="5.1" fill="#fdeccf"/>
<ellipse cx="156.89" cy="804.45" rx="5.15" ry="4.2" fill="url(#lo)"/>
<rect x="153.89" y="803.7" width="6" height="1.5" rx="0.75" fill="#ffdc9c" opacity="0.85"/>
<ellipse cx="42.17" cy="815.53" rx="6.3" ry="5.1" fill="#fbe3e0"/>
<ellipse cx="42.17" cy="815.53" rx="5.15" ry="4.2" fill="url(#lr)"/>
<rect x="39.17" y="814.78" width="6" height="1.5" rx="0.75" fill="#ffd2d0" opacity="0.85"/>
<ellipse cx="56.51" cy="815.37" rx="6.3" ry="5.1" fill="#fdeccf"/>
<ellipse cx="56.51" cy="815.37" rx="5.15" ry="4.2" fill="url(#lo)"/>
<rect x="53.51" y="814.62" width="6" height="1.5" rx="0.75" fill="#ffdc9c" opacity="0.85"/>
<ellipse cx="70.85" cy="815.22" rx="6.3" ry="5.1" fill="#fbe3e0"/>
<ellipse cx="70.85" cy="815.22" rx="5.15" ry="4.2" fill="url(#lr)"/>
<rect x="67.85" y="814.47" width="6" height="1.5" rx="0.75" fill="#ffd2d0" opacity="0.85"/>
<ellipse cx="85.19" cy="815.06" rx="6.3" ry="5.1" fill="#fdeccf"/>
<ellipse cx="85.19" cy="815.06" rx="5.15" ry="4.2" fill="url(#lo)"/>
<rect x="82.19" y="814.31" width="6" height="1.5" rx="0.75" fill="#ffdc9c" opacity="0.85"/>
<ellipse cx="99.52" cy="814.91" rx="6.3" ry="5.1" fill="#fbe3e0"/>
<ellipse cx="99.52" cy="814.91" rx="5.15" ry="4.2" fill="url(#lr)"/>
<rect x="96.52" y="814.16" width="6" height="1.5" rx="0.75" fill="#ffd2d0" opacity="0.85"/>
<ellipse cx="113.86" cy="814.75" rx="6.3" ry="5.1" fill="#fdeccf"/>
<ellipse cx="113.86" cy="814.75" rx="5.15" ry="4.2" fill="url(#lo)"/>
<rect x="110.86" y="814" width="6" height="1.5" rx="0.75" fill="#ffdc9c" opacity="0.85"/>
<ellipse cx="128.2" cy="814.6" rx="6.3" ry="5.1" fill="#fbe3e0"/>
<ellipse cx="128.2" cy="814.6" rx="5.15" ry="4.2" fill="url(#lr)"/>
<rect x="125.2" y="813.85" width="6" height="1.5" rx="0.75" fill="#ffd2d0" opacity="0.85"/>
<ellipse cx="142.53" cy="814.44" rx="6.3" ry="5.1" fill="#fdeccf"/>
<ellipse cx="142.53" cy="814.44" rx="5.15" ry="4.2" fill="url(#lo)"/>
<rect x="139.53" y="813.69" width="6" height="1.5" rx="0.75" fill="#ffdc9c" opacity="0.85"/>
<ellipse cx="156.87" cy="814.29" rx="6.3" ry="5.1" fill="#fbe3e0"/>
<ellipse cx="156.87" cy="814.29" rx="5.15" ry="4.2" fill="url(#lr)"/>
<rect x="153.87" y="813.54" width="6" height="1.5" rx="0.75" fill="#ffd2d0" opacity="0.85"/>
<ellipse cx="42.14" cy="825.75" rx="6.3" ry="5.1" fill="#fdeccf"/>
<ellipse cx="42.14" cy="825.75" rx="5.15" ry="4.2" fill="url(#lo)"/>
<rect x="39.14" y="825" width="6" height="1.5" rx="0.75" fill="#ffdc9c" opacity="0.85"/>
<ellipse cx="56.48" cy="825.54" rx="6.3" ry="5.1" fill="#fbe3e0"/>
<ellipse cx="56.48" cy="825.54" rx="5.15" ry="4.2" fill="url(#lr)"/>
<rect x="53.48" y="824.79" width="6" height="1.5" rx="0.75" fill="#ffd2d0" opacity="0.85"/>
<ellipse cx="70.82" cy="825.34" rx="6.3" ry="5.1" fill="#fdeccf"/>
<ellipse cx="70.82" cy="825.34" rx="5.15" ry="4.2" fill="url(#lo)"/>
<rect x="67.82" y="824.59" width="6" height="1.5" rx="0.75" fill="#ffdc9c" opacity="0.85"/>
<ellipse cx="85.16" cy="825.14" rx="6.3" ry="5.1" fill="#fbe3e0"/>
<ellipse cx="85.16" cy="825.14" rx="5.15" ry="4.2" fill="url(#lr)"/>
<rect x="82.16" y="824.39" width="6" height="1.5" rx="0.75" fill="#ffd2d0" opacity="0.85"/>
<ellipse cx="99.5" cy="824.93" rx="6.3" ry="5.1" fill="#fdeccf"/>
<ellipse cx="99.5" cy="824.93" rx="5.15" ry="4.2" fill="url(#lo)"/>
<rect x="96.5" y="824.18" width="6" height="1.5" rx="0.75" fill="#ffdc9c" opacity="0.85"/>
<ellipse cx="113.84" cy="824.73" rx="6.3" ry="5.1" fill="#fbe3e0"/>
<ellipse cx="113.84" cy="824.73" rx="5.15" ry="4.2" fill="url(#lr)"/>
<rect x="110.84" y="823.98" width="6" height="1.5" rx="0.75" fill="#ffd2d0" opacity="0.85"/>
<ellipse cx="128.18" cy="824.53" rx="6.3" ry="5.1" fill="#fdeccf"/>
<ellipse cx="128.18" cy="824.53" rx="5.15" ry="4.2" fill="url(#lo)"/>
<rect x="125.18" y="823.78" width="6" height="1.5" rx="0.75" fill="#ffdc9c" opacity="0.85"/>
<ellipse cx="142.52" cy="824.32" rx="6.3" ry="5.1" fill="#fbe3e0"/>
<ellipse cx="142.52" cy="824.32" rx="5.15" ry="4.2" fill="url(#lr)"/>
<rect x="139.52" y="823.57" width="6" height="1.5" rx="0.75" fill="#ffd2d0" opacity="0.85"/>
<ellipse cx="156.85" cy="824.12" rx="6.3" ry="5.1" fill="#fdeccf"/>
<ellipse cx="156.85" cy="824.12" rx="5.15" ry="4.2" fill="url(#lo)"/>
<rect x="153.85" y="823.37" width="6" height="1.5" rx="0.75" fill="#ffdc9c" opacity="0.85"/>
<ellipse cx="42.1" cy="835.96" rx="6.3" ry="5.1" fill="#fbe3e0"/>
<ellipse cx="42.1" cy="835.96" rx="5.15" ry="4.2" fill="url(#lr)"/>
<rect x="39.1" y="835.21" width="6" height="1.5" rx="0.75" fill="#ffd2d0" opacity="0.85"/>
<ellipse cx="56.44" cy="835.71" rx="6.3" ry="5.1" fill="#fdeccf"/>
<ellipse cx="56.44" cy="835.71" rx="5.15" ry="4.2" fill="url(#lo)"/>
<rect x="53.44" y="834.96" width="6" height="1.5" rx="0.75" fill="#ffdc9c" opacity="0.85"/>
<ellipse cx="70.79" cy="835.46" rx="6.3" ry="5.1" fill="#fbe3e0"/>
<ellipse cx="70.79" cy="835.46" rx="5.15" ry="4.2" fill="url(#lr)"/>
<rect x="67.79" y="834.71" width="6" height="1.5" rx="0.75" fill="#ffd2d0" opacity="0.85"/>
<ellipse cx="85.13" cy="835.21" rx="6.3" ry="5.1" fill="#fdeccf"/>
<ellipse cx="85.13" cy="835.21" rx="5.15" ry="4.2" fill="url(#lo)"/>
<rect x="82.13" y="834.46" width="6" height="1.5" rx="0.75" fill="#ffdc9c" opacity="0.85"/>
<ellipse cx="99.47" cy="834.96" rx="6.3" ry="5.1" fill="#fbe3e0"/>
<ellipse cx="99.47" cy="834.96" rx="5.15" ry="4.2" fill="url(#lr)"/>
<rect x="96.47" y="834.21" width="6" height="1.5" rx="0.75" fill="#ffd2d0" opacity="0.85"/>
<ellipse cx="113.81" cy="834.71" rx="6.3" ry="5.1" fill="#fdeccf"/>
<ellipse cx="113.81" cy="834.71" rx="5.15" ry="4.2" fill="url(#lo)"/>
<rect x="110.81" y="833.96" width="6" height="1.5" rx="0.75" fill="#ffdc9c" opacity="0.85"/>
<ellipse cx="128.15" cy="834.45" rx="6.3" ry="5.1" fill="#fbe3e0"/>
<ellipse cx="128.15" cy="834.45" rx="5.15" ry="4.2" fill="url(#lr)"/>
<rect x="125.15" y="833.7" width="6" height="1.5" rx="0.75" fill="#ffd2d0" opacity="0.85"/>
<ellipse cx="142.5" cy="834.2" rx="6.3" ry="5.1" fill="#fdeccf"/>
<ellipse cx="142.5" cy="834.2" rx="5.15" ry="4.2" fill="url(#lo)"/>
<rect x="139.5" y="833.45" width="6" height="1.5" rx="0.75" fill="#ffdc9c" opacity="0.85"/>
<ellipse cx="156.84" cy="833.95" rx="6.3" ry="5.1" fill="#fbe3e0"/>
<ellipse cx="156.84" cy="833.95" rx="5.15" ry="4.2" fill="url(#lr)"/>
<rect x="153.84" y="833.2" width="6" height="1.5" rx="0.75" fill="#ffd2d0" opacity="0.85"/>
<ellipse cx="42.07" cy="846.18" rx="6.3" ry="5.1" fill="#fdeccf"/>
<ellipse cx="42.07" cy="846.18" rx="5.15" ry="4.2" fill="url(#lo)"/>
<rect x="39.07" y="845.43" width="6" height="1.5" rx="0.75" fill="#ffdc9c" opacity="0.85"/>
<ellipse cx="56.41" cy="845.88" rx="6.3" ry="5.1" fill="#fbe3e0"/>
<ellipse cx="56.41" cy="845.88" rx="5.15" ry="4.2" fill="url(#lr)"/>
<rect x="53.41" y="845.13" width="6" height="1.5" rx="0.75" fill="#ffd2d0" opacity="0.85"/>
<ellipse cx="70.75" cy="845.58" rx="6.3" ry="5.1" fill="#fdeccf"/>
<ellipse cx="70.75" cy="845.58" rx="5.15" ry="4.2" fill="url(#lo)"/>
<rect x="67.75" y="844.83" width="6" height="1.5" rx="0.75" fill="#ffdc9c" opacity="0.85"/>
<ellipse cx="85.1" cy="845.28" rx="6.3" ry="5.1" fill="#fbe3e0"/>
<ellipse cx="85.1" cy="845.28" rx="5.15" ry="4.2" fill="url(#lr)"/>
<rect x="82.1" y="844.53" width="6" height="1.5" rx="0.75" fill="#ffd2d0" opacity="0.85"/>
<ellipse cx="99.44" cy="844.98" rx="6.3" ry="5.1" fill="#fdeccf"/>
<ellipse cx="99.44" cy="844.98" rx="5.15" ry="4.2" fill="url(#lo)"/>
<rect x="96.44" y="844.23" width="6" height="1.5" rx="0.75" fill="#ffdc9c" opacity="0.85"/>
<ellipse cx="113.79" cy="844.68" rx="6.3" ry="5.1" fill="#fbe3e0"/>
<ellipse cx="113.79" cy="844.68" rx="5.15" ry="4.2" fill="url(#lr)"/>
<rect x="110.79" y="843.93" width="6" height="1.5" rx="0.75" fill="#ffd2d0" opacity="0.85"/>
<ellipse cx="128.13" cy="844.38" rx="6.3" ry="5.1" fill="#fdeccf"/>
<ellipse cx="128.13" cy="844.38" rx="5.15" ry="4.2" fill="url(#lo)"/>
<rect x="125.13" y="843.63" width="6" height="1.5" rx="0.75" fill="#ffdc9c" opacity="0.85"/>
<ellipse cx="142.48" cy="844.08" rx="6.3" ry="5.1" fill="#fbe3e0"/>
<ellipse cx="142.48" cy="844.08" rx="5.15" ry="4.2" fill="url(#lr)"/>
<rect x="139.48" y="843.33" width="6" height="1.5" rx="0.75" fill="#ffd2d0" opacity="0.85"/>
<ellipse cx="156.82" cy="843.78" rx="6.3" ry="5.1" fill="#fdeccf"/>
<ellipse cx="156.82" cy="843.78" rx="5.15" ry="4.2" fill="url(#lo)"/>
<rect x="153.82" y="843.03" width="6" height="1.5" rx="0.75" fill="#ffdc9c" opacity="0.85"/>
<ellipse cx="42.03" cy="856.4" rx="6.3" ry="5.1" fill="#fbe3e0"/>
<ellipse cx="42.03" cy="856.4" rx="5.15" ry="4.2" fill="url(#lr)"/>
<rect x="39.03" y="855.65" width="6" height="1.5" rx="0.75" fill="#ffd2d0" opacity="0.85"/>
<ellipse cx="56.38" cy="856.05" rx="6.3" ry="5.1" fill="#fdeccf"/>
<ellipse cx="56.38" cy="856.05" rx="5.15" ry="4.2" fill="url(#lo)"/>
<rect x="53.38" y="855.3" width="6" height="1.5" rx="0.75" fill="#ffdc9c" opacity="0.85"/>
<ellipse cx="70.72" cy="855.7" rx="6.3" ry="5.1" fill="#fbe3e0"/>
<ellipse cx="70.72" cy="855.7" rx="5.15" ry="4.2" fill="url(#lr)"/>
<rect x="67.72" y="854.95" width="6" height="1.5" rx="0.75" fill="#ffd2d0" opacity="0.85"/>
<ellipse cx="85.07" cy="855.35" rx="6.3" ry="5.1" fill="#fdeccf"/>
<ellipse cx="85.07" cy="855.35" rx="5.15" ry="4.2" fill="url(#lo)"/>
<rect x="82.07" y="854.6" width="6" height="1.5" rx="0.75" fill="#ffdc9c" opacity="0.85"/>
<ellipse cx="99.42" cy="855.01" rx="6.3" ry="5.1" fill="#fbe3e0"/>
<ellipse cx="99.42" cy="855.01" rx="5.15" ry="4.2" fill="url(#lr)"/>
<rect x="96.42" y="854.26" width="6" height="1.5" rx="0.75" fill="#ffd2d0" opacity="0.85"/>
<ellipse cx="113.76" cy="854.66" rx="6.3" ry="5.1" fill="#fdeccf"/>
<ellipse cx="113.76" cy="854.66" rx="5.15" ry="4.2" fill="url(#lo)"/>
<rect x="110.76" y="853.91" width="6" height="1.5" rx="0.75" fill="#ffdc9c" opacity="0.85"/>
<ellipse cx="128.11" cy="854.31" rx="6.3" ry="5.1" fill="#fbe3e0"/>
<ellipse cx="128.11" cy="854.31" rx="5.15" ry="4.2" fill="url(#lr)"/>
<rect x="125.11" y="853.56" width="6" height="1.5" rx="0.75" fill="#ffd2d0" opacity="0.85"/>
<ellipse cx="142.46" cy="853.96" rx="6.3" ry="5.1" fill="#fdeccf"/>
<ellipse cx="142.46" cy="853.96" rx="5.15" ry="4.2" fill="url(#lo)"/>
<rect x="139.46" y="853.21" width="6" height="1.5" rx="0.75" fill="#ffdc9c" opacity="0.85"/>
<ellipse cx="156.8" cy="853.62" rx="6.3" ry="5.1" fill="#fbe3e0"/>
<ellipse cx="156.8" cy="853.62" rx="5.15" ry="4.2" fill="url(#lr)"/>
<rect x="153.8" y="852.87" width="6" height="1.5" rx="0.75" fill="#ffd2d0" opacity="0.85"/>
<ellipse cx="41.99" cy="866.61" rx="6.3" ry="5.1" fill="#fdeccf"/>
<ellipse cx="41.99" cy="866.61" rx="5.15" ry="4.2" fill="url(#lo)"/>
<rect x="38.99" y="865.86" width="6" height="1.5" rx="0.75" fill="#ffdc9c" opacity="0.85"/>
<ellipse cx="56.34" cy="866.22" rx="6.3" ry="5.1" fill="#fbe3e0"/>
<ellipse cx="56.34" cy="866.22" rx="5.15" ry="4.2" fill="url(#lr)"/>
<rect x="53.34" y="865.47" width="6" height="1.5" rx="0.75" fill="#ffd2d0" opacity="0.85"/>
<ellipse cx="70.69" cy="865.82" rx="6.3" ry="5.1" fill="#fdeccf"/>
<ellipse cx="70.69" cy="865.82" rx="5.15" ry="4.2" fill="url(#lo)"/>
<rect x="67.69" y="865.07" width="6" height="1.5" rx="0.75" fill="#ffdc9c" opacity="0.85"/>
<ellipse cx="85.04" cy="865.43" rx="6.3" ry="5.1" fill="#fbe3e0"/>
<ellipse cx="85.04" cy="865.43" rx="5.15" ry="4.2" fill="url(#lr)"/>
<rect x="82.04" y="864.68" width="6" height="1.5" rx="0.75" fill="#ffd2d0" opacity="0.85"/>
<ellipse cx="99.39" cy="865.03" rx="6.3" ry="5.1" fill="#fdeccf"/>
<ellipse cx="99.39" cy="865.03" rx="5.15" ry="4.2" fill="url(#lo)"/>
<rect x="96.39" y="864.28" width="6" height="1.5" rx="0.75" fill="#ffdc9c" opacity="0.85"/>
<ellipse cx="113.74" cy="864.63" rx="6.3" ry="5.1" fill="#fbe3e0"/>
<ellipse cx="113.74" cy="864.63" rx="5.15" ry="4.2" fill="url(#lr)"/>
<rect x="110.74" y="863.88" width="6" height="1.5" rx="0.75" fill="#ffd2d0" opacity="0.85"/>
<ellipse cx="128.09" cy="864.24" rx="6.3" ry="5.1" fill="#fdeccf"/>
<ellipse cx="128.09" cy="864.24" rx="5.15" ry="4.2" fill="url(#lo)"/>
<rect x="125.09" y="863.49" width="6" height="1.5" rx="0.75" fill="#ffdc9c" opacity="0.85"/>
<ellipse cx="142.44" cy="863.84" rx="6.3" ry="5.1" fill="#fbe3e0"/>
<ellipse cx="142.44" cy="863.84" rx="5.15" ry="4.2" fill="url(#lr)"/>
<rect x="139.44" y="863.09" width="6" height="1.5" rx="0.75" fill="#ffd2d0" opacity="0.85"/>
<ellipse cx="156.79" cy="863.45" rx="6.3" ry="5.1" fill="#fdeccf"/>
<ellipse cx="156.79" cy="863.45" rx="5.15" ry="4.2" fill="url(#lo)"/>
<rect x="153.79" y="862.7" width="6" height="1.5" rx="0.75" fill="#ffdc9c" opacity="0.85"/>
<ellipse cx="41.96" cy="876.83" rx="6.3" ry="5.1" fill="#fbe3e0"/>
<ellipse cx="41.96" cy="876.83" rx="5.15" ry="4.2" fill="url(#lr)"/>
<rect x="38.96" y="876.08" width="6" height="1.5" rx="0.75" fill="#ffd2d0" opacity="0.85"/>
<ellipse cx="56.31" cy="876.39" rx="6.3" ry="5.1" fill="#fdeccf"/>
<ellipse cx="56.31" cy="876.39" rx="5.15" ry="4.2" fill="url(#lo)"/>
<rect x="53.31" y="875.64" width="6" height="1.5" rx="0.75" fill="#ffdc9c" opacity="0.85"/>
<ellipse cx="70.66" cy="875.94" rx="6.3" ry="5.1" fill="#fbe3e0"/>
<ellipse cx="70.66" cy="875.94" rx="5.15" ry="4.2" fill="url(#lr)"/>
<rect x="67.66" y="875.19" width="6" height="1.5" rx="0.75" fill="#ffd2d0" opacity="0.85"/>
<ellipse cx="85.01" cy="875.5" rx="6.3" ry="5.1" fill="#fdeccf"/>
<ellipse cx="85.01" cy="875.5" rx="5.15" ry="4.2" fill="url(#lo)"/>
<rect x="82.01" y="874.75" width="6" height="1.5" rx="0.75" fill="#ffdc9c" opacity="0.85"/>
<ellipse cx="99.36" cy="875.05" rx="6.3" ry="5.1" fill="#fbe3e0"/>
<ellipse cx="99.36" cy="875.05" rx="5.15" ry="4.2" fill="url(#lr)"/>
<rect x="96.36" y="874.3" width="6" height="1.5" rx="0.75" fill="#ffd2d0" opacity="0.85"/>
<ellipse cx="113.72" cy="874.61" rx="6.3" ry="5.1" fill="#fdeccf"/>
<ellipse cx="113.72" cy="874.61" rx="5.15" ry="4.2" fill="url(#lo)"/>
<rect x="110.72" y="873.86" width="6" height="1.5" rx="0.75" fill="#ffdc9c" opacity="0.85"/>
<ellipse cx="128.07" cy="874.17" rx="6.3" ry="5.1" fill="#fbe3e0"/>
<ellipse cx="128.07" cy="874.17" rx="5.15" ry="4.2" fill="url(#lr)"/>
<rect x="125.07" y="873.42" width="6" height="1.5" rx="0.75" fill="#ffd2d0" opacity="0.85"/>
<ellipse cx="142.42" cy="873.72" rx="6.3" ry="5.1" fill="#fdeccf"/>
<ellipse cx="142.42" cy="873.72" rx="5.15" ry="4.2" fill="url(#lo)"/>
<rect x="139.42" y="872.97" width="6" height="1.5" rx="0.75" fill="#ffdc9c" opacity="0.85"/>
<ellipse cx="156.77" cy="873.28" rx="6.3" ry="5.1" fill="#fbe3e0"/>
<ellipse cx="156.77" cy="873.28" rx="5.15" ry="4.2" fill="url(#lr)"/>
<rect x="153.77" y="872.53" width="6" height="1.5" rx="0.75" fill="#ffd2d0" opacity="0.85"/>
<ellipse cx="41.92" cy="887.05" rx="6.3" ry="5.1" fill="#fdeccf"/>
<ellipse cx="41.92" cy="887.05" rx="5.15" ry="4.2" fill="url(#lo)"/>
<rect x="38.92" y="886.3" width="6" height="1.5" rx="0.75" fill="#ffdc9c" opacity="0.85"/>
<ellipse cx="56.28" cy="886.56" rx="6.3" ry="5.1" fill="#fbe3e0"/>
<ellipse cx="56.28" cy="886.56" rx="5.15" ry="4.2" fill="url(#lr)"/>
<rect x="53.28" y="885.81" width="6" height="1.5" rx="0.75" fill="#ffd2d0" opacity="0.85"/>
<ellipse cx="70.63" cy="886.06" rx="6.3" ry="5.1" fill="#fdeccf"/>
<ellipse cx="70.63" cy="886.06" rx="5.15" ry="4.2" fill="url(#lo)"/>
<rect x="67.63" y="885.31" width="6" height="1.5" rx="0.75" fill="#ffdc9c" opacity="0.85"/>
<ellipse cx="84.98" cy="885.57" rx="6.3" ry="5.1" fill="#fbe3e0"/>
<ellipse cx="84.98" cy="885.57" rx="5.15" ry="4.2" fill="url(#lr)"/>
<rect x="81.98" y="884.82" width="6" height="1.5" rx="0.75" fill="#ffd2d0" opacity="0.85"/>
<ellipse cx="99.34" cy="885.08" rx="6.3" ry="5.1" fill="#fdeccf"/>
<ellipse cx="99.34" cy="885.08" rx="5.15" ry="4.2" fill="url(#lo)"/>
<rect x="96.34" y="884.33" width="6" height="1.5" rx="0.75" fill="#ffdc9c" opacity="0.85"/>
<ellipse cx="113.69" cy="884.59" rx="6.3" ry="5.1" fill="#fbe3e0"/>
<ellipse cx="113.69" cy="884.59" rx="5.15" ry="4.2" fill="url(#lr)"/>
<rect x="110.69" y="883.84" width="6" height="1.5" rx="0.75" fill="#ffd2d0" opacity="0.85"/>
<ellipse cx="128.05" cy="884.1" rx="6.3" ry="5.1" fill="#fdeccf"/>
<ellipse cx="128.05" cy="884.1" rx="5.15" ry="4.2" fill="url(#lo)"/>
<rect x="125.05" y="883.35" width="6" height="1.5" rx="0.75" fill="#ffdc9c" opacity="0.85"/>
<ellipse cx="142.4" cy="883.6" rx="6.3" ry="5.1" fill="#fbe3e0"/>
<ellipse cx="142.4" cy="883.6" rx="5.15" ry="4.2" fill="url(#lr)"/>
<rect x="139.4" y="882.85" width="6" height="1.5" rx="0.75" fill="#ffd2d0" opacity="0.85"/>
<ellipse cx="156.75" cy="883.11" rx="6.3" ry="5.1" fill="#fdeccf"/>
<ellipse cx="156.75" cy="883.11" rx="5.15" ry="4.2" fill="url(#lo)"/>
<rect x="153.75" y="882.36" width="6" height="1.5" rx="0.75" fill="#ffdc9c" opacity="0.85"/>
<ellipse cx="41.89" cy="897.26" rx="6.3" ry="5.1" fill="#fbe3e0"/>
<ellipse cx="41.89" cy="897.26" rx="5.15" ry="4.2" fill="url(#lr)"/>
<rect x="38.89" y="896.51" width="6" height="1.5" rx="0.75" fill="#ffd2d0" opacity="0.85"/>
<ellipse cx="56.24" cy="896.72" rx="6.3" ry="5.1" fill="#fdeccf"/>
<ellipse cx="56.24" cy="896.72" rx="5.15" ry="4.2" fill="url(#lo)"/>
<rect x="53.24" y="895.97" width="6" height="1.5" rx="0.75" fill="#ffdc9c" opacity="0.85"/>
<ellipse cx="70.6" cy="896.18" rx="6.3" ry="5.1" fill="#fbe3e0"/>
<ellipse cx="70.6" cy="896.18" rx="5.15" ry="4.2" fill="url(#lr)"/>
<rect x="67.6" y="895.43" width="6" height="1.5" rx="0.75" fill="#ffd2d0" opacity="0.85"/>
<ellipse cx="84.96" cy="895.64" rx="6.3" ry="5.1" fill="#fdeccf"/>
<ellipse cx="84.96" cy="895.64" rx="5.15" ry="4.2" fill="url(#lo)"/>
<rect x="81.96" y="894.89" width="6" height="1.5" rx="0.75" fill="#ffdc9c" opacity="0.85"/>
<ellipse cx="99.31" cy="895.1" rx="6.3" ry="5.1" fill="#fbe3e0"/>
<ellipse cx="99.31" cy="895.1" rx="5.15" ry="4.2" fill="url(#lr)"/>
<rect x="96.31" y="894.35" width="6" height="1.5" rx="0.75" fill="#ffd2d0" opacity="0.85"/>
<ellipse cx="113.67" cy="894.56" rx="6.3" ry="5.1" fill="#fdeccf"/>
<ellipse cx="113.67" cy="894.56" rx="5.15" ry="4.2" fill="url(#lo)"/>
<rect x="110.67" y="893.81" width="6" height="1.5" rx="0.75" fill="#ffdc9c" opacity="0.85"/>
<ellipse cx="128.02" cy="894.02" rx="6.3" ry="5.1" fill="#fbe3e0"/>
<ellipse cx="128.02" cy="894.02" rx="5.15" ry="4.2" fill="url(#lr)"/>
<rect x="125.02" y="893.27" width="6" height="1.5" rx="0.75" fill="#ffd2d0" opacity="0.85"/>
<ellipse cx="142.38" cy="893.48" rx="6.3" ry="5.1" fill="#fdeccf"/>
<ellipse cx="142.38" cy="893.48" rx="5.15" ry="4.2" fill="url(#lo)"/>
<rect x="139.38" y="892.73" width="6" height="1.5" rx="0.75" fill="#ffdc9c" opacity="0.85"/>
<ellipse cx="156.74" cy="892.94" rx="6.3" ry="5.1" fill="#fbe3e0"/>
<ellipse cx="156.74" cy="892.94" rx="5.15" ry="4.2" fill="url(#lr)"/>
<rect x="153.74" y="892.19" width="6" height="1.5" rx="0.75" fill="#ffd2d0" opacity="0.85"/>
<ellipse cx="41.85" cy="907.48" rx="6.3" ry="5.1" fill="#fdeccf"/>
<ellipse cx="41.85" cy="907.48" rx="5.15" ry="4.2" fill="url(#lo)"/>
<rect x="38.85" y="906.73" width="6" height="1.5" rx="0.75" fill="#ffdc9c" opacity="0.85"/>
<ellipse cx="56.21" cy="906.89" rx="6.3" ry="5.1" fill="#fbe3e0"/>
<ellipse cx="56.21" cy="906.89" rx="5.15" ry="4.2" fill="url(#lr)"/>
<rect x="53.21" y="906.14" width="6" height="1.5" rx="0.75" fill="#ffd2d0" opacity="0.85"/>
<ellipse cx="70.57" cy="906.3" rx="6.3" ry="5.1" fill="#fdeccf"/>
<ellipse cx="70.57" cy="906.3" rx="5.15" ry="4.2" fill="url(#lo)"/>
<rect x="67.57" y="905.55" width="6" height="1.5" rx="0.75" fill="#ffdc9c" opacity="0.85"/>
<ellipse cx="84.93" cy="905.72" rx="6.3" ry="5.1" fill="#fbe3e0"/>
<ellipse cx="84.93" cy="905.72" rx="5.15" ry="4.2" fill="url(#lr)"/>
<rect x="81.93" y="904.97" width="6" height="1.5" rx="0.75" fill="#ffd2d0" opacity="0.85"/>
<ellipse cx="99.28" cy="905.13" rx="6.3" ry="5.1" fill="#fdeccf"/>
<ellipse cx="99.28" cy="905.13" rx="5.15" ry="4.2" fill="url(#lo)"/>
<rect x="96.28" y="904.38" width="6" height="1.5" rx="0.75" fill="#ffdc9c" opacity="0.85"/>
<ellipse cx="113.64" cy="904.54" rx="6.3" ry="5.1" fill="#fbe3e0"/>
<ellipse cx="113.64" cy="904.54" rx="5.15" ry="4.2" fill="url(#lr)"/>
<rect x="110.64" y="903.79" width="6" height="1.5" rx="0.75" fill="#ffd2d0" opacity="0.85"/>
<ellipse cx="128" cy="903.95" rx="6.3" ry="5.1" fill="#fdeccf"/>
<ellipse cx="128" cy="903.95" rx="5.15" ry="4.2" fill="url(#lo)"/>
<rect x="125" y="903.2" width="6" height="1.5" rx="0.75" fill="#ffdc9c" opacity="0.85"/>
<ellipse cx="142.36" cy="903.36" rx="6.3" ry="5.1" fill="#fbe3e0"/>
<ellipse cx="142.36" cy="903.36" rx="5.15" ry="4.2" fill="url(#lr)"/>
<rect x="139.36" y="902.61" width="6" height="1.5" rx="0.75" fill="#ffd2d0" opacity="0.85"/>
<ellipse cx="156.72" cy="902.78" rx="6.3" ry="5.1" fill="#fdeccf"/>
<ellipse cx="156.72" cy="902.78" rx="5.15" ry="4.2" fill="url(#lo)"/>
<rect x="153.72" y="902.03" width="6" height="1.5" rx="0.75" fill="#ffdc9c" opacity="0.85"/>
<ellipse cx="41.82" cy="917.7" rx="6.3" ry="5.1" fill="#fbe3e0"/>
<ellipse cx="41.82" cy="917.7" rx="5.15" ry="4.2" fill="url(#lr)"/>
<rect x="38.82" y="916.95" width="6" height="1.5" rx="0.75" fill="#ffd2d0" opacity="0.85"/>
<ellipse cx="56.18" cy="917.06" rx="6.3" ry="5.1" fill="#fdeccf"/>
<ellipse cx="56.18" cy="917.06" rx="5.15" ry="4.2" fill="url(#lo)"/>
<rect x="53.18" y="916.31" width="6" height="1.5" rx="0.75" fill="#ffdc9c" opacity="0.85"/>
<ellipse cx="70.54" cy="916.43" rx="6.3" ry="5.1" fill="#fbe3e0"/>
<ellipse cx="70.54" cy="916.43" rx="5.15" ry="4.2" fill="url(#lr)"/>
<rect x="67.54" y="915.68" width="6" height="1.5" rx="0.75" fill="#ffd2d0" opacity="0.85"/>
<ellipse cx="84.9" cy="915.79" rx="6.3" ry="5.1" fill="#fdeccf"/>
<ellipse cx="84.9" cy="915.79" rx="5.15" ry="4.2" fill="url(#lo)"/>
<rect x="81.9" y="915.04" width="6" height="1.5" rx="0.75" fill="#ffdc9c" opacity="0.85"/>
<ellipse cx="99.26" cy="915.15" rx="6.3" ry="5.1" fill="#fbe3e0"/>
<ellipse cx="99.26" cy="915.15" rx="5.15" ry="4.2" fill="url(#lr)"/>
<rect x="96.26" y="914.4" width="6" height="1.5" rx="0.75" fill="#ffd2d0" opacity="0.85"/>
<ellipse cx="113.62" cy="914.52" rx="6.3" ry="5.1" fill="#fdeccf"/>
<ellipse cx="113.62" cy="914.52" rx="5.15" ry="4.2" fill="url(#lo)"/>
<rect x="110.62" y="913.77" width="6" height="1.5" rx="0.75" fill="#ffdc9c" opacity="0.85"/>
<ellipse cx="127.98" cy="913.88" rx="6.3" ry="5.1" fill="#fbe3e0"/>
<ellipse cx="127.98" cy="913.88" rx="5.15" ry="4.2" fill="url(#lr)"/>
<rect x="124.98" y="913.13" width="6" height="1.5" rx="0.75" fill="#ffd2d0" opacity="0.85"/>
<ellipse cx="142.34" cy="913.24" rx="6.3" ry="5.1" fill="#fdeccf"/>
<ellipse cx="142.34" cy="913.24" rx="5.15" ry="4.2" fill="url(#lo)"/>
<rect x="139.34" y="912.49" width="6" height="1.5" rx="0.75" fill="#ffdc9c" opacity="0.85"/>
<ellipse cx="156.7" cy="912.61" rx="6.3" ry="5.1" fill="#fbe3e0"/>
<ellipse cx="156.7" cy="912.61" rx="5.15" ry="4.2" fill="url(#lr)"/>
<rect x="153.7" y="911.86" width="6" height="1.5" rx="0.75" fill="#ffd2d0" opacity="0.85"/>
<ellipse cx="41.78" cy="927.92" rx="6.3" ry="5.1" fill="#fdeccf"/>
<ellipse cx="41.78" cy="927.92" rx="5.15" ry="4.2" fill="url(#lo)"/>
<rect x="38.78" y="927.17" width="6" height="1.5" rx="0.75" fill="#ffdc9c" opacity="0.85"/>
<ellipse cx="56.14" cy="927.23" rx="6.3" ry="5.1" fill="#fbe3e0"/>
<ellipse cx="56.14" cy="927.23" rx="5.15" ry="4.2" fill="url(#lr)"/>
<rect x="53.14" y="926.48" width="6" height="1.5" rx="0.75" fill="#ffd2d0" opacity="0.85"/>
<ellipse cx="70.51" cy="926.55" rx="6.3" ry="5.1" fill="#fdeccf"/>
<ellipse cx="70.51" cy="926.55" rx="5.15" ry="4.2" fill="url(#lo)"/>
<rect x="67.51" y="925.8" width="6" height="1.5" rx="0.75" fill="#ffdc9c" opacity="0.85"/>
<ellipse cx="84.87" cy="925.86" rx="6.3" ry="5.1" fill="#fbe3e0"/>
<ellipse cx="84.87" cy="925.86" rx="5.15" ry="4.2" fill="url(#lr)"/>
<rect x="81.87" y="925.11" width="6" height="1.5" rx="0.75" fill="#ffd2d0" opacity="0.85"/>
<ellipse cx="99.23" cy="925.18" rx="6.3" ry="5.1" fill="#fdeccf"/>
<ellipse cx="99.23" cy="925.18" rx="5.15" ry="4.2" fill="url(#lo)"/>
<rect x="96.23" y="924.43" width="6" height="1.5" rx="0.75" fill="#ffdc9c" opacity="0.85"/>
<ellipse cx="113.6" cy="924.49" rx="6.3" ry="5.1" fill="#fbe3e0"/>
<ellipse cx="113.6" cy="924.49" rx="5.15" ry="4.2" fill="url(#lr)"/>
<rect x="110.6" y="923.74" width="6" height="1.5" rx="0.75" fill="#ffd2d0" opacity="0.85"/>
<ellipse cx="127.96" cy="923.81" rx="6.3" ry="5.1" fill="#fdeccf"/>
<ellipse cx="127.96" cy="923.81" rx="5.15" ry="4.2" fill="url(#lo)"/>
<rect x="124.96" y="923.06" width="6" height="1.5" rx="0.75" fill="#ffdc9c" opacity="0.85"/>
<ellipse cx="142.32" cy="923.12" rx="6.3" ry="5.1" fill="#fbe3e0"/>
<ellipse cx="142.32" cy="923.12" rx="5.15" ry="4.2" fill="url(#lr)"/>
<rect x="139.32" y="922.37" width="6" height="1.5" rx="0.75" fill="#ffd2d0" opacity="0.85"/>
<ellipse cx="156.68" cy="922.44" rx="6.3" ry="5.1" fill="#fdeccf"/>
<ellipse cx="156.68" cy="922.44" rx="5.15" ry="4.2" fill="url(#lo)"/>
<rect x="153.68" y="921.69" width="6" height="1.5" rx="0.75" fill="#ffdc9c" opacity="0.85"/>
<ellipse cx="41.74" cy="938.13" rx="6.3" ry="5.1" fill="#fbe3e0"/>
<ellipse cx="41.74" cy="938.13" rx="5.15" ry="4.2" fill="url(#lr)"/>
<rect x="38.74" y="937.38" width="6" height="1.5" rx="0.75" fill="#ffd2d0" opacity="0.85"/>
<ellipse cx="56.11" cy="937.4" rx="6.3" ry="5.1" fill="#fdeccf"/>
<ellipse cx="56.11" cy="937.4" rx="5.15" ry="4.2" fill="url(#lo)"/>
<rect x="53.11" y="936.65" width="6" height="1.5" rx="0.75" fill="#ffdc9c" opacity="0.85"/>
<ellipse cx="70.47" cy="936.67" rx="6.3" ry="5.1" fill="#fbe3e0"/>
<ellipse cx="70.47" cy="936.67" rx="5.15" ry="4.2" fill="url(#lr)"/>
<rect x="67.47" y="935.92" width="6" height="1.5" rx="0.75" fill="#ffd2d0" opacity="0.85"/>
<ellipse cx="84.84" cy="935.93" rx="6.3" ry="5.1" fill="#fdeccf"/>
<ellipse cx="84.84" cy="935.93" rx="5.15" ry="4.2" fill="url(#lo)"/>
<rect x="81.84" y="935.18" width="6" height="1.5" rx="0.75" fill="#ffdc9c" opacity="0.85"/>
<ellipse cx="99.21" cy="935.2" rx="6.3" ry="5.1" fill="#fbe3e0"/>
<ellipse cx="99.21" cy="935.2" rx="5.15" ry="4.2" fill="url(#lr)"/>
<rect x="96.21" y="934.45" width="6" height="1.5" rx="0.75" fill="#ffd2d0" opacity="0.85"/>
<ellipse cx="113.57" cy="934.47" rx="6.3" ry="5.1" fill="#fdeccf"/>
<ellipse cx="113.57" cy="934.47" rx="5.15" ry="4.2" fill="url(#lo)"/>
<rect x="110.57" y="933.72" width="6" height="1.5" rx="0.75" fill="#ffdc9c" opacity="0.85"/>
<ellipse cx="127.94" cy="933.74" rx="6.3" ry="5.1" fill="#fbe3e0"/>
<ellipse cx="127.94" cy="933.74" rx="5.15" ry="4.2" fill="url(#lr)"/>
<rect x="124.94" y="932.99" width="6" height="1.5" rx="0.75" fill="#ffd2d0" opacity="0.85"/>
<ellipse cx="142.3" cy="933" rx="6.3" ry="5.1" fill="#fdeccf"/>
<ellipse cx="142.3" cy="933" rx="5.15" ry="4.2" fill="url(#lo)"/>
<rect x="139.3" y="932.25" width="6" height="1.5" rx="0.75" fill="#ffdc9c" opacity="0.85"/>
<ellipse cx="156.67" cy="932.27" rx="6.3" ry="5.1" fill="#fbe3e0"/>
<ellipse cx="156.67" cy="932.27" rx="5.15" ry="4.2" fill="url(#lr)"/>
<rect x="153.67" y="931.52" width="6" height="1.5" rx="0.75" fill="#ffd2d0" opacity="0.85"/>
<ellipse cx="41.71" cy="948.35" rx="6.3" ry="5.1" fill="#fdeccf"/>
<ellipse cx="41.71" cy="948.35" rx="5.15" ry="4.2" fill="url(#lo)"/>
<rect x="38.71" y="947.6" width="6" height="1.5" rx="0.75" fill="#ffdc9c" opacity="0.85"/>
<ellipse cx="56.08" cy="947.57" rx="6.3" ry="5.1" fill="#fbe3e0"/>
<ellipse cx="56.08" cy="947.57" rx="5.15" ry="4.2" fill="url(#lr)"/>
<rect x="53.08" y="946.82" width="6" height="1.5" rx="0.75" fill="#ffd2d0" opacity="0.85"/>
<ellipse cx="70.44" cy="946.79" rx="6.3" ry="5.1" fill="#fdeccf"/>
<ellipse cx="70.44" cy="946.79" rx="5.15" ry="4.2" fill="url(#lo)"/>
<rect x="67.44" y="946.04" width="6" height="1.5" rx="0.75" fill="#ffdc9c" opacity="0.85"/>
<ellipse cx="84.81" cy="946.01" rx="6.3" ry="5.1" fill="#fbe3e0"/>
<ellipse cx="84.81" cy="946.01" rx="5.15" ry="4.2" fill="url(#lr)"/>
<rect x="81.81" y="945.26" width="6" height="1.5" rx="0.75" fill="#ffd2d0" opacity="0.85"/>
<ellipse cx="99.18" cy="945.23" rx="6.3" ry="5.1" fill="#fdeccf"/>
<ellipse cx="99.18" cy="945.23" rx="5.15" ry="4.2" fill="url(#lo)"/>
<rect x="96.18" y="944.48" width="6" height="1.5" rx="0.75" fill="#ffdc9c" opacity="0.85"/>
<ellipse cx="113.55" cy="944.45" rx="6.3" ry="5.1" fill="#fbe3e0"/>
<ellipse cx="113.55" cy="944.45" rx="5.15" ry="4.2" fill="url(#lr)"/>
<rect x="110.55" y="943.7" width="6" height="1.5" rx="0.75" fill="#ffd2d0" opacity="0.85"/>
<ellipse cx="127.92" cy="943.67" rx="6.3" ry="5.1" fill="#fdeccf"/>
<ellipse cx="127.92" cy="943.67" rx="5.15" ry="4.2" fill="url(#lo)"/>
<rect x="124.92" y="942.92" width="6" height="1.5" rx="0.75" fill="#ffdc9c" opacity="0.85"/>
<ellipse cx="142.28" cy="942.88" rx="6.3" ry="5.1" fill="#fbe3e0"/>
<ellipse cx="142.28" cy="942.88" rx="5.15" ry="4.2" fill="url(#lr)"/>
<rect x="139.28" y="942.13" width="6" height="1.5" rx="0.75" fill="#ffd2d0" opacity="0.85"/>
<ellipse cx="156.65" cy="942.1" rx="6.3" ry="5.1" fill="#fdeccf"/>
<ellipse cx="156.65" cy="942.1" rx="5.15" ry="4.2" fill="url(#lo)"/>
<rect x="153.65" y="941.35" width="6" height="1.5" rx="0.75" fill="#ffdc9c" opacity="0.85"/>
<ellipse cx="41.67" cy="958.57" rx="6.3" ry="5.1" fill="#fbe3e0"/>
<ellipse cx="41.67" cy="958.57" rx="5.15" ry="4.2" fill="url(#lr)"/>
<rect x="38.67" y="957.82" width="6" height="1.5" rx="0.75" fill="#ffd2d0" opacity="0.85"/>
<ellipse cx="56.04" cy="957.74" rx="6.3" ry="5.1" fill="#fdeccf"/>
<ellipse cx="56.04" cy="957.74" rx="5.15" ry="4.2" fill="url(#lo)"/>
<rect x="53.04" y="956.99" width="6" height="1.5" rx="0.75" fill="#ffdc9c" opacity="0.85"/>
<ellipse cx="70.41" cy="956.91" rx="6.3" ry="5.1" fill="#fbe3e0"/>
<ellipse cx="70.41" cy="956.91" rx="5.15" ry="4.2" fill="url(#lr)"/>
<rect x="67.41" y="956.16" width="6" height="1.5" rx="0.75" fill="#ffd2d0" opacity="0.85"/>
<ellipse cx="84.78" cy="956.08" rx="6.3" ry="5.1" fill="#fdeccf"/>
<ellipse cx="84.78" cy="956.08" rx="5.15" ry="4.2" fill="url(#lo)"/>
<rect x="81.78" y="955.33" width="6" height="1.5" rx="0.75" fill="#ffdc9c" opacity="0.85"/>
<ellipse cx="99.15" cy="955.25" rx="6.3" ry="5.1" fill="#fbe3e0"/>
<ellipse cx="99.15" cy="955.25" rx="5.15" ry="4.2" fill="url(#lr)"/>
<rect x="96.15" y="954.5" width="6" height="1.5" rx="0.75" fill="#ffd2d0" opacity="0.85"/>
<ellipse cx="113.52" cy="954.42" rx="6.3" ry="5.1" fill="#fdeccf"/>
<ellipse cx="113.52" cy="954.42" rx="5.15" ry="4.2" fill="url(#lo)"/>
<rect x="110.52" y="953.67" width="6" height="1.5" rx="0.75" fill="#ffdc9c" opacity="0.85"/>
<ellipse cx="127.89" cy="953.59" rx="6.3" ry="5.1" fill="#fbe3e0"/>
<ellipse cx="127.89" cy="953.59" rx="5.15" ry="4.2" fill="url(#lr)"/>
<rect x="124.89" y="952.84" width="6" height="1.5" rx="0.75" fill="#ffd2d0" opacity="0.85"/>
<ellipse cx="142.26" cy="952.76" rx="6.3" ry="5.1" fill="#fdeccf"/>
<ellipse cx="142.26" cy="952.76" rx="5.15" ry="4.2" fill="url(#lo)"/>
<rect x="139.26" y="952.01" width="6" height="1.5" rx="0.75" fill="#ffdc9c" opacity="0.85"/>
<ellipse cx="156.63" cy="951.94" rx="6.3" ry="5.1" fill="#fbe3e0"/>
<ellipse cx="156.63" cy="951.94" rx="5.15" ry="4.2" fill="url(#lr)"/>
<rect x="153.63" y="951.19" width="6" height="1.5" rx="0.75" fill="#ffd2d0" opacity="0.85"/>
<ellipse cx="41.64" cy="968.78" rx="6.3" ry="5.1" fill="#fdeccf"/>
<ellipse cx="41.64" cy="968.78" rx="5.15" ry="4.2" fill="url(#lo)"/>
<rect x="38.64" y="968.03" width="6" height="1.5" rx="0.75" fill="#ffdc9c" opacity="0.85"/>
<ellipse cx="56.01" cy="967.91" rx="6.3" ry="5.1" fill="#fbe3e0"/>
<ellipse cx="56.01" cy="967.91" rx="5.15" ry="4.2" fill="url(#lr)"/>
<rect x="53.01" y="967.16" width="6" height="1.5" rx="0.75" fill="#ffd2d0" opacity="0.85"/>
<ellipse cx="70.38" cy="967.03" rx="6.3" ry="5.1" fill="#fdeccf"/>
<ellipse cx="70.38" cy="967.03" rx="5.15" ry="4.2" fill="url(#lo)"/>
<rect x="67.38" y="966.28" width="6" height="1.5" rx="0.75" fill="#ffdc9c" opacity="0.85"/>
<ellipse cx="84.75" cy="966.15" rx="6.3" ry="5.1" fill="#fbe3e0"/>
<ellipse cx="84.75" cy="966.15" rx="5.15" ry="4.2" fill="url(#lr)"/>
<rect x="81.75" y="965.4" width="6" height="1.5" rx="0.75" fill="#ffd2d0" opacity="0.85"/>
<ellipse cx="99.13" cy="965.28" rx="6.3" ry="5.1" fill="#fdeccf"/>
<ellipse cx="99.13" cy="965.28" rx="5.15" ry="4.2" fill="url(#lo)"/>
<rect x="96.13" y="964.53" width="6" height="1.5" rx="0.75" fill="#ffdc9c" opacity="0.85"/>
<ellipse cx="113.5" cy="964.4" rx="6.3" ry="5.1" fill="#fbe3e0"/>
<ellipse cx="113.5" cy="964.4" rx="5.15" ry="4.2" fill="url(#lr)"/>
<rect x="110.5" y="963.65" width="6" height="1.5" rx="0.75" fill="#ffd2d0" opacity="0.85"/>
<ellipse cx="127.87" cy="963.52" rx="6.3" ry="5.1" fill="#fdeccf"/>
<ellipse cx="127.87" cy="963.52" rx="5.15" ry="4.2" fill="url(#lo)"/>
<rect x="124.87" y="962.77" width="6" height="1.5" rx="0.75" fill="#ffdc9c" opacity="0.85"/>
<ellipse cx="142.24" cy="962.64" rx="6.3" ry="5.1" fill="#fbe3e0"/>
<ellipse cx="142.24" cy="962.64" rx="5.15" ry="4.2" fill="url(#lr)"/>
<rect x="139.24" y="961.89" width="6" height="1.5" rx="0.75" fill="#ffd2d0" opacity="0.85"/>
<ellipse cx="156.62" cy="961.77" rx="6.3" ry="5.1" fill="#fdeccf"/>
<ellipse cx="156.62" cy="961.77" rx="5.15" ry="4.2" fill="url(#lo)"/>
<rect x="153.62" y="961.02" width="6" height="1.5" rx="0.75" fill="#ffdc9c" opacity="0.85"/>
<ellipse cx="41.6" cy="979" rx="6.3" ry="5.1" fill="#fbe3e0"/>
<ellipse cx="41.6" cy="979" rx="5.15" ry="4.2" fill="url(#lr)"/>
<rect x="38.6" y="978.25" width="6" height="1.5" rx="0.75" fill="#ffd2d0" opacity="0.85"/>
<ellipse cx="55.98" cy="978.08" rx="6.3" ry="5.1" fill="#fdeccf"/>
<ellipse cx="55.98" cy="978.08" rx="5.15" ry="4.2" fill="url(#lo)"/>
<rect x="52.98" y="977.33" width="6" height="1.5" rx="0.75" fill="#ffdc9c" opacity="0.85"/>
<ellipse cx="70.35" cy="977.15" rx="6.3" ry="5.1" fill="#fbe3e0"/>
<ellipse cx="70.35" cy="977.15" rx="5.15" ry="4.2" fill="url(#lr)"/>
<rect x="67.35" y="976.4" width="6" height="1.5" rx="0.75" fill="#ffd2d0" opacity="0.85"/>
<ellipse cx="84.72" cy="976.23" rx="6.3" ry="5.1" fill="#fdeccf"/>
<ellipse cx="84.72" cy="976.23" rx="5.15" ry="4.2" fill="url(#lo)"/>
<rect x="81.72" y="975.48" width="6" height="1.5" rx="0.75" fill="#ffdc9c" opacity="0.85"/>
<ellipse cx="99.1" cy="975.3" rx="6.3" ry="5.1" fill="#fbe3e0"/>
<ellipse cx="99.1" cy="975.3" rx="5.15" ry="4.2" fill="url(#lr)"/>
<rect x="96.1" y="974.55" width="6" height="1.5" rx="0.75" fill="#ffd2d0" opacity="0.85"/>
<ellipse cx="113.47" cy="974.38" rx="6.3" ry="5.1" fill="#fdeccf"/>
<ellipse cx="113.47" cy="974.38" rx="5.15" ry="4.2" fill="url(#lo)"/>
<rect x="110.47" y="973.62" width="6" height="1.5" rx="0.75" fill="#ffdc9c" opacity="0.85"/>
<ellipse cx="127.85" cy="973.45" rx="6.3" ry="5.1" fill="#fbe3e0"/>
<ellipse cx="127.85" cy="973.45" rx="5.15" ry="4.2" fill="url(#lr)"/>
<rect x="124.85" y="972.7" width="6" height="1.5" rx="0.75" fill="#ffd2d0" opacity="0.85"/>
<ellipse cx="142.22" cy="972.52" rx="6.3" ry="5.1" fill="#fdeccf"/>
<ellipse cx="142.22" cy="972.52" rx="5.15" ry="4.2" fill="url(#lo)"/>
<rect x="139.22" y="971.77" width="6" height="1.5" rx="0.75" fill="#ffdc9c" opacity="0.85"/>
<ellipse cx="156.6" cy="971.6" rx="6.3" ry="5.1" fill="#fbe3e0"/>
<ellipse cx="156.6" cy="971.6" rx="5.15" ry="4.2" fill="url(#lr)"/>
<rect x="153.6" y="970.85" width="6" height="1.5" rx="0.75" fill="#ffd2d0" opacity="0.85"/>
</g>
</svg>
<div class="t " style="font-size:48.3px;transform:translate(300.9px,2.6px) scale(0.9928,1.0000);">AG-Pro2000-L-5S</div>
<div class="t " style="font-size:40px;transform:translate(289.59px,74.8px) scale(1.0039,1.0000);">(396pcs*5W Dual Chip)</div>
<div class="abs" style="left:0;top:126px;width:1000px;height:1.6px;background:#e6e6e6"></div>
<div class="abs" style="left:492.5px;top:126px;width:4px;height:288px;background:#0a0a0a"></div>
<div class="abs" style="left:0;top:411.3px;width:1000px;height:2.3px;background:#0a0a0a"></div>
<div class="t red" style="font-size:39.7px;transform:translate(101.99px,173.78px) scale(1.0100,1.0550);">Red Wavelength</div>
<div class="t red" style="font-size:39.7px;transform:translate(104.81px,243.49px) scale(1.0047,1.0550);">198pcs * 630nm</div>
<div class="t red" style="font-size:39.7px;transform:translate(104.81px,313.49px) scale(1.0047,1.0550);">198pcs * 660nm</div>
<div class="t pur" style="font-size:39.7px;transform:translate(592.98px,149.49px) scale(1.0137,1.0550);">N.IR Wavelength</div>
<div class="t pur" style="font-size:39.7px;transform:translate(617px,219.88px) scale(1.0101,1.0550);">99cs * 810nm</div>
<div class="t pur" style="font-size:39.7px;transform:translate(616.4px,289.88px) scale(1.0091,1.0550);">99pcs / 830nm</div>
<div class="t pur" style="font-size:39.7px;transform:translate(607.22px,359.88px) scale(0.9990,1.0550);">198pcs * 850nm</div>
<div class="abs" style="left:171px;top:424px;width:523px;height:553.8px;clip-path:polygon(0 12.5px,100% 0,100% 100%,0 100%);background:linear-gradient(to right,#ff6060 0%,#ff6c6c 15%,#ff8a8a 35%,#ffa8a8 50%,#ffc6c6 65%,#ffe0e0 80%,#fff0ee 90%,#fff9f8 96%,#fffdfc 100%)"></div>
<div class="abs" style="left:0;top:994px;width:694px;height:6px;background:linear-gradient(to bottom,#fafafa,#f1f1f1)"></div>
<div class="abs" style="left:693.5px;top:415.5px;width:306.5px;height:584.5px;background:linear-gradient(to bottom,#f0f0f0 0,#e6e6e6 3px,#e6e6e6 100%)"></div>
<div class="abs" style="left:693px;top:567.4px;width:307px;height:2.9px;background:#0a0a0a"></div>
<div class="abs" style="left:693px;top:724.4px;width:307px;height:2.9px;background:#0a0a0a"></div>
<div class="abs" style="left:693px;top:883.5px;width:307px;height:2.9px;background:#0a0a0a"></div>
<div class="t " style="font-size:38.4px;transform:translate(730.79px,434.84px) scale(1.0458,1.0550);">Real Power</div>
<div class="t " style="font-size:37.8px;transform:translate(731.2px,506.09px) scale(1.0573,1.0550);">580W +/- 5%</div>
<div class="t " style="font-size:37.2px;transform:translate(717.16px,594.09px) scale(1.0874,1.0550);">Lighting Angle</div>
<div class="t " style="font-size:37.4px;transform:translate(740.68px,664.5px) scale(1.0810,1.0550);">60 degree</div>
<div class="t " style="font-size:37.8px;transform:translate(739.49px,753.19px) scale(1.0627,1.0550);">Dimensions:</div>
<div class="t " style="font-size:37.8px;transform:translate(697.62px,823.29px) scale(1.0513,1.0550);">1180*270*65mm</div>
<div class="t " style="font-size:36.2px;transform:translate(758.47px,898px) scale(1.0810,1.0000);">Plug Type</div>
<div class="t " style="font-size:37.8px;transform:translate(725.98px,961.68px) scale(1.0284,1.0200);height:34px;overflow:hidden;">US/EU/AU/UK</div>
<div class="t " style="font-size:39px;transform:translate(260.93px,450.51px) scale(1.1589,1.0300);-webkit-text-stroke-width:0.3px;">Irradiance</div>
<div class="t " style="font-size:22.5px;transform:translate(249.14px,760.41px) scale(1.1154,1.0550);">141</div>
<div class="t " style="font-size:22.5px;transform:translate(358.66px,760.41px) scale(1.1709,1.0550);">126</div>
<div class="t " style="font-size:22.5px;transform:translate(459.11px,760.41px) scale(1.1355,1.0550);">117</div>
<div class="t " style="font-size:22.5px;transform:translate(561.3px,760.41px) scale(1.2051,1.0550);">105</div>
<div class="t " style="font-size:20.2px;transform:translate(240.04px,806.8px) scale(1.1228,1.0000);-webkit-text-stroke-width:0.4px;">mw/cm2</div>
<div class="t " style="font-size:20.2px;transform:translate(348.54px,806.8px) scale(1.1228,1.0000);-webkit-text-stroke-width:0.4px;">mw/cm2</div>
<div class="t " style="font-size:20.2px;transform:translate(457.34px,806.8px) scale(1.1228,1.0000);-webkit-text-stroke-width:0.4px;">mw/cm2</div>
<div class="t " style="font-size:20.2px;transform:translate(559.65px,806.8px) scale(1.1132,1.0000);-webkit-text-stroke-width:0.4px;">mw/cm2</div>
<svg class="abs" style="left:180px;top:830px" width="500" height="140" viewBox="180 830 500 140">
<line x1="205" y1="937.5" x2="645" y2="937.5" stroke="#0a0a0a" stroke-width="2.2"/>
<polygon points="651.3,937.5 640.5,932.3 642.5,937.5 640.5,942.7" fill="#0a0a0a"/>
<circle cx="205" cy="937.5" r="4.1" fill="#0a0a0a"/>
<circle cx="279.5" cy="937.5" r="4.1" fill="#0a0a0a"/>
<circle cx="382" cy="937.5" r="4.1" fill="#0a0a0a"/>
<circle cx="485" cy="937.5" r="4.1" fill="#0a0a0a"/>
<circle cx="587.5" cy="937.5" r="4.1" fill="#0a0a0a"/>
<line x1="279.5" y1="937.5" x2="279.5" y2="846" stroke="#0a0a0a" stroke-width="2.4"/>
<polygon points="279.5,839.3 274.3,848.6 279.5,847.2 284.7,848.6" fill="#0a0a0a"/>
<line x1="382" y1="937.5" x2="382" y2="846" stroke="#0a0a0a" stroke-width="2.4"/>
<polygon points="382,839.3 376.8,848.6 382,847.2 387.2,848.6" fill="#0a0a0a"/>
<line x1="485" y1="937.5" x2="485" y2="846" stroke="#0a0a0a" stroke-width="2.4"/>
<polygon points="485,839.3 479.8,848.6 485,847.2 490.2,848.6" fill="#0a0a0a"/>
<line x1="587.5" y1="937.5" x2="587.5" y2="846" stroke="#0a0a0a" stroke-width="2.4"/>
<polygon points="587.5,839.3 582.3,848.6 587.5,847.2 592.7,848.6" fill="#0a0a0a"/>
</svg>
<div class="t " style="font-size:12.6px;transform:translate(190.69px,950.75px) scale(1.0184,1.0550);font-weight:bold;color:#111;">0 inch</div>
<div class="t " style="font-size:12.6px;transform:translate(267.25px,950.75px) scale(1.0083,1.0550);font-weight:bold;color:#111;">3 inch</div>
<div class="t " style="font-size:12.6px;transform:translate(367.61px,950.75px) scale(1.0261,1.0550);font-weight:bold;color:#111;">6 inch</div>
<div class="t " style="font-size:12.6px;transform:translate(469.73px,950.75px) scale(1.0129,1.0550);font-weight:bold;color:#111;">12 inch</div>
<div class="t " style="font-size:12.6px;transform:translate(569.72px,950.75px) scale(1.0296,1.0550);font-weight:bold;color:#111;">18 inch</div>
</body></html>
